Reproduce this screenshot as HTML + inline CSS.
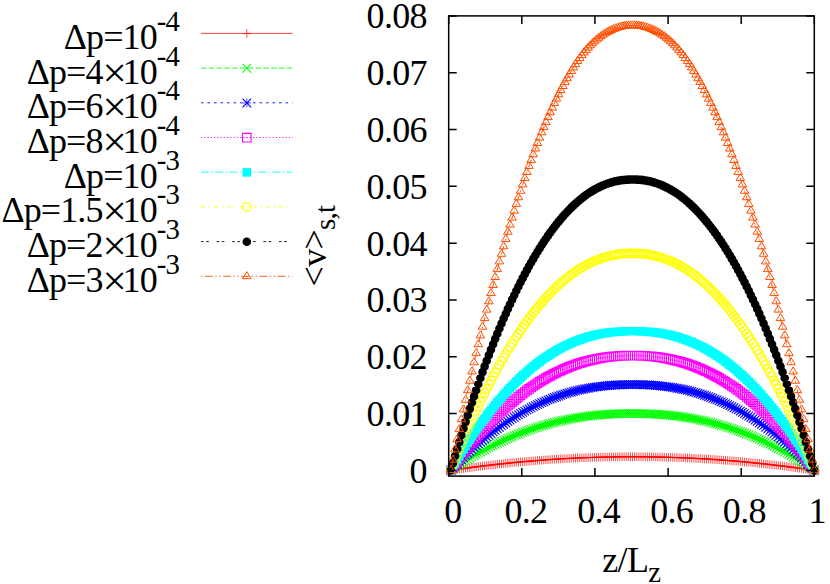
<!DOCTYPE html>
<html><head><meta charset="utf-8"><title>plot</title>
<style>html,body{margin:0;padding:0;background:#fff}svg{display:block}text{font-family:"Liberation Serif",serif;fill:#000;letter-spacing:-0.7px}</style></head><body>
<svg width="830" height="584" viewBox="0 0 830 584">
<rect width="830" height="584" fill="#fff"/>
<defs>
</defs>
<polyline points="450.81,470.4 452.93,470.08 455.04,469.77 457.15,469.47 459.27,469.16 461.38,468.86 463.49,468.56 465.61,468.27 467.72,467.98 469.83,467.7 471.95,467.41 474.06,467.14 476.17,466.86 478.29,466.59 480.4,466.32 482.51,466.06 484.63,465.8 486.74,465.54 488.85,465.29 490.97,465.04 493.08,464.8 495.19,464.55 497.31,464.32 499.42,464.08 501.53,463.85 503.65,463.63 505.76,463.4 507.87,463.18 509.99,462.97 512.1,462.76 514.21,462.55 516.33,462.34 518.44,462.14 520.55,461.94 522.67,461.75 524.78,461.56 526.89,461.37 529.01,461.19 531.12,461.01 533.23,460.84 535.35,460.67 537.46,460.5 539.57,460.33 541.68,460.17 543.8,460.02 545.91,459.86 548.02,459.72 550.14,459.57 552.25,459.43 554.36,459.29 556.48,459.15 558.59,459.02 560.7,458.9 562.82,458.77 564.93,458.65 567.04,458.54 569.16,458.42 571.27,458.32 573.38,458.21 575.5,458.11 577.61,458.01 579.72,457.92 581.84,457.83 583.95,457.74 586.06,457.66 588.18,457.58 590.29,457.5 592.4,457.43 594.52,457.36 596.63,457.3 598.74,457.24 600.86,457.18 602.97,457.13 605.08,457.08 607.2,457.03 609.31,456.99 611.42,456.95 613.54,456.91 615.65,456.88 617.76,456.86 619.88,456.83 621.99,456.81 624.1,456.8 626.22,456.78 628.33,456.77 630.44,456.77 632.56,456.77 634.67,456.77 636.78,456.77 638.9,456.78 641.01,456.8 643.12,456.81 645.24,456.83 647.35,456.86 649.46,456.88 651.58,456.91 653.69,456.95 655.8,456.99 657.92,457.03 660.03,457.08 662.14,457.13 664.26,457.18 666.37,457.24 668.48,457.3 670.6,457.36 672.71,457.43 674.82,457.5 676.94,457.58 679.05,457.66 681.16,457.74 683.28,457.83 685.39,457.92 687.5,458.01 689.62,458.11 691.73,458.21 693.84,458.32 695.96,458.42 698.07,458.54 700.18,458.65 702.3,458.77 704.41,458.9 706.52,459.02 708.64,459.15 710.75,459.29 712.86,459.43 714.98,459.57 717.09,459.72 719.2,459.86 721.32,460.02 723.43,460.17 725.54,460.33 727.65,460.5 729.77,460.67 731.88,460.84 733.99,461.01 736.11,461.19 738.22,461.37 740.33,461.56 742.45,461.75 744.56,461.94 746.67,462.14 748.79,462.34 750.9,462.55 753.01,462.76 755.13,462.97 757.24,463.18 759.35,463.4 761.47,463.63 763.58,463.85 765.69,464.08 767.81,464.32 769.92,464.55 772.03,464.8 774.15,465.04 776.26,465.29 778.37,465.54 780.49,465.8 782.6,466.06 784.71,466.32 786.83,466.59 788.94,466.86 791.05,467.14 793.17,467.41 795.28,467.7 797.39,467.98 799.51,468.27 801.62,468.56 803.73,468.86 805.85,469.16 807.96,469.47 810.07,469.77 812.19,470.08 814.3,470.4" fill="none" stroke="#ff0000" stroke-width="0.75" stroke-dasharray="none"/>
<path d="M446.51,470.4h8.6M450.81,466.1v8.6M448.63,470.08h8.6M452.93,465.78v8.6M450.74,469.77h8.6M455.04,465.47v8.6M452.85,469.47h8.6M457.15,465.17v8.6M454.97,469.16h8.6M459.27,464.86v8.6M457.08,468.86h8.6M461.38,464.56v8.6M459.19,468.56h8.6M463.49,464.26v8.6M461.31,468.27h8.6M465.61,463.97v8.6M463.42,467.98h8.6M467.72,463.68v8.6M465.53,467.7h8.6M469.83,463.4v8.6M467.65,467.41h8.6M471.95,463.11v8.6M469.76,467.14h8.6M474.06,462.84v8.6M471.87,466.86h8.6M476.17,462.56v8.6M473.99,466.59h8.6M478.29,462.29v8.6M476.1,466.32h8.6M480.4,462.02v8.6M478.21,466.06h8.6M482.51,461.76v8.6M480.33,465.8h8.6M484.63,461.5v8.6M482.44,465.54h8.6M486.74,461.24v8.6M484.55,465.29h8.6M488.85,460.99v8.6M486.67,465.04h8.6M490.97,460.74v8.6M488.78,464.8h8.6M493.08,460.5v8.6M490.89,464.55h8.6M495.19,460.25v8.6M493.01,464.32h8.6M497.31,460.02v8.6M495.12,464.08h8.6M499.42,459.78v8.6M497.23,463.85h8.6M501.53,459.55v8.6M499.35,463.63h8.6M503.65,459.33v8.6M501.46,463.4h8.6M505.76,459.1v8.6M503.57,463.18h8.6M507.87,458.88v8.6M505.69,462.97h8.6M509.99,458.67v8.6M507.8,462.76h8.6M512.1,458.46v8.6M509.91,462.55h8.6M514.21,458.25v8.6M512.03,462.34h8.6M516.33,458.04v8.6M514.14,462.14h8.6M518.44,457.84v8.6M516.25,461.94h8.6M520.55,457.64v8.6M518.37,461.75h8.6M522.67,457.45v8.6M520.48,461.56h8.6M524.78,457.26v8.6M522.59,461.37h8.6M526.89,457.07v8.6M524.71,461.19h8.6M529.01,456.89v8.6M526.82,461.01h8.6M531.12,456.71v8.6M528.93,460.84h8.6M533.23,456.54v8.6M531.05,460.67h8.6M535.35,456.37v8.6M533.16,460.5h8.6M537.46,456.2v8.6M535.27,460.33h8.6M539.57,456.03v8.6M537.38,460.17h8.6M541.68,455.87v8.6M539.5,460.02h8.6M543.8,455.72v8.6M541.61,459.86h8.6M545.91,455.56v8.6M543.72,459.72h8.6M548.02,455.42v8.6M545.84,459.57h8.6M550.14,455.27v8.6M547.95,459.43h8.6M552.25,455.13v8.6M550.06,459.29h8.6M554.36,454.99v8.6M552.18,459.15h8.6M556.48,454.85v8.6M554.29,459.02h8.6M558.59,454.72v8.6M556.4,458.9h8.6M560.7,454.6v8.6M558.52,458.77h8.6M562.82,454.47v8.6M560.63,458.65h8.6M564.93,454.35v8.6M562.74,458.54h8.6M567.04,454.24v8.6M564.86,458.42h8.6M569.16,454.12v8.6M566.97,458.32h8.6M571.27,454.02v8.6M569.08,458.21h8.6M573.38,453.91v8.6M571.2,458.11h8.6M575.5,453.81v8.6M573.31,458.01h8.6M577.61,453.71v8.6M575.42,457.92h8.6M579.72,453.62v8.6M577.54,457.83h8.6M581.84,453.53v8.6M579.65,457.74h8.6M583.95,453.44v8.6M581.76,457.66h8.6M586.06,453.36v8.6M583.88,457.58h8.6M588.18,453.28v8.6M585.99,457.5h8.6M590.29,453.2v8.6M588.1,457.43h8.6M592.4,453.13v8.6M590.22,457.36h8.6M594.52,453.06v8.6M592.33,457.3h8.6M596.63,453v8.6M594.44,457.24h8.6M598.74,452.94v8.6M596.56,457.18h8.6M600.86,452.88v8.6M598.67,457.13h8.6M602.97,452.83v8.6M600.78,457.08h8.6M605.08,452.78v8.6M602.9,457.03h8.6M607.2,452.73v8.6M605.01,456.99h8.6M609.31,452.69v8.6M607.12,456.95h8.6M611.42,452.65v8.6M609.24,456.91h8.6M613.54,452.61v8.6M611.35,456.88h8.6M615.65,452.58v8.6M613.46,456.86h8.6M617.76,452.56v8.6M615.58,456.83h8.6M619.88,452.53v8.6M617.69,456.81h8.6M621.99,452.51v8.6M619.8,456.8h8.6M624.1,452.5v8.6M621.92,456.78h8.6M626.22,452.48v8.6M624.03,456.77h8.6M628.33,452.47v8.6M626.14,456.77h8.6M630.44,452.47v8.6M628.26,456.77h8.6M632.56,452.47v8.6M630.37,456.77h8.6M634.67,452.47v8.6M632.48,456.77h8.6M636.78,452.47v8.6M634.6,456.78h8.6M638.9,452.48v8.6M636.71,456.8h8.6M641.01,452.5v8.6M638.82,456.81h8.6M643.12,452.51v8.6M640.94,456.83h8.6M645.24,452.53v8.6M643.05,456.86h8.6M647.35,452.56v8.6M645.16,456.88h8.6M649.46,452.58v8.6M647.28,456.91h8.6M651.58,452.61v8.6M649.39,456.95h8.6M653.69,452.65v8.6M651.5,456.99h8.6M655.8,452.69v8.6M653.62,457.03h8.6M657.92,452.73v8.6M655.73,457.08h8.6M660.03,452.78v8.6M657.84,457.13h8.6M662.14,452.83v8.6M659.96,457.18h8.6M664.26,452.88v8.6M662.07,457.24h8.6M666.37,452.94v8.6M664.18,457.3h8.6M668.48,453v8.6M666.3,457.36h8.6M670.6,453.06v8.6M668.41,457.43h8.6M672.71,453.13v8.6M670.52,457.5h8.6M674.82,453.2v8.6M672.64,457.58h8.6M676.94,453.28v8.6M674.75,457.66h8.6M679.05,453.36v8.6M676.86,457.74h8.6M681.16,453.44v8.6M678.98,457.83h8.6M683.28,453.53v8.6M681.09,457.92h8.6M685.39,453.62v8.6M683.2,458.01h8.6M687.5,453.71v8.6M685.32,458.11h8.6M689.62,453.81v8.6M687.43,458.21h8.6M691.73,453.91v8.6M689.54,458.32h8.6M693.84,454.02v8.6M691.66,458.42h8.6M695.96,454.12v8.6M693.77,458.54h8.6M698.07,454.24v8.6M695.88,458.65h8.6M700.18,454.35v8.6M698,458.77h8.6M702.3,454.47v8.6M700.11,458.9h8.6M704.41,454.6v8.6M702.22,459.02h8.6M706.52,454.72v8.6M704.34,459.15h8.6M708.64,454.85v8.6M706.45,459.29h8.6M710.75,454.99v8.6M708.56,459.43h8.6M712.86,455.13v8.6M710.68,459.57h8.6M714.98,455.27v8.6M712.79,459.72h8.6M717.09,455.42v8.6M714.9,459.86h8.6M719.2,455.56v8.6M717.02,460.02h8.6M721.32,455.72v8.6M719.13,460.17h8.6M723.43,455.87v8.6M721.24,460.33h8.6M725.54,456.03v8.6M723.35,460.5h8.6M727.65,456.2v8.6M725.47,460.67h8.6M729.77,456.37v8.6M727.58,460.84h8.6M731.88,456.54v8.6M729.69,461.01h8.6M733.99,456.71v8.6M731.81,461.19h8.6M736.11,456.89v8.6M733.92,461.37h8.6M738.22,457.07v8.6M736.03,461.56h8.6M740.33,457.26v8.6M738.15,461.75h8.6M742.45,457.45v8.6M740.26,461.94h8.6M744.56,457.64v8.6M742.37,462.14h8.6M746.67,457.84v8.6M744.49,462.34h8.6M748.79,458.04v8.6M746.6,462.55h8.6M750.9,458.25v8.6M748.71,462.76h8.6M753.01,458.46v8.6M750.83,462.97h8.6M755.13,458.67v8.6M752.94,463.18h8.6M757.24,458.88v8.6M755.05,463.4h8.6M759.35,459.1v8.6M757.17,463.63h8.6M761.47,459.33v8.6M759.28,463.85h8.6M763.58,459.55v8.6M761.39,464.08h8.6M765.69,459.78v8.6M763.51,464.32h8.6M767.81,460.02v8.6M765.62,464.55h8.6M769.92,460.25v8.6M767.73,464.8h8.6M772.03,460.5v8.6M769.85,465.04h8.6M774.15,460.74v8.6M771.96,465.29h8.6M776.26,460.99v8.6M774.07,465.54h8.6M778.37,461.24v8.6M776.19,465.8h8.6M780.49,461.5v8.6M778.3,466.06h8.6M782.6,461.76v8.6M780.41,466.32h8.6M784.71,462.02v8.6M782.53,466.59h8.6M786.83,462.29v8.6M784.64,466.86h8.6M788.94,462.56v8.6M786.75,467.14h8.6M791.05,462.84v8.6M788.87,467.41h8.6M793.17,463.11v8.6M790.98,467.7h8.6M795.28,463.4v8.6M793.09,467.98h8.6M797.39,463.68v8.6M795.21,468.27h8.6M799.51,463.97v8.6M797.32,468.56h8.6M801.62,464.26v8.6M799.43,468.86h8.6M803.73,464.56v8.6M801.55,469.16h8.6M805.85,464.86v8.6M803.66,469.47h8.6M807.96,465.17v8.6M805.77,469.77h8.6M810.07,465.47v8.6M807.89,470.08h8.6M812.19,465.78v8.6M810,470.4h8.6M814.3,466.1v8.6" fill="none" stroke="#ff0000" stroke-width="0.7"/>
<polyline points="450.81,470.4 452.93,468.96 455.04,467.53 457.15,466.13 459.27,464.75 461.38,463.39 463.49,462.04 465.61,460.72 467.72,459.42 469.83,458.14 471.95,456.87 474.06,455.63 476.17,454.41 478.29,453.2 480.4,452.02 482.51,450.85 484.63,449.71 486.74,448.58 488.85,447.48 490.97,446.39 493.08,445.32 495.19,444.28 497.31,443.25 499.42,442.24 501.53,441.25 503.65,440.27 505.76,439.32 507.87,438.39 509.99,437.47 512.1,436.58 514.21,435.7 516.33,434.84 518.44,434 520.55,433.18 522.67,432.37 524.78,431.59 526.89,430.82 529.01,430.07 531.12,429.34 533.23,428.63 535.35,427.93 537.46,427.25 539.57,426.6 541.68,425.95 543.8,425.33 545.91,424.72 548.02,424.14 550.14,423.56 552.25,423.01 554.36,422.47 556.48,421.95 558.59,421.45 560.7,420.97 562.82,420.5 564.93,420.04 567.04,419.61 569.16,419.19 571.27,418.79 573.38,418.4 575.5,418.03 577.61,417.68 579.72,417.34 581.84,417.02 583.95,416.71 586.06,416.42 588.18,416.15 590.29,415.89 592.4,415.64 594.52,415.41 596.63,415.2 598.74,414.99 600.86,414.81 602.97,414.64 605.08,414.48 607.2,414.34 609.31,414.21 611.42,414.09 613.54,413.99 615.65,413.9 617.76,413.82 619.88,413.75 621.99,413.7 624.1,413.66 626.22,413.63 628.33,413.6 630.44,413.59 632.56,413.59 634.67,413.59 636.78,413.6 638.9,413.63 641.01,413.66 643.12,413.7 645.24,413.75 647.35,413.82 649.46,413.9 651.58,413.99 653.69,414.09 655.8,414.21 657.92,414.34 660.03,414.48 662.14,414.64 664.26,414.81 666.37,414.99 668.48,415.2 670.6,415.41 672.71,415.64 674.82,415.89 676.94,416.15 679.05,416.42 681.16,416.71 683.28,417.02 685.39,417.34 687.5,417.68 689.62,418.03 691.73,418.4 693.84,418.79 695.96,419.19 698.07,419.61 700.18,420.04 702.3,420.5 704.41,420.97 706.52,421.45 708.64,421.95 710.75,422.47 712.86,423.01 714.98,423.56 717.09,424.14 719.2,424.72 721.32,425.33 723.43,425.95 725.54,426.6 727.65,427.25 729.77,427.93 731.88,428.63 733.99,429.34 736.11,430.07 738.22,430.82 740.33,431.59 742.45,432.37 744.56,433.18 746.67,434 748.79,434.84 750.9,435.7 753.01,436.58 755.13,437.47 757.24,438.39 759.35,439.32 761.47,440.27 763.58,441.25 765.69,442.24 767.81,443.25 769.92,444.28 772.03,445.32 774.15,446.39 776.26,447.48 778.37,448.58 780.49,449.71 782.6,450.85 784.71,452.02 786.83,453.2 788.94,454.41 791.05,455.63 793.17,456.87 795.28,458.14 797.39,459.42 799.51,460.72 801.62,462.04 803.73,463.39 805.85,464.75 807.96,466.13 810.07,467.53 812.19,468.96 814.3,470.4" fill="none" stroke="#00ff00" stroke-width="0.9" stroke-dasharray="5.20,2.60"/>
<path d="M446.51,466.1l8.6,8.6m-8.6,0l8.6,-8.6M448.63,464.66l8.6,8.6m-8.6,0l8.6,-8.6M450.74,463.23l8.6,8.6m-8.6,0l8.6,-8.6M452.85,461.83l8.6,8.6m-8.6,0l8.6,-8.6M454.97,460.45l8.6,8.6m-8.6,0l8.6,-8.6M457.08,459.09l8.6,8.6m-8.6,0l8.6,-8.6M459.19,457.74l8.6,8.6m-8.6,0l8.6,-8.6M461.31,456.42l8.6,8.6m-8.6,0l8.6,-8.6M463.42,455.12l8.6,8.6m-8.6,0l8.6,-8.6M465.53,453.84l8.6,8.6m-8.6,0l8.6,-8.6M467.65,452.57l8.6,8.6m-8.6,0l8.6,-8.6M469.76,451.33l8.6,8.6m-8.6,0l8.6,-8.6M471.87,450.11l8.6,8.6m-8.6,0l8.6,-8.6M473.99,448.9l8.6,8.6m-8.6,0l8.6,-8.6M476.1,447.72l8.6,8.6m-8.6,0l8.6,-8.6M478.21,446.55l8.6,8.6m-8.6,0l8.6,-8.6M480.33,445.41l8.6,8.6m-8.6,0l8.6,-8.6M482.44,444.28l8.6,8.6m-8.6,0l8.6,-8.6M484.55,443.18l8.6,8.6m-8.6,0l8.6,-8.6M486.67,442.09l8.6,8.6m-8.6,0l8.6,-8.6M488.78,441.02l8.6,8.6m-8.6,0l8.6,-8.6M490.89,439.98l8.6,8.6m-8.6,0l8.6,-8.6M493.01,438.95l8.6,8.6m-8.6,0l8.6,-8.6M495.12,437.94l8.6,8.6m-8.6,0l8.6,-8.6M497.23,436.95l8.6,8.6m-8.6,0l8.6,-8.6M499.35,435.97l8.6,8.6m-8.6,0l8.6,-8.6M501.46,435.02l8.6,8.6m-8.6,0l8.6,-8.6M503.57,434.09l8.6,8.6m-8.6,0l8.6,-8.6M505.69,433.17l8.6,8.6m-8.6,0l8.6,-8.6M507.8,432.28l8.6,8.6m-8.6,0l8.6,-8.6M509.91,431.4l8.6,8.6m-8.6,0l8.6,-8.6M512.03,430.54l8.6,8.6m-8.6,0l8.6,-8.6M514.14,429.7l8.6,8.6m-8.6,0l8.6,-8.6M516.25,428.88l8.6,8.6m-8.6,0l8.6,-8.6M518.37,428.07l8.6,8.6m-8.6,0l8.6,-8.6M520.48,427.29l8.6,8.6m-8.6,0l8.6,-8.6M522.59,426.52l8.6,8.6m-8.6,0l8.6,-8.6M524.71,425.77l8.6,8.6m-8.6,0l8.6,-8.6M526.82,425.04l8.6,8.6m-8.6,0l8.6,-8.6M528.93,424.33l8.6,8.6m-8.6,0l8.6,-8.6M531.05,423.63l8.6,8.6m-8.6,0l8.6,-8.6M533.16,422.95l8.6,8.6m-8.6,0l8.6,-8.6M535.27,422.3l8.6,8.6m-8.6,0l8.6,-8.6M537.38,421.65l8.6,8.6m-8.6,0l8.6,-8.6M539.5,421.03l8.6,8.6m-8.6,0l8.6,-8.6M541.61,420.42l8.6,8.6m-8.6,0l8.6,-8.6M543.72,419.84l8.6,8.6m-8.6,0l8.6,-8.6M545.84,419.26l8.6,8.6m-8.6,0l8.6,-8.6M547.95,418.71l8.6,8.6m-8.6,0l8.6,-8.6M550.06,418.17l8.6,8.6m-8.6,0l8.6,-8.6M552.18,417.65l8.6,8.6m-8.6,0l8.6,-8.6M554.29,417.15l8.6,8.6m-8.6,0l8.6,-8.6M556.4,416.67l8.6,8.6m-8.6,0l8.6,-8.6M558.52,416.2l8.6,8.6m-8.6,0l8.6,-8.6M560.63,415.74l8.6,8.6m-8.6,0l8.6,-8.6M562.74,415.31l8.6,8.6m-8.6,0l8.6,-8.6M564.86,414.89l8.6,8.6m-8.6,0l8.6,-8.6M566.97,414.49l8.6,8.6m-8.6,0l8.6,-8.6M569.08,414.1l8.6,8.6m-8.6,0l8.6,-8.6M571.2,413.73l8.6,8.6m-8.6,0l8.6,-8.6M573.31,413.38l8.6,8.6m-8.6,0l8.6,-8.6M575.42,413.04l8.6,8.6m-8.6,0l8.6,-8.6M577.54,412.72l8.6,8.6m-8.6,0l8.6,-8.6M579.65,412.41l8.6,8.6m-8.6,0l8.6,-8.6M581.76,412.12l8.6,8.6m-8.6,0l8.6,-8.6M583.88,411.85l8.6,8.6m-8.6,0l8.6,-8.6M585.99,411.59l8.6,8.6m-8.6,0l8.6,-8.6M588.1,411.34l8.6,8.6m-8.6,0l8.6,-8.6M590.22,411.11l8.6,8.6m-8.6,0l8.6,-8.6M592.33,410.9l8.6,8.6m-8.6,0l8.6,-8.6M594.44,410.69l8.6,8.6m-8.6,0l8.6,-8.6M596.56,410.51l8.6,8.6m-8.6,0l8.6,-8.6M598.67,410.34l8.6,8.6m-8.6,0l8.6,-8.6M600.78,410.18l8.6,8.6m-8.6,0l8.6,-8.6M602.9,410.04l8.6,8.6m-8.6,0l8.6,-8.6M605.01,409.91l8.6,8.6m-8.6,0l8.6,-8.6M607.12,409.79l8.6,8.6m-8.6,0l8.6,-8.6M609.24,409.69l8.6,8.6m-8.6,0l8.6,-8.6M611.35,409.6l8.6,8.6m-8.6,0l8.6,-8.6M613.46,409.52l8.6,8.6m-8.6,0l8.6,-8.6M615.58,409.45l8.6,8.6m-8.6,0l8.6,-8.6M617.69,409.4l8.6,8.6m-8.6,0l8.6,-8.6M619.8,409.36l8.6,8.6m-8.6,0l8.6,-8.6M621.92,409.33l8.6,8.6m-8.6,0l8.6,-8.6M624.03,409.3l8.6,8.6m-8.6,0l8.6,-8.6M626.14,409.29l8.6,8.6m-8.6,0l8.6,-8.6M628.26,409.29l8.6,8.6m-8.6,0l8.6,-8.6M630.37,409.29l8.6,8.6m-8.6,0l8.6,-8.6M632.48,409.3l8.6,8.6m-8.6,0l8.6,-8.6M634.6,409.33l8.6,8.6m-8.6,0l8.6,-8.6M636.71,409.36l8.6,8.6m-8.6,0l8.6,-8.6M638.82,409.4l8.6,8.6m-8.6,0l8.6,-8.6M640.94,409.45l8.6,8.6m-8.6,0l8.6,-8.6M643.05,409.52l8.6,8.6m-8.6,0l8.6,-8.6M645.16,409.6l8.6,8.6m-8.6,0l8.6,-8.6M647.28,409.69l8.6,8.6m-8.6,0l8.6,-8.6M649.39,409.79l8.6,8.6m-8.6,0l8.6,-8.6M651.5,409.91l8.6,8.6m-8.6,0l8.6,-8.6M653.62,410.04l8.6,8.6m-8.6,0l8.6,-8.6M655.73,410.18l8.6,8.6m-8.6,0l8.6,-8.6M657.84,410.34l8.6,8.6m-8.6,0l8.6,-8.6M659.96,410.51l8.6,8.6m-8.6,0l8.6,-8.6M662.07,410.69l8.6,8.6m-8.6,0l8.6,-8.6M664.18,410.9l8.6,8.6m-8.6,0l8.6,-8.6M666.3,411.11l8.6,8.6m-8.6,0l8.6,-8.6M668.41,411.34l8.6,8.6m-8.6,0l8.6,-8.6M670.52,411.59l8.6,8.6m-8.6,0l8.6,-8.6M672.64,411.85l8.6,8.6m-8.6,0l8.6,-8.6M674.75,412.12l8.6,8.6m-8.6,0l8.6,-8.6M676.86,412.41l8.6,8.6m-8.6,0l8.6,-8.6M678.98,412.72l8.6,8.6m-8.6,0l8.6,-8.6M681.09,413.04l8.6,8.6m-8.6,0l8.6,-8.6M683.2,413.38l8.6,8.6m-8.6,0l8.6,-8.6M685.32,413.73l8.6,8.6m-8.6,0l8.6,-8.6M687.43,414.1l8.6,8.6m-8.6,0l8.6,-8.6M689.54,414.49l8.6,8.6m-8.6,0l8.6,-8.6M691.66,414.89l8.6,8.6m-8.6,0l8.6,-8.6M693.77,415.31l8.6,8.6m-8.6,0l8.6,-8.6M695.88,415.74l8.6,8.6m-8.6,0l8.6,-8.6M698,416.2l8.6,8.6m-8.6,0l8.6,-8.6M700.11,416.67l8.6,8.6m-8.6,0l8.6,-8.6M702.22,417.15l8.6,8.6m-8.6,0l8.6,-8.6M704.34,417.65l8.6,8.6m-8.6,0l8.6,-8.6M706.45,418.17l8.6,8.6m-8.6,0l8.6,-8.6M708.56,418.71l8.6,8.6m-8.6,0l8.6,-8.6M710.68,419.26l8.6,8.6m-8.6,0l8.6,-8.6M712.79,419.84l8.6,8.6m-8.6,0l8.6,-8.6M714.9,420.42l8.6,8.6m-8.6,0l8.6,-8.6M717.02,421.03l8.6,8.6m-8.6,0l8.6,-8.6M719.13,421.65l8.6,8.6m-8.6,0l8.6,-8.6M721.24,422.3l8.6,8.6m-8.6,0l8.6,-8.6M723.35,422.95l8.6,8.6m-8.6,0l8.6,-8.6M725.47,423.63l8.6,8.6m-8.6,0l8.6,-8.6M727.58,424.33l8.6,8.6m-8.6,0l8.6,-8.6M729.69,425.04l8.6,8.6m-8.6,0l8.6,-8.6M731.81,425.77l8.6,8.6m-8.6,0l8.6,-8.6M733.92,426.52l8.6,8.6m-8.6,0l8.6,-8.6M736.03,427.29l8.6,8.6m-8.6,0l8.6,-8.6M738.15,428.07l8.6,8.6m-8.6,0l8.6,-8.6M740.26,428.88l8.6,8.6m-8.6,0l8.6,-8.6M742.37,429.7l8.6,8.6m-8.6,0l8.6,-8.6M744.49,430.54l8.6,8.6m-8.6,0l8.6,-8.6M746.6,431.4l8.6,8.6m-8.6,0l8.6,-8.6M748.71,432.28l8.6,8.6m-8.6,0l8.6,-8.6M750.83,433.17l8.6,8.6m-8.6,0l8.6,-8.6M752.94,434.09l8.6,8.6m-8.6,0l8.6,-8.6M755.05,435.02l8.6,8.6m-8.6,0l8.6,-8.6M757.17,435.97l8.6,8.6m-8.6,0l8.6,-8.6M759.28,436.95l8.6,8.6m-8.6,0l8.6,-8.6M761.39,437.94l8.6,8.6m-8.6,0l8.6,-8.6M763.51,438.95l8.6,8.6m-8.6,0l8.6,-8.6M765.62,439.98l8.6,8.6m-8.6,0l8.6,-8.6M767.73,441.02l8.6,8.6m-8.6,0l8.6,-8.6M769.85,442.09l8.6,8.6m-8.6,0l8.6,-8.6M771.96,443.18l8.6,8.6m-8.6,0l8.6,-8.6M774.07,444.28l8.6,8.6m-8.6,0l8.6,-8.6M776.19,445.41l8.6,8.6m-8.6,0l8.6,-8.6M778.3,446.55l8.6,8.6m-8.6,0l8.6,-8.6M780.41,447.72l8.6,8.6m-8.6,0l8.6,-8.6M782.53,448.9l8.6,8.6m-8.6,0l8.6,-8.6M784.64,450.11l8.6,8.6m-8.6,0l8.6,-8.6M786.75,451.33l8.6,8.6m-8.6,0l8.6,-8.6M788.87,452.57l8.6,8.6m-8.6,0l8.6,-8.6M790.98,453.84l8.6,8.6m-8.6,0l8.6,-8.6M793.09,455.12l8.6,8.6m-8.6,0l8.6,-8.6M795.21,456.42l8.6,8.6m-8.6,0l8.6,-8.6M797.32,457.74l8.6,8.6m-8.6,0l8.6,-8.6M799.43,459.09l8.6,8.6m-8.6,0l8.6,-8.6M801.55,460.45l8.6,8.6m-8.6,0l8.6,-8.6M803.66,461.83l8.6,8.6m-8.6,0l8.6,-8.6M805.77,463.23l8.6,8.6m-8.6,0l8.6,-8.6M807.89,464.66l8.6,8.6m-8.6,0l8.6,-8.6M810,466.1l8.6,8.6m-8.6,0l8.6,-8.6" fill="none" stroke="#00ff00" stroke-width="1.05"/>
<polyline points="450.81,470.4 452.93,468.17 455.04,465.98 457.15,463.81 459.27,461.68 461.38,459.58 463.49,457.52 465.61,455.48 467.72,453.48 469.83,451.51 471.95,449.57 474.06,447.66 476.17,445.79 478.29,443.94 480.4,442.13 482.51,440.35 484.63,438.6 486.74,436.88 488.85,435.19 490.97,433.53 493.08,431.91 495.19,430.31 497.31,428.74 499.42,427.21 501.53,425.7 503.65,424.22 505.76,422.78 507.87,421.36 509.99,419.98 512.1,418.62 514.21,417.29 516.33,415.99 518.44,414.72 520.55,413.48 522.67,412.27 524.78,411.09 526.89,409.94 529.01,408.81 531.12,407.71 533.23,406.65 535.35,405.61 537.46,404.59 539.57,403.61 541.68,402.65 543.8,401.72 545.91,400.82 548.02,399.94 550.14,399.09 552.25,398.27 554.36,397.48 556.48,396.71 558.59,395.97 560.7,395.25 562.82,394.56 564.93,393.89 567.04,393.25 569.16,392.64 571.27,392.05 573.38,391.49 575.5,390.95 577.61,390.43 579.72,389.94 581.84,389.47 583.95,389.03 586.06,388.61 588.18,388.21 590.29,387.84 592.4,387.49 594.52,387.16 596.63,386.85 598.74,386.57 600.86,386.3 602.97,386.06 605.08,385.84 607.2,385.64 609.31,385.46 611.42,385.29 613.54,385.15 615.65,385.03 617.76,384.92 619.88,384.83 621.99,384.76 624.1,384.7 626.22,384.66 628.33,384.64 630.44,384.62 632.56,384.62 634.67,384.62 636.78,384.64 638.9,384.66 641.01,384.7 643.12,384.76 645.24,384.83 647.35,384.92 649.46,385.03 651.58,385.15 653.69,385.29 655.8,385.46 657.92,385.64 660.03,385.84 662.14,386.06 664.26,386.3 666.37,386.57 668.48,386.85 670.6,387.16 672.71,387.49 674.82,387.84 676.94,388.21 679.05,388.61 681.16,389.03 683.28,389.47 685.39,389.94 687.5,390.43 689.62,390.95 691.73,391.49 693.84,392.05 695.96,392.64 698.07,393.25 700.18,393.89 702.3,394.56 704.41,395.25 706.52,395.97 708.64,396.71 710.75,397.48 712.86,398.27 714.98,399.09 717.09,399.94 719.2,400.82 721.32,401.72 723.43,402.65 725.54,403.61 727.65,404.59 729.77,405.61 731.88,406.65 733.99,407.71 736.11,408.81 738.22,409.94 740.33,411.09 742.45,412.27 744.56,413.48 746.67,414.72 748.79,415.99 750.9,417.29 753.01,418.62 755.13,419.98 757.24,421.36 759.35,422.78 761.47,424.22 763.58,425.7 765.69,427.21 767.81,428.74 769.92,430.31 772.03,431.91 774.15,433.53 776.26,435.19 778.37,436.88 780.49,438.6 782.6,440.35 784.71,442.13 786.83,443.94 788.94,445.79 791.05,447.66 793.17,449.57 795.28,451.51 797.39,453.48 799.51,455.48 801.62,457.52 803.73,459.58 805.85,461.68 807.96,463.81 810.07,465.98 812.19,468.17 814.3,470.4" fill="none" stroke="#0000ff" stroke-width="0.9" stroke-dasharray="2.60,3.90"/>
<path d="M446.51,470.4h8.6M450.81,466.1v8.6M448.63,468.17h8.6M452.93,463.87v8.6M450.74,465.98h8.6M455.04,461.68v8.6M452.85,463.81h8.6M457.15,459.51v8.6M454.97,461.68h8.6M459.27,457.38v8.6M457.08,459.58h8.6M461.38,455.28v8.6M459.19,457.52h8.6M463.49,453.22v8.6M461.31,455.48h8.6M465.61,451.18v8.6M463.42,453.48h8.6M467.72,449.18v8.6M465.53,451.51h8.6M469.83,447.21v8.6M467.65,449.57h8.6M471.95,445.27v8.6M469.76,447.66h8.6M474.06,443.36v8.6M471.87,445.79h8.6M476.17,441.49v8.6M473.99,443.94h8.6M478.29,439.64v8.6M476.1,442.13h8.6M480.4,437.83v8.6M478.21,440.35h8.6M482.51,436.05v8.6M480.33,438.6h8.6M484.63,434.3v8.6M482.44,436.88h8.6M486.74,432.58v8.6M484.55,435.19h8.6M488.85,430.89v8.6M486.67,433.53h8.6M490.97,429.23v8.6M488.78,431.91h8.6M493.08,427.61v8.6M490.89,430.31h8.6M495.19,426.01v8.6M493.01,428.74h8.6M497.31,424.44v8.6M495.12,427.21h8.6M499.42,422.91v8.6M497.23,425.7h8.6M501.53,421.4v8.6M499.35,424.22h8.6M503.65,419.92v8.6M501.46,422.78h8.6M505.76,418.48v8.6M503.57,421.36h8.6M507.87,417.06v8.6M505.69,419.98h8.6M509.99,415.68v8.6M507.8,418.62h8.6M512.1,414.32v8.6M509.91,417.29h8.6M514.21,412.99v8.6M512.03,415.99h8.6M516.33,411.69v8.6M514.14,414.72h8.6M518.44,410.42v8.6M516.25,413.48h8.6M520.55,409.18v8.6M518.37,412.27h8.6M522.67,407.97v8.6M520.48,411.09h8.6M524.78,406.79v8.6M522.59,409.94h8.6M526.89,405.64v8.6M524.71,408.81h8.6M529.01,404.51v8.6M526.82,407.71h8.6M531.12,403.41v8.6M528.93,406.65h8.6M533.23,402.35v8.6M531.05,405.61h8.6M535.35,401.31v8.6M533.16,404.59h8.6M537.46,400.29v8.6M535.27,403.61h8.6M539.57,399.31v8.6M537.38,402.65h8.6M541.68,398.35v8.6M539.5,401.72h8.6M543.8,397.42v8.6M541.61,400.82h8.6M545.91,396.52v8.6M543.72,399.94h8.6M548.02,395.64v8.6M545.84,399.09h8.6M550.14,394.79v8.6M547.95,398.27h8.6M552.25,393.97v8.6M550.06,397.48h8.6M554.36,393.18v8.6M552.18,396.71h8.6M556.48,392.41v8.6M554.29,395.97h8.6M558.59,391.67v8.6M556.4,395.25h8.6M560.7,390.95v8.6M558.52,394.56h8.6M562.82,390.26v8.6M560.63,393.89h8.6M564.93,389.59v8.6M562.74,393.25h8.6M567.04,388.95v8.6M564.86,392.64h8.6M569.16,388.34v8.6M566.97,392.05h8.6M571.27,387.75v8.6M569.08,391.49h8.6M573.38,387.19v8.6M571.2,390.95h8.6M575.5,386.65v8.6M573.31,390.43h8.6M577.61,386.13v8.6M575.42,389.94h8.6M579.72,385.64v8.6M577.54,389.47h8.6M581.84,385.17v8.6M579.65,389.03h8.6M583.95,384.73v8.6M581.76,388.61h8.6M586.06,384.31v8.6M583.88,388.21h8.6M588.18,383.91v8.6M585.99,387.84h8.6M590.29,383.54v8.6M588.1,387.49h8.6M592.4,383.19v8.6M590.22,387.16h8.6M594.52,382.86v8.6M592.33,386.85h8.6M596.63,382.55v8.6M594.44,386.57h8.6M598.74,382.27v8.6M596.56,386.3h8.6M600.86,382v8.6M598.67,386.06h8.6M602.97,381.76v8.6M600.78,385.84h8.6M605.08,381.54v8.6M602.9,385.64h8.6M607.2,381.34v8.6M605.01,385.46h8.6M609.31,381.16v8.6M607.12,385.29h8.6M611.42,380.99v8.6M609.24,385.15h8.6M613.54,380.85v8.6M611.35,385.03h8.6M615.65,380.73v8.6M613.46,384.92h8.6M617.76,380.62v8.6M615.58,384.83h8.6M619.88,380.53v8.6M617.69,384.76h8.6M621.99,380.46v8.6M619.8,384.7h8.6M624.1,380.4v8.6M621.92,384.66h8.6M626.22,380.36v8.6M624.03,384.64h8.6M628.33,380.34v8.6M626.14,384.62h8.6M630.44,380.32v8.6M628.26,384.62h8.6M632.56,380.32v8.6M630.37,384.62h8.6M634.67,380.32v8.6M632.48,384.64h8.6M636.78,380.34v8.6M634.6,384.66h8.6M638.9,380.36v8.6M636.71,384.7h8.6M641.01,380.4v8.6M638.82,384.76h8.6M643.12,380.46v8.6M640.94,384.83h8.6M645.24,380.53v8.6M643.05,384.92h8.6M647.35,380.62v8.6M645.16,385.03h8.6M649.46,380.73v8.6M647.28,385.15h8.6M651.58,380.85v8.6M649.39,385.29h8.6M653.69,380.99v8.6M651.5,385.46h8.6M655.8,381.16v8.6M653.62,385.64h8.6M657.92,381.34v8.6M655.73,385.84h8.6M660.03,381.54v8.6M657.84,386.06h8.6M662.14,381.76v8.6M659.96,386.3h8.6M664.26,382v8.6M662.07,386.57h8.6M666.37,382.27v8.6M664.18,386.85h8.6M668.48,382.55v8.6M666.3,387.16h8.6M670.6,382.86v8.6M668.41,387.49h8.6M672.71,383.19v8.6M670.52,387.84h8.6M674.82,383.54v8.6M672.64,388.21h8.6M676.94,383.91v8.6M674.75,388.61h8.6M679.05,384.31v8.6M676.86,389.03h8.6M681.16,384.73v8.6M678.98,389.47h8.6M683.28,385.17v8.6M681.09,389.94h8.6M685.39,385.64v8.6M683.2,390.43h8.6M687.5,386.13v8.6M685.32,390.95h8.6M689.62,386.65v8.6M687.43,391.49h8.6M691.73,387.19v8.6M689.54,392.05h8.6M693.84,387.75v8.6M691.66,392.64h8.6M695.96,388.34v8.6M693.77,393.25h8.6M698.07,388.95v8.6M695.88,393.89h8.6M700.18,389.59v8.6M698,394.56h8.6M702.3,390.26v8.6M700.11,395.25h8.6M704.41,390.95v8.6M702.22,395.97h8.6M706.52,391.67v8.6M704.34,396.71h8.6M708.64,392.41v8.6M706.45,397.48h8.6M710.75,393.18v8.6M708.56,398.27h8.6M712.86,393.97v8.6M710.68,399.09h8.6M714.98,394.79v8.6M712.79,399.94h8.6M717.09,395.64v8.6M714.9,400.82h8.6M719.2,396.52v8.6M717.02,401.72h8.6M721.32,397.42v8.6M719.13,402.65h8.6M723.43,398.35v8.6M721.24,403.61h8.6M725.54,399.31v8.6M723.35,404.59h8.6M727.65,400.29v8.6M725.47,405.61h8.6M729.77,401.31v8.6M727.58,406.65h8.6M731.88,402.35v8.6M729.69,407.71h8.6M733.99,403.41v8.6M731.81,408.81h8.6M736.11,404.51v8.6M733.92,409.94h8.6M738.22,405.64v8.6M736.03,411.09h8.6M740.33,406.79v8.6M738.15,412.27h8.6M742.45,407.97v8.6M740.26,413.48h8.6M744.56,409.18v8.6M742.37,414.72h8.6M746.67,410.42v8.6M744.49,415.99h8.6M748.79,411.69v8.6M746.6,417.29h8.6M750.9,412.99v8.6M748.71,418.62h8.6M753.01,414.32v8.6M750.83,419.98h8.6M755.13,415.68v8.6M752.94,421.36h8.6M757.24,417.06v8.6M755.05,422.78h8.6M759.35,418.48v8.6M757.17,424.22h8.6M761.47,419.92v8.6M759.28,425.7h8.6M763.58,421.4v8.6M761.39,427.21h8.6M765.69,422.91v8.6M763.51,428.74h8.6M767.81,424.44v8.6M765.62,430.31h8.6M769.92,426.01v8.6M767.73,431.91h8.6M772.03,427.61v8.6M769.85,433.53h8.6M774.15,429.23v8.6M771.96,435.19h8.6M776.26,430.89v8.6M774.07,436.88h8.6M778.37,432.58v8.6M776.19,438.6h8.6M780.49,434.3v8.6M778.3,440.35h8.6M782.6,436.05v8.6M780.41,442.13h8.6M784.71,437.83v8.6M782.53,443.94h8.6M786.83,439.64v8.6M784.64,445.79h8.6M788.94,441.49v8.6M786.75,447.66h8.6M791.05,443.36v8.6M788.87,449.57h8.6M793.17,445.27v8.6M790.98,451.51h8.6M795.28,447.21v8.6M793.09,453.48h8.6M797.39,449.18v8.6M795.21,455.48h8.6M799.51,451.18v8.6M797.32,457.52h8.6M801.62,453.22v8.6M799.43,459.58h8.6M803.73,455.28v8.6M801.55,461.68h8.6M805.85,457.38v8.6M803.66,463.81h8.6M807.96,459.51v8.6M805.77,465.98h8.6M810.07,461.68v8.6M807.89,468.17h8.6M812.19,463.87v8.6M810,470.4h8.6M814.3,466.1v8.6" fill="none" stroke="#0000ff" stroke-width="0.7"/>
<path d="M446.51,466.1l8.6,8.6m-8.6,0l8.6,-8.6M448.63,463.87l8.6,8.6m-8.6,0l8.6,-8.6M450.74,461.68l8.6,8.6m-8.6,0l8.6,-8.6M452.85,459.51l8.6,8.6m-8.6,0l8.6,-8.6M454.97,457.38l8.6,8.6m-8.6,0l8.6,-8.6M457.08,455.28l8.6,8.6m-8.6,0l8.6,-8.6M459.19,453.22l8.6,8.6m-8.6,0l8.6,-8.6M461.31,451.18l8.6,8.6m-8.6,0l8.6,-8.6M463.42,449.18l8.6,8.6m-8.6,0l8.6,-8.6M465.53,447.21l8.6,8.6m-8.6,0l8.6,-8.6M467.65,445.27l8.6,8.6m-8.6,0l8.6,-8.6M469.76,443.36l8.6,8.6m-8.6,0l8.6,-8.6M471.87,441.49l8.6,8.6m-8.6,0l8.6,-8.6M473.99,439.64l8.6,8.6m-8.6,0l8.6,-8.6M476.1,437.83l8.6,8.6m-8.6,0l8.6,-8.6M478.21,436.05l8.6,8.6m-8.6,0l8.6,-8.6M480.33,434.3l8.6,8.6m-8.6,0l8.6,-8.6M482.44,432.58l8.6,8.6m-8.6,0l8.6,-8.6M484.55,430.89l8.6,8.6m-8.6,0l8.6,-8.6M486.67,429.23l8.6,8.6m-8.6,0l8.6,-8.6M488.78,427.61l8.6,8.6m-8.6,0l8.6,-8.6M490.89,426.01l8.6,8.6m-8.6,0l8.6,-8.6M493.01,424.44l8.6,8.6m-8.6,0l8.6,-8.6M495.12,422.91l8.6,8.6m-8.6,0l8.6,-8.6M497.23,421.4l8.6,8.6m-8.6,0l8.6,-8.6M499.35,419.92l8.6,8.6m-8.6,0l8.6,-8.6M501.46,418.48l8.6,8.6m-8.6,0l8.6,-8.6M503.57,417.06l8.6,8.6m-8.6,0l8.6,-8.6M505.69,415.68l8.6,8.6m-8.6,0l8.6,-8.6M507.8,414.32l8.6,8.6m-8.6,0l8.6,-8.6M509.91,412.99l8.6,8.6m-8.6,0l8.6,-8.6M512.03,411.69l8.6,8.6m-8.6,0l8.6,-8.6M514.14,410.42l8.6,8.6m-8.6,0l8.6,-8.6M516.25,409.18l8.6,8.6m-8.6,0l8.6,-8.6M518.37,407.97l8.6,8.6m-8.6,0l8.6,-8.6M520.48,406.79l8.6,8.6m-8.6,0l8.6,-8.6M522.59,405.64l8.6,8.6m-8.6,0l8.6,-8.6M524.71,404.51l8.6,8.6m-8.6,0l8.6,-8.6M526.82,403.41l8.6,8.6m-8.6,0l8.6,-8.6M528.93,402.35l8.6,8.6m-8.6,0l8.6,-8.6M531.05,401.31l8.6,8.6m-8.6,0l8.6,-8.6M533.16,400.29l8.6,8.6m-8.6,0l8.6,-8.6M535.27,399.31l8.6,8.6m-8.6,0l8.6,-8.6M537.38,398.35l8.6,8.6m-8.6,0l8.6,-8.6M539.5,397.42l8.6,8.6m-8.6,0l8.6,-8.6M541.61,396.52l8.6,8.6m-8.6,0l8.6,-8.6M543.72,395.64l8.6,8.6m-8.6,0l8.6,-8.6M545.84,394.79l8.6,8.6m-8.6,0l8.6,-8.6M547.95,393.97l8.6,8.6m-8.6,0l8.6,-8.6M550.06,393.18l8.6,8.6m-8.6,0l8.6,-8.6M552.18,392.41l8.6,8.6m-8.6,0l8.6,-8.6M554.29,391.67l8.6,8.6m-8.6,0l8.6,-8.6M556.4,390.95l8.6,8.6m-8.6,0l8.6,-8.6M558.52,390.26l8.6,8.6m-8.6,0l8.6,-8.6M560.63,389.59l8.6,8.6m-8.6,0l8.6,-8.6M562.74,388.95l8.6,8.6m-8.6,0l8.6,-8.6M564.86,388.34l8.6,8.6m-8.6,0l8.6,-8.6M566.97,387.75l8.6,8.6m-8.6,0l8.6,-8.6M569.08,387.19l8.6,8.6m-8.6,0l8.6,-8.6M571.2,386.65l8.6,8.6m-8.6,0l8.6,-8.6M573.31,386.13l8.6,8.6m-8.6,0l8.6,-8.6M575.42,385.64l8.6,8.6m-8.6,0l8.6,-8.6M577.54,385.17l8.6,8.6m-8.6,0l8.6,-8.6M579.65,384.73l8.6,8.6m-8.6,0l8.6,-8.6M581.76,384.31l8.6,8.6m-8.6,0l8.6,-8.6M583.88,383.91l8.6,8.6m-8.6,0l8.6,-8.6M585.99,383.54l8.6,8.6m-8.6,0l8.6,-8.6M588.1,383.19l8.6,8.6m-8.6,0l8.6,-8.6M590.22,382.86l8.6,8.6m-8.6,0l8.6,-8.6M592.33,382.55l8.6,8.6m-8.6,0l8.6,-8.6M594.44,382.27l8.6,8.6m-8.6,0l8.6,-8.6M596.56,382l8.6,8.6m-8.6,0l8.6,-8.6M598.67,381.76l8.6,8.6m-8.6,0l8.6,-8.6M600.78,381.54l8.6,8.6m-8.6,0l8.6,-8.6M602.9,381.34l8.6,8.6m-8.6,0l8.6,-8.6M605.01,381.16l8.6,8.6m-8.6,0l8.6,-8.6M607.12,380.99l8.6,8.6m-8.6,0l8.6,-8.6M609.24,380.85l8.6,8.6m-8.6,0l8.6,-8.6M611.35,380.73l8.6,8.6m-8.6,0l8.6,-8.6M613.46,380.62l8.6,8.6m-8.6,0l8.6,-8.6M615.58,380.53l8.6,8.6m-8.6,0l8.6,-8.6M617.69,380.46l8.6,8.6m-8.6,0l8.6,-8.6M619.8,380.4l8.6,8.6m-8.6,0l8.6,-8.6M621.92,380.36l8.6,8.6m-8.6,0l8.6,-8.6M624.03,380.34l8.6,8.6m-8.6,0l8.6,-8.6M626.14,380.32l8.6,8.6m-8.6,0l8.6,-8.6M628.26,380.32l8.6,8.6m-8.6,0l8.6,-8.6M630.37,380.32l8.6,8.6m-8.6,0l8.6,-8.6M632.48,380.34l8.6,8.6m-8.6,0l8.6,-8.6M634.6,380.36l8.6,8.6m-8.6,0l8.6,-8.6M636.71,380.4l8.6,8.6m-8.6,0l8.6,-8.6M638.82,380.46l8.6,8.6m-8.6,0l8.6,-8.6M640.94,380.53l8.6,8.6m-8.6,0l8.6,-8.6M643.05,380.62l8.6,8.6m-8.6,0l8.6,-8.6M645.16,380.73l8.6,8.6m-8.6,0l8.6,-8.6M647.28,380.85l8.6,8.6m-8.6,0l8.6,-8.6M649.39,380.99l8.6,8.6m-8.6,0l8.6,-8.6M651.5,381.16l8.6,8.6m-8.6,0l8.6,-8.6M653.62,381.34l8.6,8.6m-8.6,0l8.6,-8.6M655.73,381.54l8.6,8.6m-8.6,0l8.6,-8.6M657.84,381.76l8.6,8.6m-8.6,0l8.6,-8.6M659.96,382l8.6,8.6m-8.6,0l8.6,-8.6M662.07,382.27l8.6,8.6m-8.6,0l8.6,-8.6M664.18,382.55l8.6,8.6m-8.6,0l8.6,-8.6M666.3,382.86l8.6,8.6m-8.6,0l8.6,-8.6M668.41,383.19l8.6,8.6m-8.6,0l8.6,-8.6M670.52,383.54l8.6,8.6m-8.6,0l8.6,-8.6M672.64,383.91l8.6,8.6m-8.6,0l8.6,-8.6M674.75,384.31l8.6,8.6m-8.6,0l8.6,-8.6M676.86,384.73l8.6,8.6m-8.6,0l8.6,-8.6M678.98,385.17l8.6,8.6m-8.6,0l8.6,-8.6M681.09,385.64l8.6,8.6m-8.6,0l8.6,-8.6M683.2,386.13l8.6,8.6m-8.6,0l8.6,-8.6M685.32,386.65l8.6,8.6m-8.6,0l8.6,-8.6M687.43,387.19l8.6,8.6m-8.6,0l8.6,-8.6M689.54,387.75l8.6,8.6m-8.6,0l8.6,-8.6M691.66,388.34l8.6,8.6m-8.6,0l8.6,-8.6M693.77,388.95l8.6,8.6m-8.6,0l8.6,-8.6M695.88,389.59l8.6,8.6m-8.6,0l8.6,-8.6M698,390.26l8.6,8.6m-8.6,0l8.6,-8.6M700.11,390.95l8.6,8.6m-8.6,0l8.6,-8.6M702.22,391.67l8.6,8.6m-8.6,0l8.6,-8.6M704.34,392.41l8.6,8.6m-8.6,0l8.6,-8.6M706.45,393.18l8.6,8.6m-8.6,0l8.6,-8.6M708.56,393.97l8.6,8.6m-8.6,0l8.6,-8.6M710.68,394.79l8.6,8.6m-8.6,0l8.6,-8.6M712.79,395.64l8.6,8.6m-8.6,0l8.6,-8.6M714.9,396.52l8.6,8.6m-8.6,0l8.6,-8.6M717.02,397.42l8.6,8.6m-8.6,0l8.6,-8.6M719.13,398.35l8.6,8.6m-8.6,0l8.6,-8.6M721.24,399.31l8.6,8.6m-8.6,0l8.6,-8.6M723.35,400.29l8.6,8.6m-8.6,0l8.6,-8.6M725.47,401.31l8.6,8.6m-8.6,0l8.6,-8.6M727.58,402.35l8.6,8.6m-8.6,0l8.6,-8.6M729.69,403.41l8.6,8.6m-8.6,0l8.6,-8.6M731.81,404.51l8.6,8.6m-8.6,0l8.6,-8.6M733.92,405.64l8.6,8.6m-8.6,0l8.6,-8.6M736.03,406.79l8.6,8.6m-8.6,0l8.6,-8.6M738.15,407.97l8.6,8.6m-8.6,0l8.6,-8.6M740.26,409.18l8.6,8.6m-8.6,0l8.6,-8.6M742.37,410.42l8.6,8.6m-8.6,0l8.6,-8.6M744.49,411.69l8.6,8.6m-8.6,0l8.6,-8.6M746.6,412.99l8.6,8.6m-8.6,0l8.6,-8.6M748.71,414.32l8.6,8.6m-8.6,0l8.6,-8.6M750.83,415.68l8.6,8.6m-8.6,0l8.6,-8.6M752.94,417.06l8.6,8.6m-8.6,0l8.6,-8.6M755.05,418.48l8.6,8.6m-8.6,0l8.6,-8.6M757.17,419.92l8.6,8.6m-8.6,0l8.6,-8.6M759.28,421.4l8.6,8.6m-8.6,0l8.6,-8.6M761.39,422.91l8.6,8.6m-8.6,0l8.6,-8.6M763.51,424.44l8.6,8.6m-8.6,0l8.6,-8.6M765.62,426.01l8.6,8.6m-8.6,0l8.6,-8.6M767.73,427.61l8.6,8.6m-8.6,0l8.6,-8.6M769.85,429.23l8.6,8.6m-8.6,0l8.6,-8.6M771.96,430.89l8.6,8.6m-8.6,0l8.6,-8.6M774.07,432.58l8.6,8.6m-8.6,0l8.6,-8.6M776.19,434.3l8.6,8.6m-8.6,0l8.6,-8.6M778.3,436.05l8.6,8.6m-8.6,0l8.6,-8.6M780.41,437.83l8.6,8.6m-8.6,0l8.6,-8.6M782.53,439.64l8.6,8.6m-8.6,0l8.6,-8.6M784.64,441.49l8.6,8.6m-8.6,0l8.6,-8.6M786.75,443.36l8.6,8.6m-8.6,0l8.6,-8.6M788.87,445.27l8.6,8.6m-8.6,0l8.6,-8.6M790.98,447.21l8.6,8.6m-8.6,0l8.6,-8.6M793.09,449.18l8.6,8.6m-8.6,0l8.6,-8.6M795.21,451.18l8.6,8.6m-8.6,0l8.6,-8.6M797.32,453.22l8.6,8.6m-8.6,0l8.6,-8.6M799.43,455.28l8.6,8.6m-8.6,0l8.6,-8.6M801.55,457.38l8.6,8.6m-8.6,0l8.6,-8.6M803.66,459.51l8.6,8.6m-8.6,0l8.6,-8.6M805.77,461.68l8.6,8.6m-8.6,0l8.6,-8.6M807.89,463.87l8.6,8.6m-8.6,0l8.6,-8.6M810,466.1l8.6,8.6m-8.6,0l8.6,-8.6" fill="none" stroke="#0000ff" stroke-width="1.05"/>
<polyline points="450.81,470.4 452.93,467.48 455.04,464.61 457.15,461.78 459.27,458.98 461.38,456.23 463.49,453.52 465.61,450.85 467.72,448.22 469.83,445.63 471.95,443.08 474.06,440.56 476.17,438.09 478.29,435.66 480.4,433.27 482.51,430.92 484.63,428.61 486.74,426.33 488.85,424.1 490.97,421.9 493.08,419.75 495.19,417.63 497.31,415.55 499.42,413.51 501.53,411.51 503.65,409.55 505.76,407.62 507.87,405.73 509.99,403.89 512.1,402.07 514.21,400.3 516.33,398.57 518.44,396.87 520.55,395.21 522.67,393.58 524.78,392 526.89,390.45 529.01,388.93 531.12,387.46 533.23,386.02 535.35,384.61 537.46,383.25 539.57,381.91 541.68,380.62 543.8,379.36 545.91,378.13 548.02,376.95 550.14,375.79 552.25,374.67 554.36,373.59 556.48,372.54 558.59,371.52 560.7,370.54 562.82,369.59 564.93,368.68 567.04,367.8 569.16,366.96 571.27,366.14 573.38,365.36 575.5,364.62 577.61,363.9 579.72,363.22 581.84,362.57 583.95,361.95 586.06,361.36 588.18,360.81 590.29,360.28 592.4,359.79 594.52,359.32 596.63,358.89 598.74,358.48 600.86,358.11 602.97,357.76 605.08,357.44 607.2,357.15 609.31,356.89 611.42,356.65 613.54,356.44 615.65,356.26 617.76,356.1 619.88,355.97 621.99,355.86 624.1,355.78 626.22,355.72 628.33,355.67 630.44,355.65 632.56,355.64 634.67,355.65 636.78,355.67 638.9,355.72 641.01,355.78 643.12,355.86 645.24,355.97 647.35,356.1 649.46,356.26 651.58,356.44 653.69,356.65 655.8,356.89 657.92,357.15 660.03,357.44 662.14,357.76 664.26,358.11 666.37,358.48 668.48,358.89 670.6,359.32 672.71,359.79 674.82,360.28 676.94,360.81 679.05,361.36 681.16,361.95 683.28,362.57 685.39,363.22 687.5,363.9 689.62,364.62 691.73,365.36 693.84,366.14 695.96,366.96 698.07,367.8 700.18,368.68 702.3,369.59 704.41,370.54 706.52,371.52 708.64,372.54 710.75,373.59 712.86,374.67 714.98,375.79 717.09,376.95 719.2,378.13 721.32,379.36 723.43,380.62 725.54,381.91 727.65,383.25 729.77,384.61 731.88,386.02 733.99,387.46 736.11,388.93 738.22,390.45 740.33,392 742.45,393.58 744.56,395.21 746.67,396.87 748.79,398.57 750.9,400.3 753.01,402.07 755.13,403.89 757.24,405.73 759.35,407.62 761.47,409.55 763.58,411.51 765.69,413.51 767.81,415.55 769.92,417.63 772.03,419.75 774.15,421.9 776.26,424.1 778.37,426.33 780.49,428.61 782.6,430.92 784.71,433.27 786.83,435.66 788.94,438.09 791.05,440.56 793.17,443.08 795.28,445.63 797.39,448.22 799.51,450.85 801.62,453.52 803.73,456.23 805.85,458.98 807.96,461.78 810.07,464.61 812.19,467.48 814.3,470.4" fill="none" stroke="#ff00ff" stroke-width="0.9" stroke-dasharray="1.30,1.95"/>
<path d="M446.51,466.1h8.6v8.6h-8.6zM448.63,463.18h8.6v8.6h-8.6zM450.74,460.31h8.6v8.6h-8.6zM452.85,457.48h8.6v8.6h-8.6zM454.97,454.68h8.6v8.6h-8.6zM457.08,451.93h8.6v8.6h-8.6zM459.19,449.22h8.6v8.6h-8.6zM461.31,446.55h8.6v8.6h-8.6zM463.42,443.92h8.6v8.6h-8.6zM465.53,441.33h8.6v8.6h-8.6zM467.65,438.78h8.6v8.6h-8.6zM469.76,436.26h8.6v8.6h-8.6zM471.87,433.79h8.6v8.6h-8.6zM473.99,431.36h8.6v8.6h-8.6zM476.1,428.97h8.6v8.6h-8.6zM478.21,426.62h8.6v8.6h-8.6zM480.33,424.31h8.6v8.6h-8.6zM482.44,422.03h8.6v8.6h-8.6zM484.55,419.8h8.6v8.6h-8.6zM486.67,417.6h8.6v8.6h-8.6zM488.78,415.45h8.6v8.6h-8.6zM490.89,413.33h8.6v8.6h-8.6zM493.01,411.25h8.6v8.6h-8.6zM495.12,409.21h8.6v8.6h-8.6zM497.23,407.21h8.6v8.6h-8.6zM499.35,405.25h8.6v8.6h-8.6zM501.46,403.32h8.6v8.6h-8.6zM503.57,401.43h8.6v8.6h-8.6zM505.69,399.59h8.6v8.6h-8.6zM507.8,397.77h8.6v8.6h-8.6zM509.91,396h8.6v8.6h-8.6zM512.03,394.27h8.6v8.6h-8.6zM514.14,392.57h8.6v8.6h-8.6zM516.25,390.91h8.6v8.6h-8.6zM518.37,389.28h8.6v8.6h-8.6zM520.48,387.7h8.6v8.6h-8.6zM522.59,386.15h8.6v8.6h-8.6zM524.71,384.63h8.6v8.6h-8.6zM526.82,383.16h8.6v8.6h-8.6zM528.93,381.72h8.6v8.6h-8.6zM531.05,380.31h8.6v8.6h-8.6zM533.16,378.95h8.6v8.6h-8.6zM535.27,377.61h8.6v8.6h-8.6zM537.38,376.32h8.6v8.6h-8.6zM539.5,375.06h8.6v8.6h-8.6zM541.61,373.83h8.6v8.6h-8.6zM543.72,372.65h8.6v8.6h-8.6zM545.84,371.49h8.6v8.6h-8.6zM547.95,370.37h8.6v8.6h-8.6zM550.06,369.29h8.6v8.6h-8.6zM552.18,368.24h8.6v8.6h-8.6zM554.29,367.22h8.6v8.6h-8.6zM556.4,366.24h8.6v8.6h-8.6zM558.52,365.29h8.6v8.6h-8.6zM560.63,364.38h8.6v8.6h-8.6zM562.74,363.5h8.6v8.6h-8.6zM564.86,362.66h8.6v8.6h-8.6zM566.97,361.84h8.6v8.6h-8.6zM569.08,361.06h8.6v8.6h-8.6zM571.2,360.32h8.6v8.6h-8.6zM573.31,359.6h8.6v8.6h-8.6zM575.42,358.92h8.6v8.6h-8.6zM577.54,358.27h8.6v8.6h-8.6zM579.65,357.65h8.6v8.6h-8.6zM581.76,357.06h8.6v8.6h-8.6zM583.88,356.51h8.6v8.6h-8.6zM585.99,355.98h8.6v8.6h-8.6zM588.1,355.49h8.6v8.6h-8.6zM590.22,355.02h8.6v8.6h-8.6zM592.33,354.59h8.6v8.6h-8.6zM594.44,354.18h8.6v8.6h-8.6zM596.56,353.81h8.6v8.6h-8.6zM598.67,353.46h8.6v8.6h-8.6zM600.78,353.14h8.6v8.6h-8.6zM602.9,352.85h8.6v8.6h-8.6zM605.01,352.59h8.6v8.6h-8.6zM607.12,352.35h8.6v8.6h-8.6zM609.24,352.14h8.6v8.6h-8.6zM611.35,351.96h8.6v8.6h-8.6zM613.46,351.8h8.6v8.6h-8.6zM615.58,351.67h8.6v8.6h-8.6zM617.69,351.56h8.6v8.6h-8.6zM619.8,351.48h8.6v8.6h-8.6zM621.92,351.42h8.6v8.6h-8.6zM624.03,351.37h8.6v8.6h-8.6zM626.14,351.35h8.6v8.6h-8.6zM628.26,351.34h8.6v8.6h-8.6zM630.37,351.35h8.6v8.6h-8.6zM632.48,351.37h8.6v8.6h-8.6zM634.6,351.42h8.6v8.6h-8.6zM636.71,351.48h8.6v8.6h-8.6zM638.82,351.56h8.6v8.6h-8.6zM640.94,351.67h8.6v8.6h-8.6zM643.05,351.8h8.6v8.6h-8.6zM645.16,351.96h8.6v8.6h-8.6zM647.28,352.14h8.6v8.6h-8.6zM649.39,352.35h8.6v8.6h-8.6zM651.5,352.59h8.6v8.6h-8.6zM653.62,352.85h8.6v8.6h-8.6zM655.73,353.14h8.6v8.6h-8.6zM657.84,353.46h8.6v8.6h-8.6zM659.96,353.81h8.6v8.6h-8.6zM662.07,354.18h8.6v8.6h-8.6zM664.18,354.59h8.6v8.6h-8.6zM666.3,355.02h8.6v8.6h-8.6zM668.41,355.49h8.6v8.6h-8.6zM670.52,355.98h8.6v8.6h-8.6zM672.64,356.51h8.6v8.6h-8.6zM674.75,357.06h8.6v8.6h-8.6zM676.86,357.65h8.6v8.6h-8.6zM678.98,358.27h8.6v8.6h-8.6zM681.09,358.92h8.6v8.6h-8.6zM683.2,359.6h8.6v8.6h-8.6zM685.32,360.32h8.6v8.6h-8.6zM687.43,361.06h8.6v8.6h-8.6zM689.54,361.84h8.6v8.6h-8.6zM691.66,362.66h8.6v8.6h-8.6zM693.77,363.5h8.6v8.6h-8.6zM695.88,364.38h8.6v8.6h-8.6zM698,365.29h8.6v8.6h-8.6zM700.11,366.24h8.6v8.6h-8.6zM702.22,367.22h8.6v8.6h-8.6zM704.34,368.24h8.6v8.6h-8.6zM706.45,369.29h8.6v8.6h-8.6zM708.56,370.37h8.6v8.6h-8.6zM710.68,371.49h8.6v8.6h-8.6zM712.79,372.65h8.6v8.6h-8.6zM714.9,373.83h8.6v8.6h-8.6zM717.02,375.06h8.6v8.6h-8.6zM719.13,376.32h8.6v8.6h-8.6zM721.24,377.61h8.6v8.6h-8.6zM723.35,378.95h8.6v8.6h-8.6zM725.47,380.31h8.6v8.6h-8.6zM727.58,381.72h8.6v8.6h-8.6zM729.69,383.16h8.6v8.6h-8.6zM731.81,384.63h8.6v8.6h-8.6zM733.92,386.15h8.6v8.6h-8.6zM736.03,387.7h8.6v8.6h-8.6zM738.15,389.28h8.6v8.6h-8.6zM740.26,390.91h8.6v8.6h-8.6zM742.37,392.57h8.6v8.6h-8.6zM744.49,394.27h8.6v8.6h-8.6zM746.6,396h8.6v8.6h-8.6zM748.71,397.77h8.6v8.6h-8.6zM750.83,399.59h8.6v8.6h-8.6zM752.94,401.43h8.6v8.6h-8.6zM755.05,403.32h8.6v8.6h-8.6zM757.17,405.25h8.6v8.6h-8.6zM759.28,407.21h8.6v8.6h-8.6zM761.39,409.21h8.6v8.6h-8.6zM763.51,411.25h8.6v8.6h-8.6zM765.62,413.33h8.6v8.6h-8.6zM767.73,415.45h8.6v8.6h-8.6zM769.85,417.6h8.6v8.6h-8.6zM771.96,419.8h8.6v8.6h-8.6zM774.07,422.03h8.6v8.6h-8.6zM776.19,424.31h8.6v8.6h-8.6zM778.3,426.62h8.6v8.6h-8.6zM780.41,428.97h8.6v8.6h-8.6zM782.53,431.36h8.6v8.6h-8.6zM784.64,433.79h8.6v8.6h-8.6zM786.75,436.26h8.6v8.6h-8.6zM788.87,438.78h8.6v8.6h-8.6zM790.98,441.33h8.6v8.6h-8.6zM793.09,443.92h8.6v8.6h-8.6zM795.21,446.55h8.6v8.6h-8.6zM797.32,449.22h8.6v8.6h-8.6zM799.43,451.93h8.6v8.6h-8.6zM801.55,454.68h8.6v8.6h-8.6zM803.66,457.48h8.6v8.6h-8.6zM805.77,460.31h8.6v8.6h-8.6zM807.89,463.18h8.6v8.6h-8.6zM810,466.1h8.6v8.6h-8.6z" fill="none" stroke="#ff00ff" stroke-width="1.1"/>
<path d="M450.31,470.4a.5,.5 0 1,0 1,0a.5,.5 0 1,0 -1,0M452.43,467.48a.5,.5 0 1,0 1,0a.5,.5 0 1,0 -1,0M454.54,464.61a.5,.5 0 1,0 1,0a.5,.5 0 1,0 -1,0M456.65,461.78a.5,.5 0 1,0 1,0a.5,.5 0 1,0 -1,0M458.77,458.98a.5,.5 0 1,0 1,0a.5,.5 0 1,0 -1,0M460.88,456.23a.5,.5 0 1,0 1,0a.5,.5 0 1,0 -1,0M462.99,453.52a.5,.5 0 1,0 1,0a.5,.5 0 1,0 -1,0M465.11,450.85a.5,.5 0 1,0 1,0a.5,.5 0 1,0 -1,0M467.22,448.22a.5,.5 0 1,0 1,0a.5,.5 0 1,0 -1,0M469.33,445.63a.5,.5 0 1,0 1,0a.5,.5 0 1,0 -1,0M471.45,443.08a.5,.5 0 1,0 1,0a.5,.5 0 1,0 -1,0M473.56,440.56a.5,.5 0 1,0 1,0a.5,.5 0 1,0 -1,0M475.67,438.09a.5,.5 0 1,0 1,0a.5,.5 0 1,0 -1,0M477.79,435.66a.5,.5 0 1,0 1,0a.5,.5 0 1,0 -1,0M479.9,433.27a.5,.5 0 1,0 1,0a.5,.5 0 1,0 -1,0M482.01,430.92a.5,.5 0 1,0 1,0a.5,.5 0 1,0 -1,0M484.13,428.61a.5,.5 0 1,0 1,0a.5,.5 0 1,0 -1,0M486.24,426.33a.5,.5 0 1,0 1,0a.5,.5 0 1,0 -1,0M488.35,424.1a.5,.5 0 1,0 1,0a.5,.5 0 1,0 -1,0M490.47,421.9a.5,.5 0 1,0 1,0a.5,.5 0 1,0 -1,0M492.58,419.75a.5,.5 0 1,0 1,0a.5,.5 0 1,0 -1,0M494.69,417.63a.5,.5 0 1,0 1,0a.5,.5 0 1,0 -1,0M496.81,415.55a.5,.5 0 1,0 1,0a.5,.5 0 1,0 -1,0M498.92,413.51a.5,.5 0 1,0 1,0a.5,.5 0 1,0 -1,0M501.03,411.51a.5,.5 0 1,0 1,0a.5,.5 0 1,0 -1,0M503.15,409.55a.5,.5 0 1,0 1,0a.5,.5 0 1,0 -1,0M505.26,407.62a.5,.5 0 1,0 1,0a.5,.5 0 1,0 -1,0M507.37,405.73a.5,.5 0 1,0 1,0a.5,.5 0 1,0 -1,0M509.49,403.89a.5,.5 0 1,0 1,0a.5,.5 0 1,0 -1,0M511.6,402.07a.5,.5 0 1,0 1,0a.5,.5 0 1,0 -1,0M513.71,400.3a.5,.5 0 1,0 1,0a.5,.5 0 1,0 -1,0M515.83,398.57a.5,.5 0 1,0 1,0a.5,.5 0 1,0 -1,0M517.94,396.87a.5,.5 0 1,0 1,0a.5,.5 0 1,0 -1,0M520.05,395.21a.5,.5 0 1,0 1,0a.5,.5 0 1,0 -1,0M522.17,393.58a.5,.5 0 1,0 1,0a.5,.5 0 1,0 -1,0M524.28,392a.5,.5 0 1,0 1,0a.5,.5 0 1,0 -1,0M526.39,390.45a.5,.5 0 1,0 1,0a.5,.5 0 1,0 -1,0M528.51,388.93a.5,.5 0 1,0 1,0a.5,.5 0 1,0 -1,0M530.62,387.46a.5,.5 0 1,0 1,0a.5,.5 0 1,0 -1,0M532.73,386.02a.5,.5 0 1,0 1,0a.5,.5 0 1,0 -1,0M534.85,384.61a.5,.5 0 1,0 1,0a.5,.5 0 1,0 -1,0M536.96,383.25a.5,.5 0 1,0 1,0a.5,.5 0 1,0 -1,0M539.07,381.91a.5,.5 0 1,0 1,0a.5,.5 0 1,0 -1,0M541.18,380.62a.5,.5 0 1,0 1,0a.5,.5 0 1,0 -1,0M543.3,379.36a.5,.5 0 1,0 1,0a.5,.5 0 1,0 -1,0M545.41,378.13a.5,.5 0 1,0 1,0a.5,.5 0 1,0 -1,0M547.52,376.95a.5,.5 0 1,0 1,0a.5,.5 0 1,0 -1,0M549.64,375.79a.5,.5 0 1,0 1,0a.5,.5 0 1,0 -1,0M551.75,374.67a.5,.5 0 1,0 1,0a.5,.5 0 1,0 -1,0M553.86,373.59a.5,.5 0 1,0 1,0a.5,.5 0 1,0 -1,0M555.98,372.54a.5,.5 0 1,0 1,0a.5,.5 0 1,0 -1,0M558.09,371.52a.5,.5 0 1,0 1,0a.5,.5 0 1,0 -1,0M560.2,370.54a.5,.5 0 1,0 1,0a.5,.5 0 1,0 -1,0M562.32,369.59a.5,.5 0 1,0 1,0a.5,.5 0 1,0 -1,0M564.43,368.68a.5,.5 0 1,0 1,0a.5,.5 0 1,0 -1,0M566.54,367.8a.5,.5 0 1,0 1,0a.5,.5 0 1,0 -1,0M568.66,366.96a.5,.5 0 1,0 1,0a.5,.5 0 1,0 -1,0M570.77,366.14a.5,.5 0 1,0 1,0a.5,.5 0 1,0 -1,0M572.88,365.36a.5,.5 0 1,0 1,0a.5,.5 0 1,0 -1,0M575,364.62a.5,.5 0 1,0 1,0a.5,.5 0 1,0 -1,0M577.11,363.9a.5,.5 0 1,0 1,0a.5,.5 0 1,0 -1,0M579.22,363.22a.5,.5 0 1,0 1,0a.5,.5 0 1,0 -1,0M581.34,362.57a.5,.5 0 1,0 1,0a.5,.5 0 1,0 -1,0M583.45,361.95a.5,.5 0 1,0 1,0a.5,.5 0 1,0 -1,0M585.56,361.36a.5,.5 0 1,0 1,0a.5,.5 0 1,0 -1,0M587.68,360.81a.5,.5 0 1,0 1,0a.5,.5 0 1,0 -1,0M589.79,360.28a.5,.5 0 1,0 1,0a.5,.5 0 1,0 -1,0M591.9,359.79a.5,.5 0 1,0 1,0a.5,.5 0 1,0 -1,0M594.02,359.32a.5,.5 0 1,0 1,0a.5,.5 0 1,0 -1,0M596.13,358.89a.5,.5 0 1,0 1,0a.5,.5 0 1,0 -1,0M598.24,358.48a.5,.5 0 1,0 1,0a.5,.5 0 1,0 -1,0M600.36,358.11a.5,.5 0 1,0 1,0a.5,.5 0 1,0 -1,0M602.47,357.76a.5,.5 0 1,0 1,0a.5,.5 0 1,0 -1,0M604.58,357.44a.5,.5 0 1,0 1,0a.5,.5 0 1,0 -1,0M606.7,357.15a.5,.5 0 1,0 1,0a.5,.5 0 1,0 -1,0M608.81,356.89a.5,.5 0 1,0 1,0a.5,.5 0 1,0 -1,0M610.92,356.65a.5,.5 0 1,0 1,0a.5,.5 0 1,0 -1,0M613.04,356.44a.5,.5 0 1,0 1,0a.5,.5 0 1,0 -1,0M615.15,356.26a.5,.5 0 1,0 1,0a.5,.5 0 1,0 -1,0M617.26,356.1a.5,.5 0 1,0 1,0a.5,.5 0 1,0 -1,0M619.38,355.97a.5,.5 0 1,0 1,0a.5,.5 0 1,0 -1,0M621.49,355.86a.5,.5 0 1,0 1,0a.5,.5 0 1,0 -1,0M623.6,355.78a.5,.5 0 1,0 1,0a.5,.5 0 1,0 -1,0M625.72,355.72a.5,.5 0 1,0 1,0a.5,.5 0 1,0 -1,0M627.83,355.67a.5,.5 0 1,0 1,0a.5,.5 0 1,0 -1,0M629.94,355.65a.5,.5 0 1,0 1,0a.5,.5 0 1,0 -1,0M632.06,355.64a.5,.5 0 1,0 1,0a.5,.5 0 1,0 -1,0M634.17,355.65a.5,.5 0 1,0 1,0a.5,.5 0 1,0 -1,0M636.28,355.67a.5,.5 0 1,0 1,0a.5,.5 0 1,0 -1,0M638.4,355.72a.5,.5 0 1,0 1,0a.5,.5 0 1,0 -1,0M640.51,355.78a.5,.5 0 1,0 1,0a.5,.5 0 1,0 -1,0M642.62,355.86a.5,.5 0 1,0 1,0a.5,.5 0 1,0 -1,0M644.74,355.97a.5,.5 0 1,0 1,0a.5,.5 0 1,0 -1,0M646.85,356.1a.5,.5 0 1,0 1,0a.5,.5 0 1,0 -1,0M648.96,356.26a.5,.5 0 1,0 1,0a.5,.5 0 1,0 -1,0M651.08,356.44a.5,.5 0 1,0 1,0a.5,.5 0 1,0 -1,0M653.19,356.65a.5,.5 0 1,0 1,0a.5,.5 0 1,0 -1,0M655.3,356.89a.5,.5 0 1,0 1,0a.5,.5 0 1,0 -1,0M657.42,357.15a.5,.5 0 1,0 1,0a.5,.5 0 1,0 -1,0M659.53,357.44a.5,.5 0 1,0 1,0a.5,.5 0 1,0 -1,0M661.64,357.76a.5,.5 0 1,0 1,0a.5,.5 0 1,0 -1,0M663.76,358.11a.5,.5 0 1,0 1,0a.5,.5 0 1,0 -1,0M665.87,358.48a.5,.5 0 1,0 1,0a.5,.5 0 1,0 -1,0M667.98,358.89a.5,.5 0 1,0 1,0a.5,.5 0 1,0 -1,0M670.1,359.32a.5,.5 0 1,0 1,0a.5,.5 0 1,0 -1,0M672.21,359.79a.5,.5 0 1,0 1,0a.5,.5 0 1,0 -1,0M674.32,360.28a.5,.5 0 1,0 1,0a.5,.5 0 1,0 -1,0M676.44,360.81a.5,.5 0 1,0 1,0a.5,.5 0 1,0 -1,0M678.55,361.36a.5,.5 0 1,0 1,0a.5,.5 0 1,0 -1,0M680.66,361.95a.5,.5 0 1,0 1,0a.5,.5 0 1,0 -1,0M682.78,362.57a.5,.5 0 1,0 1,0a.5,.5 0 1,0 -1,0M684.89,363.22a.5,.5 0 1,0 1,0a.5,.5 0 1,0 -1,0M687,363.9a.5,.5 0 1,0 1,0a.5,.5 0 1,0 -1,0M689.12,364.62a.5,.5 0 1,0 1,0a.5,.5 0 1,0 -1,0M691.23,365.36a.5,.5 0 1,0 1,0a.5,.5 0 1,0 -1,0M693.34,366.14a.5,.5 0 1,0 1,0a.5,.5 0 1,0 -1,0M695.46,366.96a.5,.5 0 1,0 1,0a.5,.5 0 1,0 -1,0M697.57,367.8a.5,.5 0 1,0 1,0a.5,.5 0 1,0 -1,0M699.68,368.68a.5,.5 0 1,0 1,0a.5,.5 0 1,0 -1,0M701.8,369.59a.5,.5 0 1,0 1,0a.5,.5 0 1,0 -1,0M703.91,370.54a.5,.5 0 1,0 1,0a.5,.5 0 1,0 -1,0M706.02,371.52a.5,.5 0 1,0 1,0a.5,.5 0 1,0 -1,0M708.14,372.54a.5,.5 0 1,0 1,0a.5,.5 0 1,0 -1,0M710.25,373.59a.5,.5 0 1,0 1,0a.5,.5 0 1,0 -1,0M712.36,374.67a.5,.5 0 1,0 1,0a.5,.5 0 1,0 -1,0M714.48,375.79a.5,.5 0 1,0 1,0a.5,.5 0 1,0 -1,0M716.59,376.95a.5,.5 0 1,0 1,0a.5,.5 0 1,0 -1,0M718.7,378.13a.5,.5 0 1,0 1,0a.5,.5 0 1,0 -1,0M720.82,379.36a.5,.5 0 1,0 1,0a.5,.5 0 1,0 -1,0M722.93,380.62a.5,.5 0 1,0 1,0a.5,.5 0 1,0 -1,0M725.04,381.91a.5,.5 0 1,0 1,0a.5,.5 0 1,0 -1,0M727.15,383.25a.5,.5 0 1,0 1,0a.5,.5 0 1,0 -1,0M729.27,384.61a.5,.5 0 1,0 1,0a.5,.5 0 1,0 -1,0M731.38,386.02a.5,.5 0 1,0 1,0a.5,.5 0 1,0 -1,0M733.49,387.46a.5,.5 0 1,0 1,0a.5,.5 0 1,0 -1,0M735.61,388.93a.5,.5 0 1,0 1,0a.5,.5 0 1,0 -1,0M737.72,390.45a.5,.5 0 1,0 1,0a.5,.5 0 1,0 -1,0M739.83,392a.5,.5 0 1,0 1,0a.5,.5 0 1,0 -1,0M741.95,393.58a.5,.5 0 1,0 1,0a.5,.5 0 1,0 -1,0M744.06,395.21a.5,.5 0 1,0 1,0a.5,.5 0 1,0 -1,0M746.17,396.87a.5,.5 0 1,0 1,0a.5,.5 0 1,0 -1,0M748.29,398.57a.5,.5 0 1,0 1,0a.5,.5 0 1,0 -1,0M750.4,400.3a.5,.5 0 1,0 1,0a.5,.5 0 1,0 -1,0M752.51,402.07a.5,.5 0 1,0 1,0a.5,.5 0 1,0 -1,0M754.63,403.89a.5,.5 0 1,0 1,0a.5,.5 0 1,0 -1,0M756.74,405.73a.5,.5 0 1,0 1,0a.5,.5 0 1,0 -1,0M758.85,407.62a.5,.5 0 1,0 1,0a.5,.5 0 1,0 -1,0M760.97,409.55a.5,.5 0 1,0 1,0a.5,.5 0 1,0 -1,0M763.08,411.51a.5,.5 0 1,0 1,0a.5,.5 0 1,0 -1,0M765.19,413.51a.5,.5 0 1,0 1,0a.5,.5 0 1,0 -1,0M767.31,415.55a.5,.5 0 1,0 1,0a.5,.5 0 1,0 -1,0M769.42,417.63a.5,.5 0 1,0 1,0a.5,.5 0 1,0 -1,0M771.53,419.75a.5,.5 0 1,0 1,0a.5,.5 0 1,0 -1,0M773.65,421.9a.5,.5 0 1,0 1,0a.5,.5 0 1,0 -1,0M775.76,424.1a.5,.5 0 1,0 1,0a.5,.5 0 1,0 -1,0M777.87,426.33a.5,.5 0 1,0 1,0a.5,.5 0 1,0 -1,0M779.99,428.61a.5,.5 0 1,0 1,0a.5,.5 0 1,0 -1,0M782.1,430.92a.5,.5 0 1,0 1,0a.5,.5 0 1,0 -1,0M784.21,433.27a.5,.5 0 1,0 1,0a.5,.5 0 1,0 -1,0M786.33,435.66a.5,.5 0 1,0 1,0a.5,.5 0 1,0 -1,0M788.44,438.09a.5,.5 0 1,0 1,0a.5,.5 0 1,0 -1,0M790.55,440.56a.5,.5 0 1,0 1,0a.5,.5 0 1,0 -1,0M792.67,443.08a.5,.5 0 1,0 1,0a.5,.5 0 1,0 -1,0M794.78,445.63a.5,.5 0 1,0 1,0a.5,.5 0 1,0 -1,0M796.89,448.22a.5,.5 0 1,0 1,0a.5,.5 0 1,0 -1,0M799.01,450.85a.5,.5 0 1,0 1,0a.5,.5 0 1,0 -1,0M801.12,453.52a.5,.5 0 1,0 1,0a.5,.5 0 1,0 -1,0M803.23,456.23a.5,.5 0 1,0 1,0a.5,.5 0 1,0 -1,0M805.35,458.98a.5,.5 0 1,0 1,0a.5,.5 0 1,0 -1,0M807.46,461.78a.5,.5 0 1,0 1,0a.5,.5 0 1,0 -1,0M809.57,464.61a.5,.5 0 1,0 1,0a.5,.5 0 1,0 -1,0M811.69,467.48a.5,.5 0 1,0 1,0a.5,.5 0 1,0 -1,0M813.8,470.4a.5,.5 0 1,0 1,0a.5,.5 0 1,0 -1,0" fill="#ff00ff" stroke="none"/>
<polyline points="450.81,470.4 452.93,466.75 455.04,463.16 457.15,459.62 459.27,456.14 461.38,452.71 463.49,449.33 465.61,446 467.72,442.73 469.83,439.51 471.95,436.35 474.06,433.23 476.17,430.17 478.29,427.16 480.4,424.2 482.51,421.3 484.63,418.44 486.74,415.64 488.85,412.89 490.97,410.19 493.08,407.54 495.19,404.94 497.31,402.39 499.42,399.89 501.53,397.44 503.65,395.04 505.76,392.69 507.87,390.39 509.99,388.13 512.1,385.93 514.21,383.78 516.33,381.67 518.44,379.61 520.55,377.6 522.67,375.64 524.78,373.72 526.89,371.85 529.01,370.03 531.12,368.26 533.23,366.53 535.35,364.85 537.46,363.21 539.57,361.62 541.68,360.07 543.8,358.57 545.91,357.12 548.02,355.7 550.14,354.34 552.25,353.01 554.36,351.73 556.48,350.49 558.59,349.3 560.7,348.15 562.82,347.04 564.93,345.97 567.04,344.95 569.16,343.96 571.27,343.02 573.38,342.11 575.5,341.25 577.61,340.43 579.72,339.64 581.84,338.9 583.95,338.19 586.06,337.52 588.18,336.89 590.29,336.29 592.4,335.73 594.52,335.21 596.63,334.73 598.74,334.27 600.86,333.86 602.97,333.47 605.08,333.13 607.2,332.81 609.31,332.52 611.42,332.27 613.54,332.04 615.65,331.85 617.76,331.68 619.88,331.55 621.99,331.43 624.1,331.35 626.22,331.28 628.33,331.24 630.44,331.22 632.56,331.22 634.67,331.22 636.78,331.24 638.9,331.28 641.01,331.35 643.12,331.43 645.24,331.55 647.35,331.68 649.46,331.85 651.58,332.04 653.69,332.27 655.8,332.52 657.92,332.81 660.03,333.13 662.14,333.47 664.26,333.86 666.37,334.27 668.48,334.73 670.6,335.21 672.71,335.73 674.82,336.29 676.94,336.89 679.05,337.52 681.16,338.19 683.28,338.9 685.39,339.64 687.5,340.43 689.62,341.25 691.73,342.11 693.84,343.02 695.96,343.96 698.07,344.95 700.18,345.97 702.3,347.04 704.41,348.15 706.52,349.3 708.64,350.49 710.75,351.73 712.86,353.01 714.98,354.34 717.09,355.7 719.2,357.12 721.32,358.57 723.43,360.07 725.54,361.62 727.65,363.21 729.77,364.85 731.88,366.53 733.99,368.26 736.11,370.03 738.22,371.85 740.33,373.72 742.45,375.64 744.56,377.6 746.67,379.61 748.79,381.67 750.9,383.78 753.01,385.93 755.13,388.13 757.24,390.39 759.35,392.69 761.47,395.04 763.58,397.44 765.69,399.89 767.81,402.39 769.92,404.94 772.03,407.54 774.15,410.19 776.26,412.89 778.37,415.64 780.49,418.44 782.6,421.3 784.71,424.2 786.83,427.16 788.94,430.17 791.05,433.23 793.17,436.35 795.28,439.51 797.39,442.73 799.51,446 801.62,449.33 803.73,452.71 805.85,456.14 807.96,459.62 810.07,463.16 812.19,466.75 814.3,470.4" fill="none" stroke="#00ffff" stroke-width="0.9" stroke-dasharray="7.80,2.60,1.30,2.60"/>
<path d="M446.51,466.1h8.6v8.6h-8.6zM448.63,462.45h8.6v8.6h-8.6zM450.74,458.86h8.6v8.6h-8.6zM452.85,455.32h8.6v8.6h-8.6zM454.97,451.84h8.6v8.6h-8.6zM457.08,448.41h8.6v8.6h-8.6zM459.19,445.03h8.6v8.6h-8.6zM461.31,441.7h8.6v8.6h-8.6zM463.42,438.43h8.6v8.6h-8.6zM465.53,435.21h8.6v8.6h-8.6zM467.65,432.05h8.6v8.6h-8.6zM469.76,428.93h8.6v8.6h-8.6zM471.87,425.87h8.6v8.6h-8.6zM473.99,422.86h8.6v8.6h-8.6zM476.1,419.9h8.6v8.6h-8.6zM478.21,417h8.6v8.6h-8.6zM480.33,414.14h8.6v8.6h-8.6zM482.44,411.34h8.6v8.6h-8.6zM484.55,408.59h8.6v8.6h-8.6zM486.67,405.89h8.6v8.6h-8.6zM488.78,403.24h8.6v8.6h-8.6zM490.89,400.64h8.6v8.6h-8.6zM493.01,398.09h8.6v8.6h-8.6zM495.12,395.59h8.6v8.6h-8.6zM497.23,393.14h8.6v8.6h-8.6zM499.35,390.74h8.6v8.6h-8.6zM501.46,388.39h8.6v8.6h-8.6zM503.57,386.09h8.6v8.6h-8.6zM505.69,383.83h8.6v8.6h-8.6zM507.8,381.63h8.6v8.6h-8.6zM509.91,379.48h8.6v8.6h-8.6zM512.03,377.37h8.6v8.6h-8.6zM514.14,375.31h8.6v8.6h-8.6zM516.25,373.3h8.6v8.6h-8.6zM518.37,371.34h8.6v8.6h-8.6zM520.48,369.42h8.6v8.6h-8.6zM522.59,367.55h8.6v8.6h-8.6zM524.71,365.73h8.6v8.6h-8.6zM526.82,363.96h8.6v8.6h-8.6zM528.93,362.23h8.6v8.6h-8.6zM531.05,360.55h8.6v8.6h-8.6zM533.16,358.91h8.6v8.6h-8.6zM535.27,357.32h8.6v8.6h-8.6zM537.38,355.77h8.6v8.6h-8.6zM539.5,354.27h8.6v8.6h-8.6zM541.61,352.82h8.6v8.6h-8.6zM543.72,351.4h8.6v8.6h-8.6zM545.84,350.04h8.6v8.6h-8.6zM547.95,348.71h8.6v8.6h-8.6zM550.06,347.43h8.6v8.6h-8.6zM552.18,346.19h8.6v8.6h-8.6zM554.29,345h8.6v8.6h-8.6zM556.4,343.85h8.6v8.6h-8.6zM558.52,342.74h8.6v8.6h-8.6zM560.63,341.67h8.6v8.6h-8.6zM562.74,340.65h8.6v8.6h-8.6zM564.86,339.66h8.6v8.6h-8.6zM566.97,338.72h8.6v8.6h-8.6zM569.08,337.81h8.6v8.6h-8.6zM571.2,336.95h8.6v8.6h-8.6zM573.31,336.13h8.6v8.6h-8.6zM575.42,335.34h8.6v8.6h-8.6zM577.54,334.6h8.6v8.6h-8.6zM579.65,333.89h8.6v8.6h-8.6zM581.76,333.22h8.6v8.6h-8.6zM583.88,332.59h8.6v8.6h-8.6zM585.99,331.99h8.6v8.6h-8.6zM588.1,331.43h8.6v8.6h-8.6zM590.22,330.91h8.6v8.6h-8.6zM592.33,330.43h8.6v8.6h-8.6zM594.44,329.97h8.6v8.6h-8.6zM596.56,329.56h8.6v8.6h-8.6zM598.67,329.17h8.6v8.6h-8.6zM600.78,328.83h8.6v8.6h-8.6zM602.9,328.51h8.6v8.6h-8.6zM605.01,328.22h8.6v8.6h-8.6zM607.12,327.97h8.6v8.6h-8.6zM609.24,327.74h8.6v8.6h-8.6zM611.35,327.55h8.6v8.6h-8.6zM613.46,327.38h8.6v8.6h-8.6zM615.58,327.25h8.6v8.6h-8.6zM617.69,327.13h8.6v8.6h-8.6zM619.8,327.05h8.6v8.6h-8.6zM621.92,326.98h8.6v8.6h-8.6zM624.03,326.94h8.6v8.6h-8.6zM626.14,326.92h8.6v8.6h-8.6zM628.26,326.92h8.6v8.6h-8.6zM630.37,326.92h8.6v8.6h-8.6zM632.48,326.94h8.6v8.6h-8.6zM634.6,326.98h8.6v8.6h-8.6zM636.71,327.05h8.6v8.6h-8.6zM638.82,327.13h8.6v8.6h-8.6zM640.94,327.25h8.6v8.6h-8.6zM643.05,327.38h8.6v8.6h-8.6zM645.16,327.55h8.6v8.6h-8.6zM647.28,327.74h8.6v8.6h-8.6zM649.39,327.97h8.6v8.6h-8.6zM651.5,328.22h8.6v8.6h-8.6zM653.62,328.51h8.6v8.6h-8.6zM655.73,328.83h8.6v8.6h-8.6zM657.84,329.17h8.6v8.6h-8.6zM659.96,329.56h8.6v8.6h-8.6zM662.07,329.97h8.6v8.6h-8.6zM664.18,330.43h8.6v8.6h-8.6zM666.3,330.91h8.6v8.6h-8.6zM668.41,331.43h8.6v8.6h-8.6zM670.52,331.99h8.6v8.6h-8.6zM672.64,332.59h8.6v8.6h-8.6zM674.75,333.22h8.6v8.6h-8.6zM676.86,333.89h8.6v8.6h-8.6zM678.98,334.6h8.6v8.6h-8.6zM681.09,335.34h8.6v8.6h-8.6zM683.2,336.13h8.6v8.6h-8.6zM685.32,336.95h8.6v8.6h-8.6zM687.43,337.81h8.6v8.6h-8.6zM689.54,338.72h8.6v8.6h-8.6zM691.66,339.66h8.6v8.6h-8.6zM693.77,340.65h8.6v8.6h-8.6zM695.88,341.67h8.6v8.6h-8.6zM698,342.74h8.6v8.6h-8.6zM700.11,343.85h8.6v8.6h-8.6zM702.22,345h8.6v8.6h-8.6zM704.34,346.19h8.6v8.6h-8.6zM706.45,347.43h8.6v8.6h-8.6zM708.56,348.71h8.6v8.6h-8.6zM710.68,350.04h8.6v8.6h-8.6zM712.79,351.4h8.6v8.6h-8.6zM714.9,352.82h8.6v8.6h-8.6zM717.02,354.27h8.6v8.6h-8.6zM719.13,355.77h8.6v8.6h-8.6zM721.24,357.32h8.6v8.6h-8.6zM723.35,358.91h8.6v8.6h-8.6zM725.47,360.55h8.6v8.6h-8.6zM727.58,362.23h8.6v8.6h-8.6zM729.69,363.96h8.6v8.6h-8.6zM731.81,365.73h8.6v8.6h-8.6zM733.92,367.55h8.6v8.6h-8.6zM736.03,369.42h8.6v8.6h-8.6zM738.15,371.34h8.6v8.6h-8.6zM740.26,373.3h8.6v8.6h-8.6zM742.37,375.31h8.6v8.6h-8.6zM744.49,377.37h8.6v8.6h-8.6zM746.6,379.48h8.6v8.6h-8.6zM748.71,381.63h8.6v8.6h-8.6zM750.83,383.83h8.6v8.6h-8.6zM752.94,386.09h8.6v8.6h-8.6zM755.05,388.39h8.6v8.6h-8.6zM757.17,390.74h8.6v8.6h-8.6zM759.28,393.14h8.6v8.6h-8.6zM761.39,395.59h8.6v8.6h-8.6zM763.51,398.09h8.6v8.6h-8.6zM765.62,400.64h8.6v8.6h-8.6zM767.73,403.24h8.6v8.6h-8.6zM769.85,405.89h8.6v8.6h-8.6zM771.96,408.59h8.6v8.6h-8.6zM774.07,411.34h8.6v8.6h-8.6zM776.19,414.14h8.6v8.6h-8.6zM778.3,417h8.6v8.6h-8.6zM780.41,419.9h8.6v8.6h-8.6zM782.53,422.86h8.6v8.6h-8.6zM784.64,425.87h8.6v8.6h-8.6zM786.75,428.93h8.6v8.6h-8.6zM788.87,432.05h8.6v8.6h-8.6zM790.98,435.21h8.6v8.6h-8.6zM793.09,438.43h8.6v8.6h-8.6zM795.21,441.7h8.6v8.6h-8.6zM797.32,445.03h8.6v8.6h-8.6zM799.43,448.41h8.6v8.6h-8.6zM801.55,451.84h8.6v8.6h-8.6zM803.66,455.32h8.6v8.6h-8.6zM805.77,458.86h8.6v8.6h-8.6zM807.89,462.45h8.6v8.6h-8.6zM810,466.1h8.6v8.6h-8.6z" fill="#00ffff" stroke="none"/>
<polyline points="450.81,470.4 452.93,465.04 455.04,459.74 457.15,454.52 459.27,449.37 461.38,444.29 463.49,439.28 465.61,434.35 467.72,429.48 469.83,424.68 471.95,419.96 474.06,415.3 476.17,410.72 478.29,406.2 480.4,401.76 482.51,397.38 484.63,393.08 486.74,388.84 488.85,384.68 490.97,380.58 493.08,376.55 495.19,372.59 497.31,368.7 499.42,364.88 501.53,361.13 503.65,357.44 505.76,353.83 507.87,350.28 509.99,346.8 512.1,343.38 514.21,340.04 516.33,336.76 518.44,333.55 520.55,330.41 522.67,327.33 524.78,324.32 526.89,321.38 529.01,318.5 531.12,315.69 533.23,312.95 535.35,310.27 537.46,307.65 539.57,305.1 541.68,302.62 543.8,300.2 545.91,297.85 548.02,295.56 550.14,293.34 552.25,291.18 554.36,289.08 556.48,287.05 558.59,285.08 560.7,283.17 562.82,281.33 564.93,279.55 567.04,277.83 569.16,276.17 571.27,274.58 573.38,273.05 575.5,271.57 577.61,270.16 579.72,268.81 581.84,267.52 583.95,266.29 586.06,265.12 588.18,264.01 590.29,262.95 592.4,261.96 594.52,261.02 596.63,260.14 598.74,259.32 600.86,258.56 602.97,257.85 605.08,257.19 607.2,256.59 609.31,256.05 611.42,255.56 613.54,255.12 615.65,254.73 617.76,254.4 619.88,254.11 621.99,253.88 624.1,253.69 626.22,253.55 628.33,253.46 630.44,253.4 632.56,253.39 634.67,253.4 636.78,253.46 638.9,253.55 641.01,253.69 643.12,253.88 645.24,254.11 647.35,254.4 649.46,254.73 651.58,255.12 653.69,255.56 655.8,256.05 657.92,256.59 660.03,257.19 662.14,257.85 664.26,258.56 666.37,259.32 668.48,260.14 670.6,261.02 672.71,261.96 674.82,262.95 676.94,264.01 679.05,265.12 681.16,266.29 683.28,267.52 685.39,268.81 687.5,270.16 689.62,271.57 691.73,273.05 693.84,274.58 695.96,276.17 698.07,277.83 700.18,279.55 702.3,281.33 704.41,283.17 706.52,285.08 708.64,287.05 710.75,289.08 712.86,291.18 714.98,293.34 717.09,295.56 719.2,297.85 721.32,300.2 723.43,302.62 725.54,305.1 727.65,307.65 729.77,310.27 731.88,312.95 733.99,315.69 736.11,318.5 738.22,321.38 740.33,324.32 742.45,327.33 744.56,330.41 746.67,333.55 748.79,336.76 750.9,340.04 753.01,343.38 755.13,346.8 757.24,350.28 759.35,353.83 761.47,357.44 763.58,361.13 765.69,364.88 767.81,368.7 769.92,372.59 772.03,376.55 774.15,380.58 776.26,384.68 778.37,388.84 780.49,393.08 782.6,397.38 784.71,401.76 786.83,406.2 788.94,410.72 791.05,415.3 793.17,419.96 795.28,424.68 797.39,429.48 799.51,434.35 801.62,439.28 803.73,444.29 805.85,449.37 807.96,454.52 810.07,459.74 812.19,465.04 814.3,470.4" fill="none" stroke="#ffff00" stroke-width="0.9" stroke-dasharray="3.90,3.90,1.30,3.90"/>
<path d="M446.51,470.4a4.3,4.3 0 1,0 8.6,0a4.3,4.3 0 1,0 -8.6,0M448.63,465.04a4.3,4.3 0 1,0 8.6,0a4.3,4.3 0 1,0 -8.6,0M450.74,459.74a4.3,4.3 0 1,0 8.6,0a4.3,4.3 0 1,0 -8.6,0M452.85,454.52a4.3,4.3 0 1,0 8.6,0a4.3,4.3 0 1,0 -8.6,0M454.97,449.37a4.3,4.3 0 1,0 8.6,0a4.3,4.3 0 1,0 -8.6,0M457.08,444.29a4.3,4.3 0 1,0 8.6,0a4.3,4.3 0 1,0 -8.6,0M459.19,439.28a4.3,4.3 0 1,0 8.6,0a4.3,4.3 0 1,0 -8.6,0M461.31,434.35a4.3,4.3 0 1,0 8.6,0a4.3,4.3 0 1,0 -8.6,0M463.42,429.48a4.3,4.3 0 1,0 8.6,0a4.3,4.3 0 1,0 -8.6,0M465.53,424.68a4.3,4.3 0 1,0 8.6,0a4.3,4.3 0 1,0 -8.6,0M467.65,419.96a4.3,4.3 0 1,0 8.6,0a4.3,4.3 0 1,0 -8.6,0M469.76,415.3a4.3,4.3 0 1,0 8.6,0a4.3,4.3 0 1,0 -8.6,0M471.87,410.72a4.3,4.3 0 1,0 8.6,0a4.3,4.3 0 1,0 -8.6,0M473.99,406.2a4.3,4.3 0 1,0 8.6,0a4.3,4.3 0 1,0 -8.6,0M476.1,401.76a4.3,4.3 0 1,0 8.6,0a4.3,4.3 0 1,0 -8.6,0M478.21,397.38a4.3,4.3 0 1,0 8.6,0a4.3,4.3 0 1,0 -8.6,0M480.33,393.08a4.3,4.3 0 1,0 8.6,0a4.3,4.3 0 1,0 -8.6,0M482.44,388.84a4.3,4.3 0 1,0 8.6,0a4.3,4.3 0 1,0 -8.6,0M484.55,384.68a4.3,4.3 0 1,0 8.6,0a4.3,4.3 0 1,0 -8.6,0M486.67,380.58a4.3,4.3 0 1,0 8.6,0a4.3,4.3 0 1,0 -8.6,0M488.78,376.55a4.3,4.3 0 1,0 8.6,0a4.3,4.3 0 1,0 -8.6,0M490.89,372.59a4.3,4.3 0 1,0 8.6,0a4.3,4.3 0 1,0 -8.6,0M493.01,368.7a4.3,4.3 0 1,0 8.6,0a4.3,4.3 0 1,0 -8.6,0M495.12,364.88a4.3,4.3 0 1,0 8.6,0a4.3,4.3 0 1,0 -8.6,0M497.23,361.13a4.3,4.3 0 1,0 8.6,0a4.3,4.3 0 1,0 -8.6,0M499.35,357.44a4.3,4.3 0 1,0 8.6,0a4.3,4.3 0 1,0 -8.6,0M501.46,353.83a4.3,4.3 0 1,0 8.6,0a4.3,4.3 0 1,0 -8.6,0M503.57,350.28a4.3,4.3 0 1,0 8.6,0a4.3,4.3 0 1,0 -8.6,0M505.69,346.8a4.3,4.3 0 1,0 8.6,0a4.3,4.3 0 1,0 -8.6,0M507.8,343.38a4.3,4.3 0 1,0 8.6,0a4.3,4.3 0 1,0 -8.6,0M509.91,340.04a4.3,4.3 0 1,0 8.6,0a4.3,4.3 0 1,0 -8.6,0M512.03,336.76a4.3,4.3 0 1,0 8.6,0a4.3,4.3 0 1,0 -8.6,0M514.14,333.55a4.3,4.3 0 1,0 8.6,0a4.3,4.3 0 1,0 -8.6,0M516.25,330.41a4.3,4.3 0 1,0 8.6,0a4.3,4.3 0 1,0 -8.6,0M518.37,327.33a4.3,4.3 0 1,0 8.6,0a4.3,4.3 0 1,0 -8.6,0M520.48,324.32a4.3,4.3 0 1,0 8.6,0a4.3,4.3 0 1,0 -8.6,0M522.59,321.38a4.3,4.3 0 1,0 8.6,0a4.3,4.3 0 1,0 -8.6,0M524.71,318.5a4.3,4.3 0 1,0 8.6,0a4.3,4.3 0 1,0 -8.6,0M526.82,315.69a4.3,4.3 0 1,0 8.6,0a4.3,4.3 0 1,0 -8.6,0M528.93,312.95a4.3,4.3 0 1,0 8.6,0a4.3,4.3 0 1,0 -8.6,0M531.05,310.27a4.3,4.3 0 1,0 8.6,0a4.3,4.3 0 1,0 -8.6,0M533.16,307.65a4.3,4.3 0 1,0 8.6,0a4.3,4.3 0 1,0 -8.6,0M535.27,305.1a4.3,4.3 0 1,0 8.6,0a4.3,4.3 0 1,0 -8.6,0M537.38,302.62a4.3,4.3 0 1,0 8.6,0a4.3,4.3 0 1,0 -8.6,0M539.5,300.2a4.3,4.3 0 1,0 8.6,0a4.3,4.3 0 1,0 -8.6,0M541.61,297.85a4.3,4.3 0 1,0 8.6,0a4.3,4.3 0 1,0 -8.6,0M543.72,295.56a4.3,4.3 0 1,0 8.6,0a4.3,4.3 0 1,0 -8.6,0M545.84,293.34a4.3,4.3 0 1,0 8.6,0a4.3,4.3 0 1,0 -8.6,0M547.95,291.18a4.3,4.3 0 1,0 8.6,0a4.3,4.3 0 1,0 -8.6,0M550.06,289.08a4.3,4.3 0 1,0 8.6,0a4.3,4.3 0 1,0 -8.6,0M552.18,287.05a4.3,4.3 0 1,0 8.6,0a4.3,4.3 0 1,0 -8.6,0M554.29,285.08a4.3,4.3 0 1,0 8.6,0a4.3,4.3 0 1,0 -8.6,0M556.4,283.17a4.3,4.3 0 1,0 8.6,0a4.3,4.3 0 1,0 -8.6,0M558.52,281.33a4.3,4.3 0 1,0 8.6,0a4.3,4.3 0 1,0 -8.6,0M560.63,279.55a4.3,4.3 0 1,0 8.6,0a4.3,4.3 0 1,0 -8.6,0M562.74,277.83a4.3,4.3 0 1,0 8.6,0a4.3,4.3 0 1,0 -8.6,0M564.86,276.17a4.3,4.3 0 1,0 8.6,0a4.3,4.3 0 1,0 -8.6,0M566.97,274.58a4.3,4.3 0 1,0 8.6,0a4.3,4.3 0 1,0 -8.6,0M569.08,273.05a4.3,4.3 0 1,0 8.6,0a4.3,4.3 0 1,0 -8.6,0M571.2,271.57a4.3,4.3 0 1,0 8.6,0a4.3,4.3 0 1,0 -8.6,0M573.31,270.16a4.3,4.3 0 1,0 8.6,0a4.3,4.3 0 1,0 -8.6,0M575.42,268.81a4.3,4.3 0 1,0 8.6,0a4.3,4.3 0 1,0 -8.6,0M577.54,267.52a4.3,4.3 0 1,0 8.6,0a4.3,4.3 0 1,0 -8.6,0M579.65,266.29a4.3,4.3 0 1,0 8.6,0a4.3,4.3 0 1,0 -8.6,0M581.76,265.12a4.3,4.3 0 1,0 8.6,0a4.3,4.3 0 1,0 -8.6,0M583.88,264.01a4.3,4.3 0 1,0 8.6,0a4.3,4.3 0 1,0 -8.6,0M585.99,262.95a4.3,4.3 0 1,0 8.6,0a4.3,4.3 0 1,0 -8.6,0M588.1,261.96a4.3,4.3 0 1,0 8.6,0a4.3,4.3 0 1,0 -8.6,0M590.22,261.02a4.3,4.3 0 1,0 8.6,0a4.3,4.3 0 1,0 -8.6,0M592.33,260.14a4.3,4.3 0 1,0 8.6,0a4.3,4.3 0 1,0 -8.6,0M594.44,259.32a4.3,4.3 0 1,0 8.6,0a4.3,4.3 0 1,0 -8.6,0M596.56,258.56a4.3,4.3 0 1,0 8.6,0a4.3,4.3 0 1,0 -8.6,0M598.67,257.85a4.3,4.3 0 1,0 8.6,0a4.3,4.3 0 1,0 -8.6,0M600.78,257.19a4.3,4.3 0 1,0 8.6,0a4.3,4.3 0 1,0 -8.6,0M602.9,256.59a4.3,4.3 0 1,0 8.6,0a4.3,4.3 0 1,0 -8.6,0M605.01,256.05a4.3,4.3 0 1,0 8.6,0a4.3,4.3 0 1,0 -8.6,0M607.12,255.56a4.3,4.3 0 1,0 8.6,0a4.3,4.3 0 1,0 -8.6,0M609.24,255.12a4.3,4.3 0 1,0 8.6,0a4.3,4.3 0 1,0 -8.6,0M611.35,254.73a4.3,4.3 0 1,0 8.6,0a4.3,4.3 0 1,0 -8.6,0M613.46,254.4a4.3,4.3 0 1,0 8.6,0a4.3,4.3 0 1,0 -8.6,0M615.58,254.11a4.3,4.3 0 1,0 8.6,0a4.3,4.3 0 1,0 -8.6,0M617.69,253.88a4.3,4.3 0 1,0 8.6,0a4.3,4.3 0 1,0 -8.6,0M619.8,253.69a4.3,4.3 0 1,0 8.6,0a4.3,4.3 0 1,0 -8.6,0M621.92,253.55a4.3,4.3 0 1,0 8.6,0a4.3,4.3 0 1,0 -8.6,0M624.03,253.46a4.3,4.3 0 1,0 8.6,0a4.3,4.3 0 1,0 -8.6,0M626.14,253.4a4.3,4.3 0 1,0 8.6,0a4.3,4.3 0 1,0 -8.6,0M628.26,253.39a4.3,4.3 0 1,0 8.6,0a4.3,4.3 0 1,0 -8.6,0M630.37,253.4a4.3,4.3 0 1,0 8.6,0a4.3,4.3 0 1,0 -8.6,0M632.48,253.46a4.3,4.3 0 1,0 8.6,0a4.3,4.3 0 1,0 -8.6,0M634.6,253.55a4.3,4.3 0 1,0 8.6,0a4.3,4.3 0 1,0 -8.6,0M636.71,253.69a4.3,4.3 0 1,0 8.6,0a4.3,4.3 0 1,0 -8.6,0M638.82,253.88a4.3,4.3 0 1,0 8.6,0a4.3,4.3 0 1,0 -8.6,0M640.94,254.11a4.3,4.3 0 1,0 8.6,0a4.3,4.3 0 1,0 -8.6,0M643.05,254.4a4.3,4.3 0 1,0 8.6,0a4.3,4.3 0 1,0 -8.6,0M645.16,254.73a4.3,4.3 0 1,0 8.6,0a4.3,4.3 0 1,0 -8.6,0M647.28,255.12a4.3,4.3 0 1,0 8.6,0a4.3,4.3 0 1,0 -8.6,0M649.39,255.56a4.3,4.3 0 1,0 8.6,0a4.3,4.3 0 1,0 -8.6,0M651.5,256.05a4.3,4.3 0 1,0 8.6,0a4.3,4.3 0 1,0 -8.6,0M653.62,256.59a4.3,4.3 0 1,0 8.6,0a4.3,4.3 0 1,0 -8.6,0M655.73,257.19a4.3,4.3 0 1,0 8.6,0a4.3,4.3 0 1,0 -8.6,0M657.84,257.85a4.3,4.3 0 1,0 8.6,0a4.3,4.3 0 1,0 -8.6,0M659.96,258.56a4.3,4.3 0 1,0 8.6,0a4.3,4.3 0 1,0 -8.6,0M662.07,259.32a4.3,4.3 0 1,0 8.6,0a4.3,4.3 0 1,0 -8.6,0M664.18,260.14a4.3,4.3 0 1,0 8.6,0a4.3,4.3 0 1,0 -8.6,0M666.3,261.02a4.3,4.3 0 1,0 8.6,0a4.3,4.3 0 1,0 -8.6,0M668.41,261.96a4.3,4.3 0 1,0 8.6,0a4.3,4.3 0 1,0 -8.6,0M670.52,262.95a4.3,4.3 0 1,0 8.6,0a4.3,4.3 0 1,0 -8.6,0M672.64,264.01a4.3,4.3 0 1,0 8.6,0a4.3,4.3 0 1,0 -8.6,0M674.75,265.12a4.3,4.3 0 1,0 8.6,0a4.3,4.3 0 1,0 -8.6,0M676.86,266.29a4.3,4.3 0 1,0 8.6,0a4.3,4.3 0 1,0 -8.6,0M678.98,267.52a4.3,4.3 0 1,0 8.6,0a4.3,4.3 0 1,0 -8.6,0M681.09,268.81a4.3,4.3 0 1,0 8.6,0a4.3,4.3 0 1,0 -8.6,0M683.2,270.16a4.3,4.3 0 1,0 8.6,0a4.3,4.3 0 1,0 -8.6,0M685.32,271.57a4.3,4.3 0 1,0 8.6,0a4.3,4.3 0 1,0 -8.6,0M687.43,273.05a4.3,4.3 0 1,0 8.6,0a4.3,4.3 0 1,0 -8.6,0M689.54,274.58a4.3,4.3 0 1,0 8.6,0a4.3,4.3 0 1,0 -8.6,0M691.66,276.17a4.3,4.3 0 1,0 8.6,0a4.3,4.3 0 1,0 -8.6,0M693.77,277.83a4.3,4.3 0 1,0 8.6,0a4.3,4.3 0 1,0 -8.6,0M695.88,279.55a4.3,4.3 0 1,0 8.6,0a4.3,4.3 0 1,0 -8.6,0M698,281.33a4.3,4.3 0 1,0 8.6,0a4.3,4.3 0 1,0 -8.6,0M700.11,283.17a4.3,4.3 0 1,0 8.6,0a4.3,4.3 0 1,0 -8.6,0M702.22,285.08a4.3,4.3 0 1,0 8.6,0a4.3,4.3 0 1,0 -8.6,0M704.34,287.05a4.3,4.3 0 1,0 8.6,0a4.3,4.3 0 1,0 -8.6,0M706.45,289.08a4.3,4.3 0 1,0 8.6,0a4.3,4.3 0 1,0 -8.6,0M708.56,291.18a4.3,4.3 0 1,0 8.6,0a4.3,4.3 0 1,0 -8.6,0M710.68,293.34a4.3,4.3 0 1,0 8.6,0a4.3,4.3 0 1,0 -8.6,0M712.79,295.56a4.3,4.3 0 1,0 8.6,0a4.3,4.3 0 1,0 -8.6,0M714.9,297.85a4.3,4.3 0 1,0 8.6,0a4.3,4.3 0 1,0 -8.6,0M717.02,300.2a4.3,4.3 0 1,0 8.6,0a4.3,4.3 0 1,0 -8.6,0M719.13,302.62a4.3,4.3 0 1,0 8.6,0a4.3,4.3 0 1,0 -8.6,0M721.24,305.1a4.3,4.3 0 1,0 8.6,0a4.3,4.3 0 1,0 -8.6,0M723.35,307.65a4.3,4.3 0 1,0 8.6,0a4.3,4.3 0 1,0 -8.6,0M725.47,310.27a4.3,4.3 0 1,0 8.6,0a4.3,4.3 0 1,0 -8.6,0M727.58,312.95a4.3,4.3 0 1,0 8.6,0a4.3,4.3 0 1,0 -8.6,0M729.69,315.69a4.3,4.3 0 1,0 8.6,0a4.3,4.3 0 1,0 -8.6,0M731.81,318.5a4.3,4.3 0 1,0 8.6,0a4.3,4.3 0 1,0 -8.6,0M733.92,321.38a4.3,4.3 0 1,0 8.6,0a4.3,4.3 0 1,0 -8.6,0M736.03,324.32a4.3,4.3 0 1,0 8.6,0a4.3,4.3 0 1,0 -8.6,0M738.15,327.33a4.3,4.3 0 1,0 8.6,0a4.3,4.3 0 1,0 -8.6,0M740.26,330.41a4.3,4.3 0 1,0 8.6,0a4.3,4.3 0 1,0 -8.6,0M742.37,333.55a4.3,4.3 0 1,0 8.6,0a4.3,4.3 0 1,0 -8.6,0M744.49,336.76a4.3,4.3 0 1,0 8.6,0a4.3,4.3 0 1,0 -8.6,0M746.6,340.04a4.3,4.3 0 1,0 8.6,0a4.3,4.3 0 1,0 -8.6,0M748.71,343.38a4.3,4.3 0 1,0 8.6,0a4.3,4.3 0 1,0 -8.6,0M750.83,346.8a4.3,4.3 0 1,0 8.6,0a4.3,4.3 0 1,0 -8.6,0M752.94,350.28a4.3,4.3 0 1,0 8.6,0a4.3,4.3 0 1,0 -8.6,0M755.05,353.83a4.3,4.3 0 1,0 8.6,0a4.3,4.3 0 1,0 -8.6,0M757.17,357.44a4.3,4.3 0 1,0 8.6,0a4.3,4.3 0 1,0 -8.6,0M759.28,361.13a4.3,4.3 0 1,0 8.6,0a4.3,4.3 0 1,0 -8.6,0M761.39,364.88a4.3,4.3 0 1,0 8.6,0a4.3,4.3 0 1,0 -8.6,0M763.51,368.7a4.3,4.3 0 1,0 8.6,0a4.3,4.3 0 1,0 -8.6,0M765.62,372.59a4.3,4.3 0 1,0 8.6,0a4.3,4.3 0 1,0 -8.6,0M767.73,376.55a4.3,4.3 0 1,0 8.6,0a4.3,4.3 0 1,0 -8.6,0M769.85,380.58a4.3,4.3 0 1,0 8.6,0a4.3,4.3 0 1,0 -8.6,0M771.96,384.68a4.3,4.3 0 1,0 8.6,0a4.3,4.3 0 1,0 -8.6,0M774.07,388.84a4.3,4.3 0 1,0 8.6,0a4.3,4.3 0 1,0 -8.6,0M776.19,393.08a4.3,4.3 0 1,0 8.6,0a4.3,4.3 0 1,0 -8.6,0M778.3,397.38a4.3,4.3 0 1,0 8.6,0a4.3,4.3 0 1,0 -8.6,0M780.41,401.76a4.3,4.3 0 1,0 8.6,0a4.3,4.3 0 1,0 -8.6,0M782.53,406.2a4.3,4.3 0 1,0 8.6,0a4.3,4.3 0 1,0 -8.6,0M784.64,410.72a4.3,4.3 0 1,0 8.6,0a4.3,4.3 0 1,0 -8.6,0M786.75,415.3a4.3,4.3 0 1,0 8.6,0a4.3,4.3 0 1,0 -8.6,0M788.87,419.96a4.3,4.3 0 1,0 8.6,0a4.3,4.3 0 1,0 -8.6,0M790.98,424.68a4.3,4.3 0 1,0 8.6,0a4.3,4.3 0 1,0 -8.6,0M793.09,429.48a4.3,4.3 0 1,0 8.6,0a4.3,4.3 0 1,0 -8.6,0M795.21,434.35a4.3,4.3 0 1,0 8.6,0a4.3,4.3 0 1,0 -8.6,0M797.32,439.28a4.3,4.3 0 1,0 8.6,0a4.3,4.3 0 1,0 -8.6,0M799.43,444.29a4.3,4.3 0 1,0 8.6,0a4.3,4.3 0 1,0 -8.6,0M801.55,449.37a4.3,4.3 0 1,0 8.6,0a4.3,4.3 0 1,0 -8.6,0M803.66,454.52a4.3,4.3 0 1,0 8.6,0a4.3,4.3 0 1,0 -8.6,0M805.77,459.74a4.3,4.3 0 1,0 8.6,0a4.3,4.3 0 1,0 -8.6,0M807.89,465.04a4.3,4.3 0 1,0 8.6,0a4.3,4.3 0 1,0 -8.6,0M810,470.4a4.3,4.3 0 1,0 8.6,0a4.3,4.3 0 1,0 -8.6,0" fill="none" stroke="#ffff00" stroke-width="1.2"/>
<path d="M450.31,470.4a.5,.5 0 1,0 1,0a.5,.5 0 1,0 -1,0M452.43,465.04a.5,.5 0 1,0 1,0a.5,.5 0 1,0 -1,0M454.54,459.74a.5,.5 0 1,0 1,0a.5,.5 0 1,0 -1,0M456.65,454.52a.5,.5 0 1,0 1,0a.5,.5 0 1,0 -1,0M458.77,449.37a.5,.5 0 1,0 1,0a.5,.5 0 1,0 -1,0M460.88,444.29a.5,.5 0 1,0 1,0a.5,.5 0 1,0 -1,0M462.99,439.28a.5,.5 0 1,0 1,0a.5,.5 0 1,0 -1,0M465.11,434.35a.5,.5 0 1,0 1,0a.5,.5 0 1,0 -1,0M467.22,429.48a.5,.5 0 1,0 1,0a.5,.5 0 1,0 -1,0M469.33,424.68a.5,.5 0 1,0 1,0a.5,.5 0 1,0 -1,0M471.45,419.96a.5,.5 0 1,0 1,0a.5,.5 0 1,0 -1,0M473.56,415.3a.5,.5 0 1,0 1,0a.5,.5 0 1,0 -1,0M475.67,410.72a.5,.5 0 1,0 1,0a.5,.5 0 1,0 -1,0M477.79,406.2a.5,.5 0 1,0 1,0a.5,.5 0 1,0 -1,0M479.9,401.76a.5,.5 0 1,0 1,0a.5,.5 0 1,0 -1,0M482.01,397.38a.5,.5 0 1,0 1,0a.5,.5 0 1,0 -1,0M484.13,393.08a.5,.5 0 1,0 1,0a.5,.5 0 1,0 -1,0M486.24,388.84a.5,.5 0 1,0 1,0a.5,.5 0 1,0 -1,0M488.35,384.68a.5,.5 0 1,0 1,0a.5,.5 0 1,0 -1,0M490.47,380.58a.5,.5 0 1,0 1,0a.5,.5 0 1,0 -1,0M492.58,376.55a.5,.5 0 1,0 1,0a.5,.5 0 1,0 -1,0M494.69,372.59a.5,.5 0 1,0 1,0a.5,.5 0 1,0 -1,0M496.81,368.7a.5,.5 0 1,0 1,0a.5,.5 0 1,0 -1,0M498.92,364.88a.5,.5 0 1,0 1,0a.5,.5 0 1,0 -1,0M501.03,361.13a.5,.5 0 1,0 1,0a.5,.5 0 1,0 -1,0M503.15,357.44a.5,.5 0 1,0 1,0a.5,.5 0 1,0 -1,0M505.26,353.83a.5,.5 0 1,0 1,0a.5,.5 0 1,0 -1,0M507.37,350.28a.5,.5 0 1,0 1,0a.5,.5 0 1,0 -1,0M509.49,346.8a.5,.5 0 1,0 1,0a.5,.5 0 1,0 -1,0M511.6,343.38a.5,.5 0 1,0 1,0a.5,.5 0 1,0 -1,0M513.71,340.04a.5,.5 0 1,0 1,0a.5,.5 0 1,0 -1,0M515.83,336.76a.5,.5 0 1,0 1,0a.5,.5 0 1,0 -1,0M517.94,333.55a.5,.5 0 1,0 1,0a.5,.5 0 1,0 -1,0M520.05,330.41a.5,.5 0 1,0 1,0a.5,.5 0 1,0 -1,0M522.17,327.33a.5,.5 0 1,0 1,0a.5,.5 0 1,0 -1,0M524.28,324.32a.5,.5 0 1,0 1,0a.5,.5 0 1,0 -1,0M526.39,321.38a.5,.5 0 1,0 1,0a.5,.5 0 1,0 -1,0M528.51,318.5a.5,.5 0 1,0 1,0a.5,.5 0 1,0 -1,0M530.62,315.69a.5,.5 0 1,0 1,0a.5,.5 0 1,0 -1,0M532.73,312.95a.5,.5 0 1,0 1,0a.5,.5 0 1,0 -1,0M534.85,310.27a.5,.5 0 1,0 1,0a.5,.5 0 1,0 -1,0M536.96,307.65a.5,.5 0 1,0 1,0a.5,.5 0 1,0 -1,0M539.07,305.1a.5,.5 0 1,0 1,0a.5,.5 0 1,0 -1,0M541.18,302.62a.5,.5 0 1,0 1,0a.5,.5 0 1,0 -1,0M543.3,300.2a.5,.5 0 1,0 1,0a.5,.5 0 1,0 -1,0M545.41,297.85a.5,.5 0 1,0 1,0a.5,.5 0 1,0 -1,0M547.52,295.56a.5,.5 0 1,0 1,0a.5,.5 0 1,0 -1,0M549.64,293.34a.5,.5 0 1,0 1,0a.5,.5 0 1,0 -1,0M551.75,291.18a.5,.5 0 1,0 1,0a.5,.5 0 1,0 -1,0M553.86,289.08a.5,.5 0 1,0 1,0a.5,.5 0 1,0 -1,0M555.98,287.05a.5,.5 0 1,0 1,0a.5,.5 0 1,0 -1,0M558.09,285.08a.5,.5 0 1,0 1,0a.5,.5 0 1,0 -1,0M560.2,283.17a.5,.5 0 1,0 1,0a.5,.5 0 1,0 -1,0M562.32,281.33a.5,.5 0 1,0 1,0a.5,.5 0 1,0 -1,0M564.43,279.55a.5,.5 0 1,0 1,0a.5,.5 0 1,0 -1,0M566.54,277.83a.5,.5 0 1,0 1,0a.5,.5 0 1,0 -1,0M568.66,276.17a.5,.5 0 1,0 1,0a.5,.5 0 1,0 -1,0M570.77,274.58a.5,.5 0 1,0 1,0a.5,.5 0 1,0 -1,0M572.88,273.05a.5,.5 0 1,0 1,0a.5,.5 0 1,0 -1,0M575,271.57a.5,.5 0 1,0 1,0a.5,.5 0 1,0 -1,0M577.11,270.16a.5,.5 0 1,0 1,0a.5,.5 0 1,0 -1,0M579.22,268.81a.5,.5 0 1,0 1,0a.5,.5 0 1,0 -1,0M581.34,267.52a.5,.5 0 1,0 1,0a.5,.5 0 1,0 -1,0M583.45,266.29a.5,.5 0 1,0 1,0a.5,.5 0 1,0 -1,0M585.56,265.12a.5,.5 0 1,0 1,0a.5,.5 0 1,0 -1,0M587.68,264.01a.5,.5 0 1,0 1,0a.5,.5 0 1,0 -1,0M589.79,262.95a.5,.5 0 1,0 1,0a.5,.5 0 1,0 -1,0M591.9,261.96a.5,.5 0 1,0 1,0a.5,.5 0 1,0 -1,0M594.02,261.02a.5,.5 0 1,0 1,0a.5,.5 0 1,0 -1,0M596.13,260.14a.5,.5 0 1,0 1,0a.5,.5 0 1,0 -1,0M598.24,259.32a.5,.5 0 1,0 1,0a.5,.5 0 1,0 -1,0M600.36,258.56a.5,.5 0 1,0 1,0a.5,.5 0 1,0 -1,0M602.47,257.85a.5,.5 0 1,0 1,0a.5,.5 0 1,0 -1,0M604.58,257.19a.5,.5 0 1,0 1,0a.5,.5 0 1,0 -1,0M606.7,256.59a.5,.5 0 1,0 1,0a.5,.5 0 1,0 -1,0M608.81,256.05a.5,.5 0 1,0 1,0a.5,.5 0 1,0 -1,0M610.92,255.56a.5,.5 0 1,0 1,0a.5,.5 0 1,0 -1,0M613.04,255.12a.5,.5 0 1,0 1,0a.5,.5 0 1,0 -1,0M615.15,254.73a.5,.5 0 1,0 1,0a.5,.5 0 1,0 -1,0M617.26,254.4a.5,.5 0 1,0 1,0a.5,.5 0 1,0 -1,0M619.38,254.11a.5,.5 0 1,0 1,0a.5,.5 0 1,0 -1,0M621.49,253.88a.5,.5 0 1,0 1,0a.5,.5 0 1,0 -1,0M623.6,253.69a.5,.5 0 1,0 1,0a.5,.5 0 1,0 -1,0M625.72,253.55a.5,.5 0 1,0 1,0a.5,.5 0 1,0 -1,0M627.83,253.46a.5,.5 0 1,0 1,0a.5,.5 0 1,0 -1,0M629.94,253.4a.5,.5 0 1,0 1,0a.5,.5 0 1,0 -1,0M632.06,253.39a.5,.5 0 1,0 1,0a.5,.5 0 1,0 -1,0M634.17,253.4a.5,.5 0 1,0 1,0a.5,.5 0 1,0 -1,0M636.28,253.46a.5,.5 0 1,0 1,0a.5,.5 0 1,0 -1,0M638.4,253.55a.5,.5 0 1,0 1,0a.5,.5 0 1,0 -1,0M640.51,253.69a.5,.5 0 1,0 1,0a.5,.5 0 1,0 -1,0M642.62,253.88a.5,.5 0 1,0 1,0a.5,.5 0 1,0 -1,0M644.74,254.11a.5,.5 0 1,0 1,0a.5,.5 0 1,0 -1,0M646.85,254.4a.5,.5 0 1,0 1,0a.5,.5 0 1,0 -1,0M648.96,254.73a.5,.5 0 1,0 1,0a.5,.5 0 1,0 -1,0M651.08,255.12a.5,.5 0 1,0 1,0a.5,.5 0 1,0 -1,0M653.19,255.56a.5,.5 0 1,0 1,0a.5,.5 0 1,0 -1,0M655.3,256.05a.5,.5 0 1,0 1,0a.5,.5 0 1,0 -1,0M657.42,256.59a.5,.5 0 1,0 1,0a.5,.5 0 1,0 -1,0M659.53,257.19a.5,.5 0 1,0 1,0a.5,.5 0 1,0 -1,0M661.64,257.85a.5,.5 0 1,0 1,0a.5,.5 0 1,0 -1,0M663.76,258.56a.5,.5 0 1,0 1,0a.5,.5 0 1,0 -1,0M665.87,259.32a.5,.5 0 1,0 1,0a.5,.5 0 1,0 -1,0M667.98,260.14a.5,.5 0 1,0 1,0a.5,.5 0 1,0 -1,0M670.1,261.02a.5,.5 0 1,0 1,0a.5,.5 0 1,0 -1,0M672.21,261.96a.5,.5 0 1,0 1,0a.5,.5 0 1,0 -1,0M674.32,262.95a.5,.5 0 1,0 1,0a.5,.5 0 1,0 -1,0M676.44,264.01a.5,.5 0 1,0 1,0a.5,.5 0 1,0 -1,0M678.55,265.12a.5,.5 0 1,0 1,0a.5,.5 0 1,0 -1,0M680.66,266.29a.5,.5 0 1,0 1,0a.5,.5 0 1,0 -1,0M682.78,267.52a.5,.5 0 1,0 1,0a.5,.5 0 1,0 -1,0M684.89,268.81a.5,.5 0 1,0 1,0a.5,.5 0 1,0 -1,0M687,270.16a.5,.5 0 1,0 1,0a.5,.5 0 1,0 -1,0M689.12,271.57a.5,.5 0 1,0 1,0a.5,.5 0 1,0 -1,0M691.23,273.05a.5,.5 0 1,0 1,0a.5,.5 0 1,0 -1,0M693.34,274.58a.5,.5 0 1,0 1,0a.5,.5 0 1,0 -1,0M695.46,276.17a.5,.5 0 1,0 1,0a.5,.5 0 1,0 -1,0M697.57,277.83a.5,.5 0 1,0 1,0a.5,.5 0 1,0 -1,0M699.68,279.55a.5,.5 0 1,0 1,0a.5,.5 0 1,0 -1,0M701.8,281.33a.5,.5 0 1,0 1,0a.5,.5 0 1,0 -1,0M703.91,283.17a.5,.5 0 1,0 1,0a.5,.5 0 1,0 -1,0M706.02,285.08a.5,.5 0 1,0 1,0a.5,.5 0 1,0 -1,0M708.14,287.05a.5,.5 0 1,0 1,0a.5,.5 0 1,0 -1,0M710.25,289.08a.5,.5 0 1,0 1,0a.5,.5 0 1,0 -1,0M712.36,291.18a.5,.5 0 1,0 1,0a.5,.5 0 1,0 -1,0M714.48,293.34a.5,.5 0 1,0 1,0a.5,.5 0 1,0 -1,0M716.59,295.56a.5,.5 0 1,0 1,0a.5,.5 0 1,0 -1,0M718.7,297.85a.5,.5 0 1,0 1,0a.5,.5 0 1,0 -1,0M720.82,300.2a.5,.5 0 1,0 1,0a.5,.5 0 1,0 -1,0M722.93,302.62a.5,.5 0 1,0 1,0a.5,.5 0 1,0 -1,0M725.04,305.1a.5,.5 0 1,0 1,0a.5,.5 0 1,0 -1,0M727.15,307.65a.5,.5 0 1,0 1,0a.5,.5 0 1,0 -1,0M729.27,310.27a.5,.5 0 1,0 1,0a.5,.5 0 1,0 -1,0M731.38,312.95a.5,.5 0 1,0 1,0a.5,.5 0 1,0 -1,0M733.49,315.69a.5,.5 0 1,0 1,0a.5,.5 0 1,0 -1,0M735.61,318.5a.5,.5 0 1,0 1,0a.5,.5 0 1,0 -1,0M737.72,321.38a.5,.5 0 1,0 1,0a.5,.5 0 1,0 -1,0M739.83,324.32a.5,.5 0 1,0 1,0a.5,.5 0 1,0 -1,0M741.95,327.33a.5,.5 0 1,0 1,0a.5,.5 0 1,0 -1,0M744.06,330.41a.5,.5 0 1,0 1,0a.5,.5 0 1,0 -1,0M746.17,333.55a.5,.5 0 1,0 1,0a.5,.5 0 1,0 -1,0M748.29,336.76a.5,.5 0 1,0 1,0a.5,.5 0 1,0 -1,0M750.4,340.04a.5,.5 0 1,0 1,0a.5,.5 0 1,0 -1,0M752.51,343.38a.5,.5 0 1,0 1,0a.5,.5 0 1,0 -1,0M754.63,346.8a.5,.5 0 1,0 1,0a.5,.5 0 1,0 -1,0M756.74,350.28a.5,.5 0 1,0 1,0a.5,.5 0 1,0 -1,0M758.85,353.83a.5,.5 0 1,0 1,0a.5,.5 0 1,0 -1,0M760.97,357.44a.5,.5 0 1,0 1,0a.5,.5 0 1,0 -1,0M763.08,361.13a.5,.5 0 1,0 1,0a.5,.5 0 1,0 -1,0M765.19,364.88a.5,.5 0 1,0 1,0a.5,.5 0 1,0 -1,0M767.31,368.7a.5,.5 0 1,0 1,0a.5,.5 0 1,0 -1,0M769.42,372.59a.5,.5 0 1,0 1,0a.5,.5 0 1,0 -1,0M771.53,376.55a.5,.5 0 1,0 1,0a.5,.5 0 1,0 -1,0M773.65,380.58a.5,.5 0 1,0 1,0a.5,.5 0 1,0 -1,0M775.76,384.68a.5,.5 0 1,0 1,0a.5,.5 0 1,0 -1,0M777.87,388.84a.5,.5 0 1,0 1,0a.5,.5 0 1,0 -1,0M779.99,393.08a.5,.5 0 1,0 1,0a.5,.5 0 1,0 -1,0M782.1,397.38a.5,.5 0 1,0 1,0a.5,.5 0 1,0 -1,0M784.21,401.76a.5,.5 0 1,0 1,0a.5,.5 0 1,0 -1,0M786.33,406.2a.5,.5 0 1,0 1,0a.5,.5 0 1,0 -1,0M788.44,410.72a.5,.5 0 1,0 1,0a.5,.5 0 1,0 -1,0M790.55,415.3a.5,.5 0 1,0 1,0a.5,.5 0 1,0 -1,0M792.67,419.96a.5,.5 0 1,0 1,0a.5,.5 0 1,0 -1,0M794.78,424.68a.5,.5 0 1,0 1,0a.5,.5 0 1,0 -1,0M796.89,429.48a.5,.5 0 1,0 1,0a.5,.5 0 1,0 -1,0M799.01,434.35a.5,.5 0 1,0 1,0a.5,.5 0 1,0 -1,0M801.12,439.28a.5,.5 0 1,0 1,0a.5,.5 0 1,0 -1,0M803.23,444.29a.5,.5 0 1,0 1,0a.5,.5 0 1,0 -1,0M805.35,449.37a.5,.5 0 1,0 1,0a.5,.5 0 1,0 -1,0M807.46,454.52a.5,.5 0 1,0 1,0a.5,.5 0 1,0 -1,0M809.57,459.74a.5,.5 0 1,0 1,0a.5,.5 0 1,0 -1,0M811.69,465.04a.5,.5 0 1,0 1,0a.5,.5 0 1,0 -1,0M813.8,470.4a.5,.5 0 1,0 1,0a.5,.5 0 1,0 -1,0" fill="#ffff00" stroke="none"/>
<polyline points="450.81,470.4 452.93,463.18 455.04,456.05 457.15,449.02 459.27,442.09 461.38,435.25 463.49,428.51 465.61,421.87 467.72,415.32 469.83,408.87 471.95,402.52 474.06,396.26 476.17,390.09 478.29,384.02 480.4,378.05 482.51,372.16 484.63,366.38 486.74,360.69 488.85,355.09 490.97,349.59 493.08,344.18 495.19,338.86 497.31,333.64 499.42,328.51 501.53,323.47 503.65,318.52 505.76,313.67 507.87,308.91 509.99,304.24 512.1,299.66 514.21,295.18 516.33,290.78 518.44,286.48 520.55,282.27 522.67,278.14 524.78,274.11 526.89,270.17 529.01,266.32 531.12,262.55 533.23,258.88 535.35,255.29 537.46,251.8 539.57,248.39 541.68,245.07 543.8,241.84 545.91,238.69 548.02,235.63 550.14,232.66 552.25,229.77 554.36,226.97 556.48,224.26 558.59,221.63 560.7,219.09 562.82,216.63 564.93,214.25 567.04,211.96 569.16,209.76 571.27,207.63 573.38,205.59 575.5,203.63 577.61,201.75 579.72,199.95 581.84,198.24 583.95,196.6 586.06,195.05 588.18,193.57 590.29,192.17 592.4,190.85 594.52,189.61 596.63,188.45 598.74,187.36 600.86,186.34 602.97,185.4 605.08,184.54 607.2,183.75 609.31,183.03 611.42,182.38 613.54,181.8 615.65,181.3 617.76,180.86 619.88,180.48 621.99,180.17 624.1,179.93 626.22,179.75 628.33,179.62 630.44,179.55 632.56,179.53 634.67,179.55 636.78,179.62 638.9,179.75 641.01,179.93 643.12,180.17 645.24,180.48 647.35,180.86 649.46,181.3 651.58,181.8 653.69,182.38 655.8,183.03 657.92,183.75 660.03,184.54 662.14,185.4 664.26,186.34 666.37,187.36 668.48,188.45 670.6,189.61 672.71,190.85 674.82,192.17 676.94,193.57 679.05,195.05 681.16,196.6 683.28,198.24 685.39,199.95 687.5,201.75 689.62,203.63 691.73,205.59 693.84,207.63 695.96,209.76 698.07,211.96 700.18,214.25 702.3,216.63 704.41,219.09 706.52,221.63 708.64,224.26 710.75,226.97 712.86,229.77 714.98,232.66 717.09,235.63 719.2,238.69 721.32,241.84 723.43,245.07 725.54,248.39 727.65,251.8 729.77,255.29 731.88,258.88 733.99,262.55 736.11,266.32 738.22,270.17 740.33,274.11 742.45,278.14 744.56,282.27 746.67,286.48 748.79,290.78 750.9,295.18 753.01,299.66 755.13,304.24 757.24,308.91 759.35,313.67 761.47,318.52 763.58,323.47 765.69,328.51 767.81,333.64 769.92,338.86 772.03,344.18 774.15,349.59 776.26,355.09 778.37,360.69 780.49,366.38 782.6,372.16 784.71,378.05 786.83,384.02 788.94,390.09 791.05,396.26 793.17,402.52 795.28,408.87 797.39,415.32 799.51,421.87 801.62,428.51 803.73,435.25 805.85,442.09 807.96,449.02 810.07,456.05 812.19,463.18 814.3,470.4" fill="none" stroke="#000000" stroke-width="0.9" stroke-dasharray="2.60,2.60,2.60,7.80"/>
<path d="M446.51,470.4a4.3,4.3 0 1,0 8.6,0a4.3,4.3 0 1,0 -8.6,0M448.63,463.18a4.3,4.3 0 1,0 8.6,0a4.3,4.3 0 1,0 -8.6,0M450.74,456.05a4.3,4.3 0 1,0 8.6,0a4.3,4.3 0 1,0 -8.6,0M452.85,449.02a4.3,4.3 0 1,0 8.6,0a4.3,4.3 0 1,0 -8.6,0M454.97,442.09a4.3,4.3 0 1,0 8.6,0a4.3,4.3 0 1,0 -8.6,0M457.08,435.25a4.3,4.3 0 1,0 8.6,0a4.3,4.3 0 1,0 -8.6,0M459.19,428.51a4.3,4.3 0 1,0 8.6,0a4.3,4.3 0 1,0 -8.6,0M461.31,421.87a4.3,4.3 0 1,0 8.6,0a4.3,4.3 0 1,0 -8.6,0M463.42,415.32a4.3,4.3 0 1,0 8.6,0a4.3,4.3 0 1,0 -8.6,0M465.53,408.87a4.3,4.3 0 1,0 8.6,0a4.3,4.3 0 1,0 -8.6,0M467.65,402.52a4.3,4.3 0 1,0 8.6,0a4.3,4.3 0 1,0 -8.6,0M469.76,396.26a4.3,4.3 0 1,0 8.6,0a4.3,4.3 0 1,0 -8.6,0M471.87,390.09a4.3,4.3 0 1,0 8.6,0a4.3,4.3 0 1,0 -8.6,0M473.99,384.02a4.3,4.3 0 1,0 8.6,0a4.3,4.3 0 1,0 -8.6,0M476.1,378.05a4.3,4.3 0 1,0 8.6,0a4.3,4.3 0 1,0 -8.6,0M478.21,372.16a4.3,4.3 0 1,0 8.6,0a4.3,4.3 0 1,0 -8.6,0M480.33,366.38a4.3,4.3 0 1,0 8.6,0a4.3,4.3 0 1,0 -8.6,0M482.44,360.69a4.3,4.3 0 1,0 8.6,0a4.3,4.3 0 1,0 -8.6,0M484.55,355.09a4.3,4.3 0 1,0 8.6,0a4.3,4.3 0 1,0 -8.6,0M486.67,349.59a4.3,4.3 0 1,0 8.6,0a4.3,4.3 0 1,0 -8.6,0M488.78,344.18a4.3,4.3 0 1,0 8.6,0a4.3,4.3 0 1,0 -8.6,0M490.89,338.86a4.3,4.3 0 1,0 8.6,0a4.3,4.3 0 1,0 -8.6,0M493.01,333.64a4.3,4.3 0 1,0 8.6,0a4.3,4.3 0 1,0 -8.6,0M495.12,328.51a4.3,4.3 0 1,0 8.6,0a4.3,4.3 0 1,0 -8.6,0M497.23,323.47a4.3,4.3 0 1,0 8.6,0a4.3,4.3 0 1,0 -8.6,0M499.35,318.52a4.3,4.3 0 1,0 8.6,0a4.3,4.3 0 1,0 -8.6,0M501.46,313.67a4.3,4.3 0 1,0 8.6,0a4.3,4.3 0 1,0 -8.6,0M503.57,308.91a4.3,4.3 0 1,0 8.6,0a4.3,4.3 0 1,0 -8.6,0M505.69,304.24a4.3,4.3 0 1,0 8.6,0a4.3,4.3 0 1,0 -8.6,0M507.8,299.66a4.3,4.3 0 1,0 8.6,0a4.3,4.3 0 1,0 -8.6,0M509.91,295.18a4.3,4.3 0 1,0 8.6,0a4.3,4.3 0 1,0 -8.6,0M512.03,290.78a4.3,4.3 0 1,0 8.6,0a4.3,4.3 0 1,0 -8.6,0M514.14,286.48a4.3,4.3 0 1,0 8.6,0a4.3,4.3 0 1,0 -8.6,0M516.25,282.27a4.3,4.3 0 1,0 8.6,0a4.3,4.3 0 1,0 -8.6,0M518.37,278.14a4.3,4.3 0 1,0 8.6,0a4.3,4.3 0 1,0 -8.6,0M520.48,274.11a4.3,4.3 0 1,0 8.6,0a4.3,4.3 0 1,0 -8.6,0M522.59,270.17a4.3,4.3 0 1,0 8.6,0a4.3,4.3 0 1,0 -8.6,0M524.71,266.32a4.3,4.3 0 1,0 8.6,0a4.3,4.3 0 1,0 -8.6,0M526.82,262.55a4.3,4.3 0 1,0 8.6,0a4.3,4.3 0 1,0 -8.6,0M528.93,258.88a4.3,4.3 0 1,0 8.6,0a4.3,4.3 0 1,0 -8.6,0M531.05,255.29a4.3,4.3 0 1,0 8.6,0a4.3,4.3 0 1,0 -8.6,0M533.16,251.8a4.3,4.3 0 1,0 8.6,0a4.3,4.3 0 1,0 -8.6,0M535.27,248.39a4.3,4.3 0 1,0 8.6,0a4.3,4.3 0 1,0 -8.6,0M537.38,245.07a4.3,4.3 0 1,0 8.6,0a4.3,4.3 0 1,0 -8.6,0M539.5,241.84a4.3,4.3 0 1,0 8.6,0a4.3,4.3 0 1,0 -8.6,0M541.61,238.69a4.3,4.3 0 1,0 8.6,0a4.3,4.3 0 1,0 -8.6,0M543.72,235.63a4.3,4.3 0 1,0 8.6,0a4.3,4.3 0 1,0 -8.6,0M545.84,232.66a4.3,4.3 0 1,0 8.6,0a4.3,4.3 0 1,0 -8.6,0M547.95,229.77a4.3,4.3 0 1,0 8.6,0a4.3,4.3 0 1,0 -8.6,0M550.06,226.97a4.3,4.3 0 1,0 8.6,0a4.3,4.3 0 1,0 -8.6,0M552.18,224.26a4.3,4.3 0 1,0 8.6,0a4.3,4.3 0 1,0 -8.6,0M554.29,221.63a4.3,4.3 0 1,0 8.6,0a4.3,4.3 0 1,0 -8.6,0M556.4,219.09a4.3,4.3 0 1,0 8.6,0a4.3,4.3 0 1,0 -8.6,0M558.52,216.63a4.3,4.3 0 1,0 8.6,0a4.3,4.3 0 1,0 -8.6,0M560.63,214.25a4.3,4.3 0 1,0 8.6,0a4.3,4.3 0 1,0 -8.6,0M562.74,211.96a4.3,4.3 0 1,0 8.6,0a4.3,4.3 0 1,0 -8.6,0M564.86,209.76a4.3,4.3 0 1,0 8.6,0a4.3,4.3 0 1,0 -8.6,0M566.97,207.63a4.3,4.3 0 1,0 8.6,0a4.3,4.3 0 1,0 -8.6,0M569.08,205.59a4.3,4.3 0 1,0 8.6,0a4.3,4.3 0 1,0 -8.6,0M571.2,203.63a4.3,4.3 0 1,0 8.6,0a4.3,4.3 0 1,0 -8.6,0M573.31,201.75a4.3,4.3 0 1,0 8.6,0a4.3,4.3 0 1,0 -8.6,0M575.42,199.95a4.3,4.3 0 1,0 8.6,0a4.3,4.3 0 1,0 -8.6,0M577.54,198.24a4.3,4.3 0 1,0 8.6,0a4.3,4.3 0 1,0 -8.6,0M579.65,196.6a4.3,4.3 0 1,0 8.6,0a4.3,4.3 0 1,0 -8.6,0M581.76,195.05a4.3,4.3 0 1,0 8.6,0a4.3,4.3 0 1,0 -8.6,0M583.88,193.57a4.3,4.3 0 1,0 8.6,0a4.3,4.3 0 1,0 -8.6,0M585.99,192.17a4.3,4.3 0 1,0 8.6,0a4.3,4.3 0 1,0 -8.6,0M588.1,190.85a4.3,4.3 0 1,0 8.6,0a4.3,4.3 0 1,0 -8.6,0M590.22,189.61a4.3,4.3 0 1,0 8.6,0a4.3,4.3 0 1,0 -8.6,0M592.33,188.45a4.3,4.3 0 1,0 8.6,0a4.3,4.3 0 1,0 -8.6,0M594.44,187.36a4.3,4.3 0 1,0 8.6,0a4.3,4.3 0 1,0 -8.6,0M596.56,186.34a4.3,4.3 0 1,0 8.6,0a4.3,4.3 0 1,0 -8.6,0M598.67,185.4a4.3,4.3 0 1,0 8.6,0a4.3,4.3 0 1,0 -8.6,0M600.78,184.54a4.3,4.3 0 1,0 8.6,0a4.3,4.3 0 1,0 -8.6,0M602.9,183.75a4.3,4.3 0 1,0 8.6,0a4.3,4.3 0 1,0 -8.6,0M605.01,183.03a4.3,4.3 0 1,0 8.6,0a4.3,4.3 0 1,0 -8.6,0M607.12,182.38a4.3,4.3 0 1,0 8.6,0a4.3,4.3 0 1,0 -8.6,0M609.24,181.8a4.3,4.3 0 1,0 8.6,0a4.3,4.3 0 1,0 -8.6,0M611.35,181.3a4.3,4.3 0 1,0 8.6,0a4.3,4.3 0 1,0 -8.6,0M613.46,180.86a4.3,4.3 0 1,0 8.6,0a4.3,4.3 0 1,0 -8.6,0M615.58,180.48a4.3,4.3 0 1,0 8.6,0a4.3,4.3 0 1,0 -8.6,0M617.69,180.17a4.3,4.3 0 1,0 8.6,0a4.3,4.3 0 1,0 -8.6,0M619.8,179.93a4.3,4.3 0 1,0 8.6,0a4.3,4.3 0 1,0 -8.6,0M621.92,179.75a4.3,4.3 0 1,0 8.6,0a4.3,4.3 0 1,0 -8.6,0M624.03,179.62a4.3,4.3 0 1,0 8.6,0a4.3,4.3 0 1,0 -8.6,0M626.14,179.55a4.3,4.3 0 1,0 8.6,0a4.3,4.3 0 1,0 -8.6,0M628.26,179.53a4.3,4.3 0 1,0 8.6,0a4.3,4.3 0 1,0 -8.6,0M630.37,179.55a4.3,4.3 0 1,0 8.6,0a4.3,4.3 0 1,0 -8.6,0M632.48,179.62a4.3,4.3 0 1,0 8.6,0a4.3,4.3 0 1,0 -8.6,0M634.6,179.75a4.3,4.3 0 1,0 8.6,0a4.3,4.3 0 1,0 -8.6,0M636.71,179.93a4.3,4.3 0 1,0 8.6,0a4.3,4.3 0 1,0 -8.6,0M638.82,180.17a4.3,4.3 0 1,0 8.6,0a4.3,4.3 0 1,0 -8.6,0M640.94,180.48a4.3,4.3 0 1,0 8.6,0a4.3,4.3 0 1,0 -8.6,0M643.05,180.86a4.3,4.3 0 1,0 8.6,0a4.3,4.3 0 1,0 -8.6,0M645.16,181.3a4.3,4.3 0 1,0 8.6,0a4.3,4.3 0 1,0 -8.6,0M647.28,181.8a4.3,4.3 0 1,0 8.6,0a4.3,4.3 0 1,0 -8.6,0M649.39,182.38a4.3,4.3 0 1,0 8.6,0a4.3,4.3 0 1,0 -8.6,0M651.5,183.03a4.3,4.3 0 1,0 8.6,0a4.3,4.3 0 1,0 -8.6,0M653.62,183.75a4.3,4.3 0 1,0 8.6,0a4.3,4.3 0 1,0 -8.6,0M655.73,184.54a4.3,4.3 0 1,0 8.6,0a4.3,4.3 0 1,0 -8.6,0M657.84,185.4a4.3,4.3 0 1,0 8.6,0a4.3,4.3 0 1,0 -8.6,0M659.96,186.34a4.3,4.3 0 1,0 8.6,0a4.3,4.3 0 1,0 -8.6,0M662.07,187.36a4.3,4.3 0 1,0 8.6,0a4.3,4.3 0 1,0 -8.6,0M664.18,188.45a4.3,4.3 0 1,0 8.6,0a4.3,4.3 0 1,0 -8.6,0M666.3,189.61a4.3,4.3 0 1,0 8.6,0a4.3,4.3 0 1,0 -8.6,0M668.41,190.85a4.3,4.3 0 1,0 8.6,0a4.3,4.3 0 1,0 -8.6,0M670.52,192.17a4.3,4.3 0 1,0 8.6,0a4.3,4.3 0 1,0 -8.6,0M672.64,193.57a4.3,4.3 0 1,0 8.6,0a4.3,4.3 0 1,0 -8.6,0M674.75,195.05a4.3,4.3 0 1,0 8.6,0a4.3,4.3 0 1,0 -8.6,0M676.86,196.6a4.3,4.3 0 1,0 8.6,0a4.3,4.3 0 1,0 -8.6,0M678.98,198.24a4.3,4.3 0 1,0 8.6,0a4.3,4.3 0 1,0 -8.6,0M681.09,199.95a4.3,4.3 0 1,0 8.6,0a4.3,4.3 0 1,0 -8.6,0M683.2,201.75a4.3,4.3 0 1,0 8.6,0a4.3,4.3 0 1,0 -8.6,0M685.32,203.63a4.3,4.3 0 1,0 8.6,0a4.3,4.3 0 1,0 -8.6,0M687.43,205.59a4.3,4.3 0 1,0 8.6,0a4.3,4.3 0 1,0 -8.6,0M689.54,207.63a4.3,4.3 0 1,0 8.6,0a4.3,4.3 0 1,0 -8.6,0M691.66,209.76a4.3,4.3 0 1,0 8.6,0a4.3,4.3 0 1,0 -8.6,0M693.77,211.96a4.3,4.3 0 1,0 8.6,0a4.3,4.3 0 1,0 -8.6,0M695.88,214.25a4.3,4.3 0 1,0 8.6,0a4.3,4.3 0 1,0 -8.6,0M698,216.63a4.3,4.3 0 1,0 8.6,0a4.3,4.3 0 1,0 -8.6,0M700.11,219.09a4.3,4.3 0 1,0 8.6,0a4.3,4.3 0 1,0 -8.6,0M702.22,221.63a4.3,4.3 0 1,0 8.6,0a4.3,4.3 0 1,0 -8.6,0M704.34,224.26a4.3,4.3 0 1,0 8.6,0a4.3,4.3 0 1,0 -8.6,0M706.45,226.97a4.3,4.3 0 1,0 8.6,0a4.3,4.3 0 1,0 -8.6,0M708.56,229.77a4.3,4.3 0 1,0 8.6,0a4.3,4.3 0 1,0 -8.6,0M710.68,232.66a4.3,4.3 0 1,0 8.6,0a4.3,4.3 0 1,0 -8.6,0M712.79,235.63a4.3,4.3 0 1,0 8.6,0a4.3,4.3 0 1,0 -8.6,0M714.9,238.69a4.3,4.3 0 1,0 8.6,0a4.3,4.3 0 1,0 -8.6,0M717.02,241.84a4.3,4.3 0 1,0 8.6,0a4.3,4.3 0 1,0 -8.6,0M719.13,245.07a4.3,4.3 0 1,0 8.6,0a4.3,4.3 0 1,0 -8.6,0M721.24,248.39a4.3,4.3 0 1,0 8.6,0a4.3,4.3 0 1,0 -8.6,0M723.35,251.8a4.3,4.3 0 1,0 8.6,0a4.3,4.3 0 1,0 -8.6,0M725.47,255.29a4.3,4.3 0 1,0 8.6,0a4.3,4.3 0 1,0 -8.6,0M727.58,258.88a4.3,4.3 0 1,0 8.6,0a4.3,4.3 0 1,0 -8.6,0M729.69,262.55a4.3,4.3 0 1,0 8.6,0a4.3,4.3 0 1,0 -8.6,0M731.81,266.32a4.3,4.3 0 1,0 8.6,0a4.3,4.3 0 1,0 -8.6,0M733.92,270.17a4.3,4.3 0 1,0 8.6,0a4.3,4.3 0 1,0 -8.6,0M736.03,274.11a4.3,4.3 0 1,0 8.6,0a4.3,4.3 0 1,0 -8.6,0M738.15,278.14a4.3,4.3 0 1,0 8.6,0a4.3,4.3 0 1,0 -8.6,0M740.26,282.27a4.3,4.3 0 1,0 8.6,0a4.3,4.3 0 1,0 -8.6,0M742.37,286.48a4.3,4.3 0 1,0 8.6,0a4.3,4.3 0 1,0 -8.6,0M744.49,290.78a4.3,4.3 0 1,0 8.6,0a4.3,4.3 0 1,0 -8.6,0M746.6,295.18a4.3,4.3 0 1,0 8.6,0a4.3,4.3 0 1,0 -8.6,0M748.71,299.66a4.3,4.3 0 1,0 8.6,0a4.3,4.3 0 1,0 -8.6,0M750.83,304.24a4.3,4.3 0 1,0 8.6,0a4.3,4.3 0 1,0 -8.6,0M752.94,308.91a4.3,4.3 0 1,0 8.6,0a4.3,4.3 0 1,0 -8.6,0M755.05,313.67a4.3,4.3 0 1,0 8.6,0a4.3,4.3 0 1,0 -8.6,0M757.17,318.52a4.3,4.3 0 1,0 8.6,0a4.3,4.3 0 1,0 -8.6,0M759.28,323.47a4.3,4.3 0 1,0 8.6,0a4.3,4.3 0 1,0 -8.6,0M761.39,328.51a4.3,4.3 0 1,0 8.6,0a4.3,4.3 0 1,0 -8.6,0M763.51,333.64a4.3,4.3 0 1,0 8.6,0a4.3,4.3 0 1,0 -8.6,0M765.62,338.86a4.3,4.3 0 1,0 8.6,0a4.3,4.3 0 1,0 -8.6,0M767.73,344.18a4.3,4.3 0 1,0 8.6,0a4.3,4.3 0 1,0 -8.6,0M769.85,349.59a4.3,4.3 0 1,0 8.6,0a4.3,4.3 0 1,0 -8.6,0M771.96,355.09a4.3,4.3 0 1,0 8.6,0a4.3,4.3 0 1,0 -8.6,0M774.07,360.69a4.3,4.3 0 1,0 8.6,0a4.3,4.3 0 1,0 -8.6,0M776.19,366.38a4.3,4.3 0 1,0 8.6,0a4.3,4.3 0 1,0 -8.6,0M778.3,372.16a4.3,4.3 0 1,0 8.6,0a4.3,4.3 0 1,0 -8.6,0M780.41,378.05a4.3,4.3 0 1,0 8.6,0a4.3,4.3 0 1,0 -8.6,0M782.53,384.02a4.3,4.3 0 1,0 8.6,0a4.3,4.3 0 1,0 -8.6,0M784.64,390.09a4.3,4.3 0 1,0 8.6,0a4.3,4.3 0 1,0 -8.6,0M786.75,396.26a4.3,4.3 0 1,0 8.6,0a4.3,4.3 0 1,0 -8.6,0M788.87,402.52a4.3,4.3 0 1,0 8.6,0a4.3,4.3 0 1,0 -8.6,0M790.98,408.87a4.3,4.3 0 1,0 8.6,0a4.3,4.3 0 1,0 -8.6,0M793.09,415.32a4.3,4.3 0 1,0 8.6,0a4.3,4.3 0 1,0 -8.6,0M795.21,421.87a4.3,4.3 0 1,0 8.6,0a4.3,4.3 0 1,0 -8.6,0M797.32,428.51a4.3,4.3 0 1,0 8.6,0a4.3,4.3 0 1,0 -8.6,0M799.43,435.25a4.3,4.3 0 1,0 8.6,0a4.3,4.3 0 1,0 -8.6,0M801.55,442.09a4.3,4.3 0 1,0 8.6,0a4.3,4.3 0 1,0 -8.6,0M803.66,449.02a4.3,4.3 0 1,0 8.6,0a4.3,4.3 0 1,0 -8.6,0M805.77,456.05a4.3,4.3 0 1,0 8.6,0a4.3,4.3 0 1,0 -8.6,0M807.89,463.18a4.3,4.3 0 1,0 8.6,0a4.3,4.3 0 1,0 -8.6,0M810,470.4a4.3,4.3 0 1,0 8.6,0a4.3,4.3 0 1,0 -8.6,0" fill="#000000" stroke="none"/>
<polyline points="450.81,470.4 452.93,459.99 455.04,449.7 457.15,439.53 459.27,429.48 461.38,419.56 463.49,409.75 465.61,400.07 467.72,390.51 469.83,381.08 471.95,371.76 474.06,362.57 476.17,353.49 478.29,344.54 480.4,335.71 482.51,327.01 484.63,318.42 486.74,309.96 488.85,301.62 490.97,293.4 493.08,285.3 495.19,277.32 497.31,269.47 499.42,261.73 501.53,254.12 503.65,246.63 505.76,239.27 507.87,232.02 509.99,224.9 512.1,217.89 514.21,211.01 516.33,204.26 518.44,197.62 520.55,191.1 522.67,184.71 524.78,178.44 526.89,172.29 529.01,166.26 531.12,160.35 533.23,154.57 535.35,148.91 537.46,143.37 539.57,137.95 541.68,132.65 543.8,127.47 545.91,122.42 548.02,117.49 550.14,112.68 552.25,107.99 554.36,103.42 556.48,98.98 558.59,94.66 560.7,90.45 562.82,86.37 564.93,82.42 567.04,78.58 569.16,74.87 571.27,71.27 573.38,67.8 575.5,64.46 577.61,61.29 579.72,58.29 581.84,55.45 583.95,52.78 586.06,50.26 588.18,47.88 590.29,45.65 592.4,43.56 594.52,41.6 596.63,39.77 598.74,38.07 600.86,36.49 602.97,35.03 605.08,33.68 607.2,32.45 609.31,31.33 611.42,30.31 613.54,29.39 615.65,28.58 617.76,27.87 619.88,27.26 621.99,26.74 624.1,26.32 626.22,26 628.33,25.76 630.44,25.62 632.56,25.58 634.67,25.62 636.78,25.76 638.9,26 641.01,26.32 643.12,26.74 645.24,27.26 647.35,27.87 649.46,28.58 651.58,29.39 653.69,30.31 655.8,31.33 657.92,32.45 660.03,33.68 662.14,35.03 664.26,36.49 666.37,38.07 668.48,39.77 670.6,41.6 672.71,43.56 674.82,45.65 676.94,47.88 679.05,50.26 681.16,52.78 683.28,55.45 685.39,58.29 687.5,61.29 689.62,64.46 691.73,67.8 693.84,71.27 695.96,74.87 698.07,78.58 700.18,82.42 702.3,86.37 704.41,90.45 706.52,94.66 708.64,98.98 710.75,103.42 712.86,107.99 714.98,112.68 717.09,117.49 719.2,122.42 721.32,127.47 723.43,132.65 725.54,137.95 727.65,143.37 729.77,148.91 731.88,154.57 733.99,160.35 736.11,166.26 738.22,172.29 740.33,178.44 742.45,184.71 744.56,191.1 746.67,197.62 748.79,204.26 750.9,211.01 753.01,217.89 755.13,224.9 757.24,232.02 759.35,239.27 761.47,246.63 763.58,254.12 765.69,261.73 767.81,269.47 769.92,277.32 772.03,285.3 774.15,293.4 776.26,301.62 778.37,309.96 780.49,318.42 782.6,327.01 784.71,335.71 786.83,344.54 788.94,353.49 791.05,362.57 793.17,371.76 795.28,381.08 797.39,390.51 799.51,400.07 801.62,409.75 803.73,419.56 805.85,429.48 807.96,439.53 810.07,449.7 812.19,459.99 814.3,470.4" fill="none" stroke="#ff4d00" stroke-width="0.9" stroke-dasharray="1.30,2.60,7.80,2.60,1.30,2.60"/>
<path d="M450.81,465.58l-4.3,6.97h8.6zM452.93,455.17l-4.3,6.97h8.6zM455.04,444.88l-4.3,6.97h8.6zM457.15,434.71l-4.3,6.97h8.6zM459.27,424.67l-4.3,6.97h8.6zM461.38,414.74l-4.3,6.97h8.6zM463.49,404.94l-4.3,6.97h8.6zM465.61,395.26l-4.3,6.97h8.6zM467.72,385.7l-4.3,6.97h8.6zM469.83,376.26l-4.3,6.97h8.6zM471.95,366.94l-4.3,6.97h8.6zM474.06,357.75l-4.3,6.97h8.6zM476.17,348.68l-4.3,6.97h8.6zM478.29,339.73l-4.3,6.97h8.6zM480.4,330.9l-4.3,6.97h8.6zM482.51,322.19l-4.3,6.97h8.6zM484.63,313.61l-4.3,6.97h8.6zM486.74,305.14l-4.3,6.97h8.6zM488.85,296.8l-4.3,6.97h8.6zM490.97,288.58l-4.3,6.97h8.6zM493.08,280.48l-4.3,6.97h8.6zM495.19,272.51l-4.3,6.97h8.6zM497.31,264.65l-4.3,6.97h8.6zM499.42,256.92l-4.3,6.97h8.6zM501.53,249.31l-4.3,6.97h8.6zM503.65,241.82l-4.3,6.97h8.6zM505.76,234.45l-4.3,6.97h8.6zM507.87,227.2l-4.3,6.97h8.6zM509.99,220.08l-4.3,6.97h8.6zM512.1,213.08l-4.3,6.97h8.6zM514.21,206.2l-4.3,6.97h8.6zM516.33,199.44l-4.3,6.97h8.6zM518.44,192.8l-4.3,6.97h8.6zM520.55,186.29l-4.3,6.97h8.6zM522.67,179.89l-4.3,6.97h8.6zM524.78,173.62l-4.3,6.97h8.6zM526.89,167.47l-4.3,6.97h8.6zM529.01,161.44l-4.3,6.97h8.6zM531.12,155.54l-4.3,6.97h8.6zM533.23,149.75l-4.3,6.97h8.6zM535.35,144.09l-4.3,6.97h8.6zM537.46,138.55l-4.3,6.97h8.6zM539.57,133.13l-4.3,6.97h8.6zM541.68,127.83l-4.3,6.97h8.6zM543.8,122.66l-4.3,6.97h8.6zM545.91,117.61l-4.3,6.97h8.6zM548.02,112.67l-4.3,6.97h8.6zM550.14,107.86l-4.3,6.97h8.6zM552.25,103.17l-4.3,6.97h8.6zM554.36,98.61l-4.3,6.97h8.6zM556.48,94.16l-4.3,6.97h8.6zM558.59,89.84l-4.3,6.97h8.6zM560.7,85.64l-4.3,6.97h8.6zM562.82,81.56l-4.3,6.97h8.6zM564.93,77.6l-4.3,6.97h8.6zM567.04,73.77l-4.3,6.97h8.6zM569.16,70.05l-4.3,6.97h8.6zM571.27,66.46l-4.3,6.97h8.6zM573.38,62.99l-4.3,6.97h8.6zM575.5,59.65l-4.3,6.97h8.6zM577.61,56.48l-4.3,6.97h8.6zM579.72,53.47l-4.3,6.97h8.6zM581.84,50.64l-4.3,6.97h8.6zM583.95,47.96l-4.3,6.97h8.6zM586.06,45.44l-4.3,6.97h8.6zM588.18,43.06l-4.3,6.97h8.6zM590.29,40.83l-4.3,6.97h8.6zM592.4,38.74l-4.3,6.97h8.6zM594.52,36.78l-4.3,6.97h8.6zM596.63,34.96l-4.3,6.97h8.6zM598.74,33.25l-4.3,6.97h8.6zM600.86,31.67l-4.3,6.97h8.6zM602.97,30.21l-4.3,6.97h8.6zM605.08,28.87l-4.3,6.97h8.6zM607.2,27.63l-4.3,6.97h8.6zM609.31,26.51l-4.3,6.97h8.6zM611.42,25.49l-4.3,6.97h8.6zM613.54,24.58l-4.3,6.97h8.6zM615.65,23.77l-4.3,6.97h8.6zM617.76,23.06l-4.3,6.97h8.6zM619.88,22.44l-4.3,6.97h8.6zM621.99,21.93l-4.3,6.97h8.6zM624.1,21.51l-4.3,6.97h8.6zM626.22,21.18l-4.3,6.97h8.6zM628.33,20.95l-4.3,6.97h8.6zM630.44,20.81l-4.3,6.97h8.6zM632.56,20.76l-4.3,6.97h8.6zM634.67,20.81l-4.3,6.97h8.6zM636.78,20.95l-4.3,6.97h8.6zM638.9,21.18l-4.3,6.97h8.6zM641.01,21.51l-4.3,6.97h8.6zM643.12,21.93l-4.3,6.97h8.6zM645.24,22.44l-4.3,6.97h8.6zM647.35,23.06l-4.3,6.97h8.6zM649.46,23.77l-4.3,6.97h8.6zM651.58,24.58l-4.3,6.97h8.6zM653.69,25.49l-4.3,6.97h8.6zM655.8,26.51l-4.3,6.97h8.6zM657.92,27.63l-4.3,6.97h8.6zM660.03,28.87l-4.3,6.97h8.6zM662.14,30.21l-4.3,6.97h8.6zM664.26,31.67l-4.3,6.97h8.6zM666.37,33.25l-4.3,6.97h8.6zM668.48,34.96l-4.3,6.97h8.6zM670.6,36.78l-4.3,6.97h8.6zM672.71,38.74l-4.3,6.97h8.6zM674.82,40.83l-4.3,6.97h8.6zM676.94,43.06l-4.3,6.97h8.6zM679.05,45.44l-4.3,6.97h8.6zM681.16,47.96l-4.3,6.97h8.6zM683.28,50.64l-4.3,6.97h8.6zM685.39,53.47l-4.3,6.97h8.6zM687.5,56.48l-4.3,6.97h8.6zM689.62,59.65l-4.3,6.97h8.6zM691.73,62.99l-4.3,6.97h8.6zM693.84,66.46l-4.3,6.97h8.6zM695.96,70.05l-4.3,6.97h8.6zM698.07,73.77l-4.3,6.97h8.6zM700.18,77.6l-4.3,6.97h8.6zM702.3,81.56l-4.3,6.97h8.6zM704.41,85.64l-4.3,6.97h8.6zM706.52,89.84l-4.3,6.97h8.6zM708.64,94.16l-4.3,6.97h8.6zM710.75,98.61l-4.3,6.97h8.6zM712.86,103.17l-4.3,6.97h8.6zM714.98,107.86l-4.3,6.97h8.6zM717.09,112.67l-4.3,6.97h8.6zM719.2,117.61l-4.3,6.97h8.6zM721.32,122.66l-4.3,6.97h8.6zM723.43,127.83l-4.3,6.97h8.6zM725.54,133.13l-4.3,6.97h8.6zM727.65,138.55l-4.3,6.97h8.6zM729.77,144.09l-4.3,6.97h8.6zM731.88,149.75l-4.3,6.97h8.6zM733.99,155.54l-4.3,6.97h8.6zM736.11,161.44l-4.3,6.97h8.6zM738.22,167.47l-4.3,6.97h8.6zM740.33,173.62l-4.3,6.97h8.6zM742.45,179.89l-4.3,6.97h8.6zM744.56,186.29l-4.3,6.97h8.6zM746.67,192.8l-4.3,6.97h8.6zM748.79,199.44l-4.3,6.97h8.6zM750.9,206.2l-4.3,6.97h8.6zM753.01,213.08l-4.3,6.97h8.6zM755.13,220.08l-4.3,6.97h8.6zM757.24,227.2l-4.3,6.97h8.6zM759.35,234.45l-4.3,6.97h8.6zM761.47,241.82l-4.3,6.97h8.6zM763.58,249.31l-4.3,6.97h8.6zM765.69,256.92l-4.3,6.97h8.6zM767.81,264.65l-4.3,6.97h8.6zM769.92,272.51l-4.3,6.97h8.6zM772.03,280.48l-4.3,6.97h8.6zM774.15,288.58l-4.3,6.97h8.6zM776.26,296.8l-4.3,6.97h8.6zM778.37,305.14l-4.3,6.97h8.6zM780.49,313.61l-4.3,6.97h8.6zM782.6,322.19l-4.3,6.97h8.6zM784.71,330.9l-4.3,6.97h8.6zM786.83,339.73l-4.3,6.97h8.6zM788.94,348.68l-4.3,6.97h8.6zM791.05,357.75l-4.3,6.97h8.6zM793.17,366.94l-4.3,6.97h8.6zM795.28,376.26l-4.3,6.97h8.6zM797.39,385.7l-4.3,6.97h8.6zM799.51,395.26l-4.3,6.97h8.6zM801.62,404.94l-4.3,6.97h8.6zM803.73,414.74l-4.3,6.97h8.6zM805.85,424.67l-4.3,6.97h8.6zM807.96,434.71l-4.3,6.97h8.6zM810.07,444.88l-4.3,6.97h8.6zM812.19,455.17l-4.3,6.97h8.6zM814.3,465.58l-4.3,6.97h8.6z" fill="none" stroke="#ff4d00" stroke-width="1.0"/>
<path d="M450.31,470.4a.5,.5 0 1,0 1,0a.5,.5 0 1,0 -1,0M452.43,459.99a.5,.5 0 1,0 1,0a.5,.5 0 1,0 -1,0M454.54,449.7a.5,.5 0 1,0 1,0a.5,.5 0 1,0 -1,0M456.65,439.53a.5,.5 0 1,0 1,0a.5,.5 0 1,0 -1,0M458.77,429.48a.5,.5 0 1,0 1,0a.5,.5 0 1,0 -1,0M460.88,419.56a.5,.5 0 1,0 1,0a.5,.5 0 1,0 -1,0M462.99,409.75a.5,.5 0 1,0 1,0a.5,.5 0 1,0 -1,0M465.11,400.07a.5,.5 0 1,0 1,0a.5,.5 0 1,0 -1,0M467.22,390.51a.5,.5 0 1,0 1,0a.5,.5 0 1,0 -1,0M469.33,381.08a.5,.5 0 1,0 1,0a.5,.5 0 1,0 -1,0M471.45,371.76a.5,.5 0 1,0 1,0a.5,.5 0 1,0 -1,0M473.56,362.57a.5,.5 0 1,0 1,0a.5,.5 0 1,0 -1,0M475.67,353.49a.5,.5 0 1,0 1,0a.5,.5 0 1,0 -1,0M477.79,344.54a.5,.5 0 1,0 1,0a.5,.5 0 1,0 -1,0M479.9,335.71a.5,.5 0 1,0 1,0a.5,.5 0 1,0 -1,0M482.01,327.01a.5,.5 0 1,0 1,0a.5,.5 0 1,0 -1,0M484.13,318.42a.5,.5 0 1,0 1,0a.5,.5 0 1,0 -1,0M486.24,309.96a.5,.5 0 1,0 1,0a.5,.5 0 1,0 -1,0M488.35,301.62a.5,.5 0 1,0 1,0a.5,.5 0 1,0 -1,0M490.47,293.4a.5,.5 0 1,0 1,0a.5,.5 0 1,0 -1,0M492.58,285.3a.5,.5 0 1,0 1,0a.5,.5 0 1,0 -1,0M494.69,277.32a.5,.5 0 1,0 1,0a.5,.5 0 1,0 -1,0M496.81,269.47a.5,.5 0 1,0 1,0a.5,.5 0 1,0 -1,0M498.92,261.73a.5,.5 0 1,0 1,0a.5,.5 0 1,0 -1,0M501.03,254.12a.5,.5 0 1,0 1,0a.5,.5 0 1,0 -1,0M503.15,246.63a.5,.5 0 1,0 1,0a.5,.5 0 1,0 -1,0M505.26,239.27a.5,.5 0 1,0 1,0a.5,.5 0 1,0 -1,0M507.37,232.02a.5,.5 0 1,0 1,0a.5,.5 0 1,0 -1,0M509.49,224.9a.5,.5 0 1,0 1,0a.5,.5 0 1,0 -1,0M511.6,217.89a.5,.5 0 1,0 1,0a.5,.5 0 1,0 -1,0M513.71,211.01a.5,.5 0 1,0 1,0a.5,.5 0 1,0 -1,0M515.83,204.26a.5,.5 0 1,0 1,0a.5,.5 0 1,0 -1,0M517.94,197.62a.5,.5 0 1,0 1,0a.5,.5 0 1,0 -1,0M520.05,191.1a.5,.5 0 1,0 1,0a.5,.5 0 1,0 -1,0M522.17,184.71a.5,.5 0 1,0 1,0a.5,.5 0 1,0 -1,0M524.28,178.44a.5,.5 0 1,0 1,0a.5,.5 0 1,0 -1,0M526.39,172.29a.5,.5 0 1,0 1,0a.5,.5 0 1,0 -1,0M528.51,166.26a.5,.5 0 1,0 1,0a.5,.5 0 1,0 -1,0M530.62,160.35a.5,.5 0 1,0 1,0a.5,.5 0 1,0 -1,0M532.73,154.57a.5,.5 0 1,0 1,0a.5,.5 0 1,0 -1,0M534.85,148.91a.5,.5 0 1,0 1,0a.5,.5 0 1,0 -1,0M536.96,143.37a.5,.5 0 1,0 1,0a.5,.5 0 1,0 -1,0M539.07,137.95a.5,.5 0 1,0 1,0a.5,.5 0 1,0 -1,0M541.18,132.65a.5,.5 0 1,0 1,0a.5,.5 0 1,0 -1,0M543.3,127.47a.5,.5 0 1,0 1,0a.5,.5 0 1,0 -1,0M545.41,122.42a.5,.5 0 1,0 1,0a.5,.5 0 1,0 -1,0M547.52,117.49a.5,.5 0 1,0 1,0a.5,.5 0 1,0 -1,0M549.64,112.68a.5,.5 0 1,0 1,0a.5,.5 0 1,0 -1,0M551.75,107.99a.5,.5 0 1,0 1,0a.5,.5 0 1,0 -1,0M553.86,103.42a.5,.5 0 1,0 1,0a.5,.5 0 1,0 -1,0M555.98,98.98a.5,.5 0 1,0 1,0a.5,.5 0 1,0 -1,0M558.09,94.66a.5,.5 0 1,0 1,0a.5,.5 0 1,0 -1,0M560.2,90.45a.5,.5 0 1,0 1,0a.5,.5 0 1,0 -1,0M562.32,86.37a.5,.5 0 1,0 1,0a.5,.5 0 1,0 -1,0M564.43,82.42a.5,.5 0 1,0 1,0a.5,.5 0 1,0 -1,0M566.54,78.58a.5,.5 0 1,0 1,0a.5,.5 0 1,0 -1,0M568.66,74.87a.5,.5 0 1,0 1,0a.5,.5 0 1,0 -1,0M570.77,71.27a.5,.5 0 1,0 1,0a.5,.5 0 1,0 -1,0M572.88,67.8a.5,.5 0 1,0 1,0a.5,.5 0 1,0 -1,0M575,64.46a.5,.5 0 1,0 1,0a.5,.5 0 1,0 -1,0M577.11,61.29a.5,.5 0 1,0 1,0a.5,.5 0 1,0 -1,0M579.22,58.29a.5,.5 0 1,0 1,0a.5,.5 0 1,0 -1,0M581.34,55.45a.5,.5 0 1,0 1,0a.5,.5 0 1,0 -1,0M583.45,52.78a.5,.5 0 1,0 1,0a.5,.5 0 1,0 -1,0M585.56,50.26a.5,.5 0 1,0 1,0a.5,.5 0 1,0 -1,0M587.68,47.88a.5,.5 0 1,0 1,0a.5,.5 0 1,0 -1,0M589.79,45.65a.5,.5 0 1,0 1,0a.5,.5 0 1,0 -1,0M591.9,43.56a.5,.5 0 1,0 1,0a.5,.5 0 1,0 -1,0M594.02,41.6a.5,.5 0 1,0 1,0a.5,.5 0 1,0 -1,0M596.13,39.77a.5,.5 0 1,0 1,0a.5,.5 0 1,0 -1,0M598.24,38.07a.5,.5 0 1,0 1,0a.5,.5 0 1,0 -1,0M600.36,36.49a.5,.5 0 1,0 1,0a.5,.5 0 1,0 -1,0M602.47,35.03a.5,.5 0 1,0 1,0a.5,.5 0 1,0 -1,0M604.58,33.68a.5,.5 0 1,0 1,0a.5,.5 0 1,0 -1,0M606.7,32.45a.5,.5 0 1,0 1,0a.5,.5 0 1,0 -1,0M608.81,31.33a.5,.5 0 1,0 1,0a.5,.5 0 1,0 -1,0M610.92,30.31a.5,.5 0 1,0 1,0a.5,.5 0 1,0 -1,0M613.04,29.39a.5,.5 0 1,0 1,0a.5,.5 0 1,0 -1,0M615.15,28.58a.5,.5 0 1,0 1,0a.5,.5 0 1,0 -1,0M617.26,27.87a.5,.5 0 1,0 1,0a.5,.5 0 1,0 -1,0M619.38,27.26a.5,.5 0 1,0 1,0a.5,.5 0 1,0 -1,0M621.49,26.74a.5,.5 0 1,0 1,0a.5,.5 0 1,0 -1,0M623.6,26.32a.5,.5 0 1,0 1,0a.5,.5 0 1,0 -1,0M625.72,26a.5,.5 0 1,0 1,0a.5,.5 0 1,0 -1,0M627.83,25.76a.5,.5 0 1,0 1,0a.5,.5 0 1,0 -1,0M629.94,25.62a.5,.5 0 1,0 1,0a.5,.5 0 1,0 -1,0M632.06,25.58a.5,.5 0 1,0 1,0a.5,.5 0 1,0 -1,0M634.17,25.62a.5,.5 0 1,0 1,0a.5,.5 0 1,0 -1,0M636.28,25.76a.5,.5 0 1,0 1,0a.5,.5 0 1,0 -1,0M638.4,26a.5,.5 0 1,0 1,0a.5,.5 0 1,0 -1,0M640.51,26.32a.5,.5 0 1,0 1,0a.5,.5 0 1,0 -1,0M642.62,26.74a.5,.5 0 1,0 1,0a.5,.5 0 1,0 -1,0M644.74,27.26a.5,.5 0 1,0 1,0a.5,.5 0 1,0 -1,0M646.85,27.87a.5,.5 0 1,0 1,0a.5,.5 0 1,0 -1,0M648.96,28.58a.5,.5 0 1,0 1,0a.5,.5 0 1,0 -1,0M651.08,29.39a.5,.5 0 1,0 1,0a.5,.5 0 1,0 -1,0M653.19,30.31a.5,.5 0 1,0 1,0a.5,.5 0 1,0 -1,0M655.3,31.33a.5,.5 0 1,0 1,0a.5,.5 0 1,0 -1,0M657.42,32.45a.5,.5 0 1,0 1,0a.5,.5 0 1,0 -1,0M659.53,33.68a.5,.5 0 1,0 1,0a.5,.5 0 1,0 -1,0M661.64,35.03a.5,.5 0 1,0 1,0a.5,.5 0 1,0 -1,0M663.76,36.49a.5,.5 0 1,0 1,0a.5,.5 0 1,0 -1,0M665.87,38.07a.5,.5 0 1,0 1,0a.5,.5 0 1,0 -1,0M667.98,39.77a.5,.5 0 1,0 1,0a.5,.5 0 1,0 -1,0M670.1,41.6a.5,.5 0 1,0 1,0a.5,.5 0 1,0 -1,0M672.21,43.56a.5,.5 0 1,0 1,0a.5,.5 0 1,0 -1,0M674.32,45.65a.5,.5 0 1,0 1,0a.5,.5 0 1,0 -1,0M676.44,47.88a.5,.5 0 1,0 1,0a.5,.5 0 1,0 -1,0M678.55,50.26a.5,.5 0 1,0 1,0a.5,.5 0 1,0 -1,0M680.66,52.78a.5,.5 0 1,0 1,0a.5,.5 0 1,0 -1,0M682.78,55.45a.5,.5 0 1,0 1,0a.5,.5 0 1,0 -1,0M684.89,58.29a.5,.5 0 1,0 1,0a.5,.5 0 1,0 -1,0M687,61.29a.5,.5 0 1,0 1,0a.5,.5 0 1,0 -1,0M689.12,64.46a.5,.5 0 1,0 1,0a.5,.5 0 1,0 -1,0M691.23,67.8a.5,.5 0 1,0 1,0a.5,.5 0 1,0 -1,0M693.34,71.27a.5,.5 0 1,0 1,0a.5,.5 0 1,0 -1,0M695.46,74.87a.5,.5 0 1,0 1,0a.5,.5 0 1,0 -1,0M697.57,78.58a.5,.5 0 1,0 1,0a.5,.5 0 1,0 -1,0M699.68,82.42a.5,.5 0 1,0 1,0a.5,.5 0 1,0 -1,0M701.8,86.37a.5,.5 0 1,0 1,0a.5,.5 0 1,0 -1,0M703.91,90.45a.5,.5 0 1,0 1,0a.5,.5 0 1,0 -1,0M706.02,94.66a.5,.5 0 1,0 1,0a.5,.5 0 1,0 -1,0M708.14,98.98a.5,.5 0 1,0 1,0a.5,.5 0 1,0 -1,0M710.25,103.42a.5,.5 0 1,0 1,0a.5,.5 0 1,0 -1,0M712.36,107.99a.5,.5 0 1,0 1,0a.5,.5 0 1,0 -1,0M714.48,112.68a.5,.5 0 1,0 1,0a.5,.5 0 1,0 -1,0M716.59,117.49a.5,.5 0 1,0 1,0a.5,.5 0 1,0 -1,0M718.7,122.42a.5,.5 0 1,0 1,0a.5,.5 0 1,0 -1,0M720.82,127.47a.5,.5 0 1,0 1,0a.5,.5 0 1,0 -1,0M722.93,132.65a.5,.5 0 1,0 1,0a.5,.5 0 1,0 -1,0M725.04,137.95a.5,.5 0 1,0 1,0a.5,.5 0 1,0 -1,0M727.15,143.37a.5,.5 0 1,0 1,0a.5,.5 0 1,0 -1,0M729.27,148.91a.5,.5 0 1,0 1,0a.5,.5 0 1,0 -1,0M731.38,154.57a.5,.5 0 1,0 1,0a.5,.5 0 1,0 -1,0M733.49,160.35a.5,.5 0 1,0 1,0a.5,.5 0 1,0 -1,0M735.61,166.26a.5,.5 0 1,0 1,0a.5,.5 0 1,0 -1,0M737.72,172.29a.5,.5 0 1,0 1,0a.5,.5 0 1,0 -1,0M739.83,178.44a.5,.5 0 1,0 1,0a.5,.5 0 1,0 -1,0M741.95,184.71a.5,.5 0 1,0 1,0a.5,.5 0 1,0 -1,0M744.06,191.1a.5,.5 0 1,0 1,0a.5,.5 0 1,0 -1,0M746.17,197.62a.5,.5 0 1,0 1,0a.5,.5 0 1,0 -1,0M748.29,204.26a.5,.5 0 1,0 1,0a.5,.5 0 1,0 -1,0M750.4,211.01a.5,.5 0 1,0 1,0a.5,.5 0 1,0 -1,0M752.51,217.89a.5,.5 0 1,0 1,0a.5,.5 0 1,0 -1,0M754.63,224.9a.5,.5 0 1,0 1,0a.5,.5 0 1,0 -1,0M756.74,232.02a.5,.5 0 1,0 1,0a.5,.5 0 1,0 -1,0M758.85,239.27a.5,.5 0 1,0 1,0a.5,.5 0 1,0 -1,0M760.97,246.63a.5,.5 0 1,0 1,0a.5,.5 0 1,0 -1,0M763.08,254.12a.5,.5 0 1,0 1,0a.5,.5 0 1,0 -1,0M765.19,261.73a.5,.5 0 1,0 1,0a.5,.5 0 1,0 -1,0M767.31,269.47a.5,.5 0 1,0 1,0a.5,.5 0 1,0 -1,0M769.42,277.32a.5,.5 0 1,0 1,0a.5,.5 0 1,0 -1,0M771.53,285.3a.5,.5 0 1,0 1,0a.5,.5 0 1,0 -1,0M773.65,293.4a.5,.5 0 1,0 1,0a.5,.5 0 1,0 -1,0M775.76,301.62a.5,.5 0 1,0 1,0a.5,.5 0 1,0 -1,0M777.87,309.96a.5,.5 0 1,0 1,0a.5,.5 0 1,0 -1,0M779.99,318.42a.5,.5 0 1,0 1,0a.5,.5 0 1,0 -1,0M782.1,327.01a.5,.5 0 1,0 1,0a.5,.5 0 1,0 -1,0M784.21,335.71a.5,.5 0 1,0 1,0a.5,.5 0 1,0 -1,0M786.33,344.54a.5,.5 0 1,0 1,0a.5,.5 0 1,0 -1,0M788.44,353.49a.5,.5 0 1,0 1,0a.5,.5 0 1,0 -1,0M790.55,362.57a.5,.5 0 1,0 1,0a.5,.5 0 1,0 -1,0M792.67,371.76a.5,.5 0 1,0 1,0a.5,.5 0 1,0 -1,0M794.78,381.08a.5,.5 0 1,0 1,0a.5,.5 0 1,0 -1,0M796.89,390.51a.5,.5 0 1,0 1,0a.5,.5 0 1,0 -1,0M799.01,400.07a.5,.5 0 1,0 1,0a.5,.5 0 1,0 -1,0M801.12,409.75a.5,.5 0 1,0 1,0a.5,.5 0 1,0 -1,0M803.23,419.56a.5,.5 0 1,0 1,0a.5,.5 0 1,0 -1,0M805.35,429.48a.5,.5 0 1,0 1,0a.5,.5 0 1,0 -1,0M807.46,439.53a.5,.5 0 1,0 1,0a.5,.5 0 1,0 -1,0M809.57,449.7a.5,.5 0 1,0 1,0a.5,.5 0 1,0 -1,0M811.69,459.99a.5,.5 0 1,0 1,0a.5,.5 0 1,0 -1,0M813.8,470.4a.5,.5 0 1,0 1,0a.5,.5 0 1,0 -1,0" fill="#ff4d00" stroke="none"/>
<g stroke="#000" stroke-width="1.5" fill="none">
<rect x="448.7" y="15.9" width="365.6" height="460.2"/>
<path d="M448.7,470.4h8M814.3,470.4h-8M448.7,413.6h8M814.3,413.6h-8M448.7,356.8h8M814.3,356.8h-8M448.7,300.0h8M814.3,300.0h-8M448.7,243.2h8M814.3,243.2h-8M448.7,186.3h8M814.3,186.3h-8M448.7,129.5h8M814.3,129.5h-8M448.7,72.7h8M814.3,72.7h-8M448.7,15.9h8M814.3,15.9h-8M448.7,476.1v-8M448.7,15.9v8M521.8,476.1v-8M521.8,15.9v8M594.9,476.1v-8M594.9,15.9v8M668.1,476.1v-8M668.1,15.9v8M741.2,476.1v-8M741.2,15.9v8M814.3,476.1v-8M814.3,15.9v8"/>
</g>
<text x="426.8" y="482.8" font-size="36.0" text-anchor="end">0</text>
<text x="426.8" y="426.0" font-size="36.0" text-anchor="end">0.01</text>
<text x="426.8" y="369.2" font-size="36.0" text-anchor="end">0.02</text>
<text x="426.8" y="312.4" font-size="36.0" text-anchor="end">0.03</text>
<text x="426.8" y="255.6" font-size="36.0" text-anchor="end">0.04</text>
<text x="426.8" y="198.7" font-size="36.0" text-anchor="end">0.05</text>
<text x="426.8" y="141.9" font-size="36.0" text-anchor="end">0.06</text>
<text x="426.8" y="85.1" font-size="36.0" text-anchor="end">0.07</text>
<text x="426.8" y="28.3" font-size="36.0" text-anchor="end">0.08</text>
<text x="453.0" y="522.9" font-size="36.0" text-anchor="middle">0</text>
<text x="525.9" y="522.9" font-size="36.0" text-anchor="middle">0.2</text>
<text x="598.7" y="522.9" font-size="36.0" text-anchor="middle">0.4</text>
<text x="671.6" y="522.9" font-size="36.0" text-anchor="middle">0.6</text>
<text x="744.3" y="522.9" font-size="36.0" text-anchor="middle">0.8</text>
<text x="817.1" y="522.9" font-size="36.0" text-anchor="middle">1</text>
<text x="602.3" y="571.9" font-size="36.0">z/L<tspan font-size="28.8" dy="10">z</tspan></text>
<text transform="translate(325.5,286.4) rotate(-90)" font-size="36.0">&lt;v&gt;<tspan font-size="28.8" dy="9.5">s,t</tspan></text>
<text x="179" y="48.8" font-size="36.0" text-anchor="end" style="letter-spacing:-0.9px">Δp=10<tspan font-size="28.8" dy="-18">-4</tspan></text>
<path d="M201,33.4H292.4" stroke="#ff0000" stroke-width="0.75" stroke-dasharray="none" fill="none"/>
<path d="M242.5,33.55h8.6M246.8,29.25v8.6" fill="none" stroke="#ff0000" stroke-width="0.7"/>
<text x="179" y="83.5" font-size="36.0" text-anchor="end" style="letter-spacing:-0.9px">Δp=4<tspan font-size="43" dy="3" style="letter-spacing:-4.2px">×</tspan><tspan dy="-3">10</tspan><tspan font-size="28.8" dy="-18">-4</tspan></text>
<path d="M201,68.1H292.4" stroke="#00ff00" stroke-width="0.9" stroke-dasharray="5.20,2.60" fill="none"/>
<path d="M242.5,63.96l8.6,8.6m-8.6,0l8.6,-8.6" fill="none" stroke="#00ff00" stroke-width="1.05"/>
<text x="179" y="118.2" font-size="36.0" text-anchor="end" style="letter-spacing:-0.9px">Δp=6<tspan font-size="43" dy="3" style="letter-spacing:-4.2px">×</tspan><tspan dy="-3">10</tspan><tspan font-size="28.8" dy="-18">-4</tspan></text>
<path d="M201,102.8H292.4" stroke="#0000ff" stroke-width="0.9" stroke-dasharray="2.60,3.90" fill="none"/>
<path d="M242.5,102.97h8.6M246.8,98.67v8.6" fill="none" stroke="#0000ff" stroke-width="0.7"/>
<path d="M242.5,98.67l8.6,8.6m-8.6,0l8.6,-8.6" fill="none" stroke="#0000ff" stroke-width="1.05"/>
<text x="179" y="152.9" font-size="36.0" text-anchor="end" style="letter-spacing:-0.9px">Δp=8<tspan font-size="43" dy="3" style="letter-spacing:-4.2px">×</tspan><tspan dy="-3">10</tspan><tspan font-size="28.8" dy="-18">-4</tspan></text>
<path d="M201,137.5H292.4" stroke="#ff00ff" stroke-width="0.9" stroke-dasharray="1.30,1.95" fill="none"/>
<path d="M242.5,133.38h8.6v8.6h-8.6z" fill="none" stroke="#ff00ff" stroke-width="1.1"/>
<path d="M246.3,137.68a.5,.5 0 1,0 1,0a.5,.5 0 1,0 -1,0" fill="#ff00ff" stroke="none"/>
<text x="179" y="187.6" font-size="36.0" text-anchor="end" style="letter-spacing:-0.9px">Δp=10<tspan font-size="28.8" dy="-18">-3</tspan></text>
<path d="M201,172.2H292.4" stroke="#00ffff" stroke-width="0.9" stroke-dasharray="7.80,2.60,1.30,2.60" fill="none"/>
<path d="M242.5,168.09h8.6v8.6h-8.6z" fill="#00ffff" stroke="none"/>
<text x="179" y="222.3" font-size="36.0" text-anchor="end" style="letter-spacing:-0.9px">Δp=1.5<tspan font-size="43" dy="3" style="letter-spacing:-4.2px">×</tspan><tspan dy="-3">10</tspan><tspan font-size="28.8" dy="-18">-3</tspan></text>
<path d="M201,206.9H292.4" stroke="#ffff00" stroke-width="0.9" stroke-dasharray="3.90,3.90,1.30,3.90" fill="none"/>
<path d="M242.5,207.1a4.3,4.3 0 1,0 8.6,0a4.3,4.3 0 1,0 -8.6,0" fill="none" stroke="#ffff00" stroke-width="1.2"/>
<path d="M246.3,207.1a.5,.5 0 1,0 1,0a.5,.5 0 1,0 -1,0" fill="#ffff00" stroke="none"/>
<text x="179" y="257.0" font-size="36.0" text-anchor="end" style="letter-spacing:-0.9px">Δp=2<tspan font-size="43" dy="3" style="letter-spacing:-4.2px">×</tspan><tspan dy="-3">10</tspan><tspan font-size="28.8" dy="-18">-3</tspan></text>
<path d="M201,241.6H292.4" stroke="#000000" stroke-width="0.9" stroke-dasharray="2.60,2.60,2.60,7.80" fill="none"/>
<path d="M242.5,241.81a4.3,4.3 0 1,0 8.6,0a4.3,4.3 0 1,0 -8.6,0" fill="#000000" stroke="none"/>
<text x="179" y="291.7" font-size="36.0" text-anchor="end" style="letter-spacing:-0.9px">Δp=3<tspan font-size="43" dy="3" style="letter-spacing:-4.2px">×</tspan><tspan dy="-3">10</tspan><tspan font-size="28.8" dy="-18">-3</tspan></text>
<path d="M201,276.3H292.4" stroke="#ff4d00" stroke-width="0.9" stroke-dasharray="1.30,2.60,7.80,2.60,1.30,2.60" fill="none"/>
<path d="M246.8,271.7l-4.3,6.97h8.6z" fill="none" stroke="#ff4d00" stroke-width="1.0"/>
<path d="M246.3,276.52a.5,.5 0 1,0 1,0a.5,.5 0 1,0 -1,0" fill="#ff4d00" stroke="none"/>
</svg></body></html>
